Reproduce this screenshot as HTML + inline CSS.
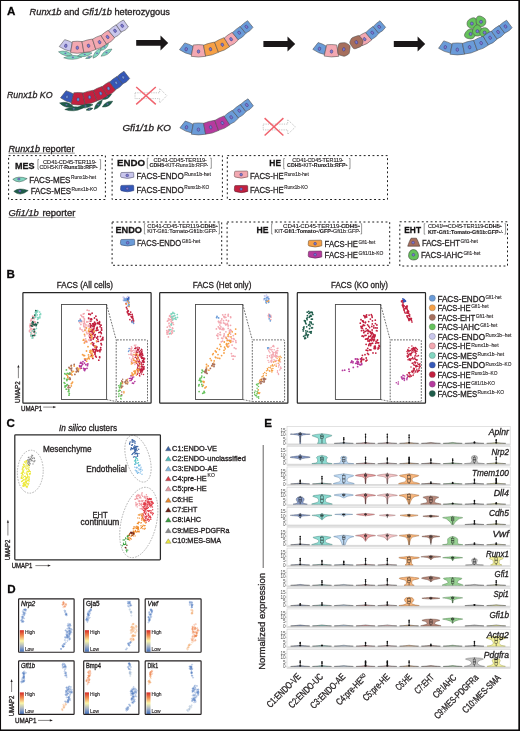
<!DOCTYPE html>
<html><head><meta charset="utf-8"><title>Figure</title>
<style>
html,body{margin:0;padding:0;background:#fff;}
body{width:520px;height:731px;overflow:hidden;}
svg{display:block;will-change:transform;font-family:"Liberation Sans", sans-serif;}
text{stroke:#231f20;stroke-width:0.3px;}
text.s{stroke-width:0.12px;}
text.t{stroke:none;}
</style></head><body>
<svg width="520" height="731" viewBox="0 0 520 731">
<rect x="0" y="0" width="520" height="731" fill="#fff"/>
<text x="7" y="15.1" font-size="11.6" font-weight="bold" fill="#000">A</text>
<text x="29.6" y="15" font-size="9.1" fill="#231f20" textLength="140.4" lengthAdjust="spacingAndGlyphs"><tspan font-style="italic">Runx1b</tspan> and <tspan font-style="italic">Gfi1/1b</tspan> heterozygous</text>
<path d="M58.5 51.8 Q64.49 57.41 72.3 54.9 Q66.31 49.29 58.5 51.8 Z" fill="#82d6c0" stroke="#3d5f57" stroke-width="0.45" stroke-linejoin="round"/><ellipse cx="65.4" cy="53.35" rx="1.1" ry="0.8" fill="#6a64b8" opacity="0.9"/>
<path d="M63.7 57.8 Q73.02 61.3 82 57 Q72.68 53.5 63.7 57.8 Z" fill="#82d6c0" stroke="#3d5f57" stroke-width="0.45" stroke-linejoin="round"/><ellipse cx="72.85" cy="57.4" rx="1.1" ry="0.8" fill="#6a64b8" opacity="0.9"/>
<path d="M77.5 56 Q85.54 58.32 92 53 Q83.96 50.68 77.5 56 Z" fill="#82d6c0" stroke="#3d5f57" stroke-width="0.45" stroke-linejoin="round"/><ellipse cx="84.75" cy="54.5" rx="1.1" ry="0.8" fill="#6a64b8" opacity="0.9"/>
<path d="M85.6 58.5 Q89.94 59.69 92.5 56 Q88.16 54.81 85.6 58.5 Z" fill="#82d6c0" stroke="#3d5f57" stroke-width="0.45" stroke-linejoin="round"/><ellipse cx="89.05" cy="57.25" rx="1.1" ry="0.8" fill="#6a64b8" opacity="0.9"/>
<path d="M93 58.2 Q100.24 55.86 101 48.3 Q93.76 50.64 93 58.2 Z" fill="#82d6c0" stroke="#3d5f57" stroke-width="0.45" stroke-linejoin="round"/><ellipse cx="97" cy="53.25" rx="1.1" ry="0.8" fill="#6a64b8" opacity="0.9"/>
<path d="M100.6 50.5 Q106.96 49.72 108.5 43.5 Q102.14 44.28 100.6 50.5 Z" fill="#82d6c0" stroke="#3d5f57" stroke-width="0.45" stroke-linejoin="round"/><ellipse cx="104.55" cy="47" rx="1.1" ry="0.8" fill="#6a64b8" opacity="0.9"/>
<path d="M101 56.2 Q108.64 55.86 112 49 Q104.36 49.34 101 56.2 Z" fill="#82d6c0" stroke="#3d5f57" stroke-width="0.45" stroke-linejoin="round"/><ellipse cx="106.5" cy="52.6" rx="1.1" ry="0.8" fill="#6a64b8" opacity="0.9"/>
<path d="M64.69 39.63 Q68.8 40.61 72.27 42.68 L70.76 51.35 Q64.68 50.32 59.28 46.57 Z" fill="#c9c6ec" stroke="#4a4a4a" stroke-width="0.55" stroke-linejoin="round"/>
<path d="M72.46 41.56 Q77.2 40.93 81.96 41.56 L83.93 52.59 Q77.22 53.99 70.54 52.59 Z" fill="#f3a8b1" stroke="#4a4a4a" stroke-width="0.55" stroke-linejoin="round"/>
<path d="M81.98 41.66 Q87.06 39.73 92.44 39.03 L95.83 49.49 Q90.23 52.34 83.92 52.49 Z" fill="#f3a8b1" stroke="#4a4a4a" stroke-width="0.55" stroke-linejoin="round"/>
<path d="M92.5 39.21 Q96.35 36.75 100.86 35.38 L106.63 44.27 Q101.66 48.1 95.77 49.29 Z" fill="#f3a8b1" stroke="#4a4a4a" stroke-width="0.55" stroke-linejoin="round"/>
<path d="M101.01 35.62 Q104.26 32.43 108.25 30.26 L114.67 37.92 Q111.41 42.08 106.46 44 Z" fill="#f3a8b1" stroke="#4a4a4a" stroke-width="0.55" stroke-linejoin="round"/>
<path d="M108.55 30.62 Q111.95 27.23 116.16 24.79 L121.3 32.18 Q118.61 36 114.33 37.52 Z" fill="#c9c6ec" stroke="#4a4a4a" stroke-width="0.55" stroke-linejoin="round"/>
<path d="M116.27 24.94 Q119.51 21.93 123.47 19.94 L128.38 27.01 Q125.57 30.66 121.18 32.01 Z" fill="#c9c6ec" stroke="#4a4a4a" stroke-width="0.55" stroke-linejoin="round"/>
<ellipse cx="65.8" cy="45.8" rx="1.3" ry="1.75" transform="rotate(9.87 65.8 45.8)" fill="#7d79d2" stroke="#35336e" stroke-width="0.45"/>
<ellipse cx="77.3" cy="47.8" rx="1.3" ry="1.75" transform="rotate(0 77.3 47.8)" fill="#7d79d2" stroke="#35336e" stroke-width="0.45"/>
<ellipse cx="88.5" cy="45.8" rx="1.3" ry="1.75" transform="rotate(-14.1 88.5 45.8)" fill="#7d79d2" stroke="#35336e" stroke-width="0.45"/>
<ellipse cx="99.6" cy="42.2" rx="1.3" ry="1.75" transform="rotate(-24.74 99.6 42.2)" fill="#7d79d2" stroke="#35336e" stroke-width="0.45"/>
<ellipse cx="107.6" cy="37" rx="1.3" ry="1.75" transform="rotate(-36.51 107.6 37)" fill="#7d79d2" stroke="#35336e" stroke-width="0.45"/>
<ellipse cx="115" cy="30.8" rx="1.3" ry="1.75" transform="rotate(-37.49 115 30.8)" fill="#7d79d2" stroke="#35336e" stroke-width="0.45"/>
<ellipse cx="122.2" cy="25.8" rx="1.3" ry="1.75" transform="rotate(-34.78 122.2 25.8)" fill="#7d79d2" stroke="#35336e" stroke-width="0.45"/>
<path d="M136.2 40 L160.5 40 L160.5 35.4 L168.2 42.9 L160.5 50.4 L160.5 45.8 L136.2 45.8 Z" fill="#1a1718"/>
<path d="M184.77 42.9 Q189.26 44.08 193.1 46.33 L191.52 54.79 Q185.18 53.6 179.48 49.68 Z" fill="#6a9bd8" stroke="#4a4a4a" stroke-width="0.55" stroke-linejoin="round"/>
<path d="M193.36 44.93 Q198.4 44.31 203.46 44.94 L205.65 56.33 Q198.42 57.73 191.23 56.34 Z" fill="#f3a8b1" stroke="#4a4a4a" stroke-width="0.55" stroke-linejoin="round"/>
<path d="M203.52 45.22 Q208.87 43.03 214.54 42.07 L218.46 52.35 Q212.43 55.52 205.59 56.02 Z" fill="#f6a046" stroke="#4a4a4a" stroke-width="0.55" stroke-linejoin="round"/>
<path d="M214.61 42.25 Q218.98 39.43 224.03 37.68 L229.65 46.67 Q224.5 50.72 218.38 52.15 Z" fill="#f6a046" stroke="#4a4a4a" stroke-width="0.55" stroke-linejoin="round"/>
<path d="M224.23 38 Q227.87 34.65 232.24 32.32 L238.37 39.96 Q234.71 44.28 229.43 46.31 Z" fill="#f3a8b1" stroke="#4a4a4a" stroke-width="0.55" stroke-linejoin="round"/>
<path d="M232.47 32.62 Q235.9 29.05 240.16 26.43 L245.82 33.42 Q242.78 37.67 238.11 39.64 Z" fill="#6a9bd8" stroke="#4a4a4a" stroke-width="0.55" stroke-linejoin="round"/>
<path d="M240.28 26.57 Q243.54 23.13 247.58 20.67 L252.99 27.36 Q250.22 31.4 245.69 33.26 Z" fill="#6a9bd8" stroke="#4a4a4a" stroke-width="0.55" stroke-linejoin="round"/>
<ellipse cx="186.2" cy="49.2" rx="1.3" ry="1.75" transform="rotate(10.59 186.2 49.2)" fill="#7d79d2" stroke="#35336e" stroke-width="0.45"/>
<ellipse cx="198.5" cy="51.5" rx="1.3" ry="1.75" transform="rotate(0 198.5 51.5)" fill="#7d79d2" stroke="#35336e" stroke-width="0.45"/>
<ellipse cx="210.5" cy="49.2" rx="1.3" ry="1.75" transform="rotate(-15.95 210.5 49.2)" fill="#7d79d2" stroke="#35336e" stroke-width="0.45"/>
<ellipse cx="222.3" cy="44.7" rx="1.3" ry="1.75" transform="rotate(-25.89 222.3 44.7)" fill="#7d79d2" stroke="#35336e" stroke-width="0.45"/>
<ellipse cx="231.1" cy="39.2" rx="1.3" ry="1.75" transform="rotate(-35.38 231.1 39.2)" fill="#7d79d2" stroke="#35336e" stroke-width="0.45"/>
<ellipse cx="239.2" cy="32.7" rx="1.3" ry="1.75" transform="rotate(-38.84 239.2 32.7)" fill="#7d79d2" stroke="#35336e" stroke-width="0.45"/>
<ellipse cx="246.5" cy="26.8" rx="1.3" ry="1.75" transform="rotate(-38.95 246.5 26.8)" fill="#7d79d2" stroke="#35336e" stroke-width="0.45"/>
<path d="M263.4 41.1 L287.5 41.1 L287.5 36.5 L295.2 44 L287.5 51.5 L287.5 46.9 L263.4 46.9 Z" fill="#1a1718"/>
<path d="M318.14 42.55 Q322.6 43.82 326.4 46.16 L324.51 54.55 Q318.32 53.3 312.84 49.33 Z" fill="#6a9bd8" stroke="#4a4a4a" stroke-width="0.55" stroke-linejoin="round"/>
<path d="M326.71 44.77 Q331.69 44.22 336.64 44.93 L338.77 56.34 Q331.46 57.61 324.16 56.09 Z" fill="#f3a8b1" stroke="#4a4a4a" stroke-width="0.55" stroke-linejoin="round"/>
<path d="M358.45 36.62 Q361.64 33.96 365.45 32.39 L371.77 39.88 Q367.65 43.99 362.03 45.74 Z" fill="#f3a8b1" stroke="#4a4a4a" stroke-width="0.55" stroke-linejoin="round"/>
<path d="M365.69 32.68 Q368.9 29.14 372.97 26.5 L378.82 33.34 Q376.01 37.56 371.5 39.56 Z" fill="#6a9bd8" stroke="#4a4a4a" stroke-width="0.55" stroke-linejoin="round"/>
<path d="M373.1 26.65 Q376.14 23.22 380 20.75 L385.58 27.28 Q383.04 31.3 378.68 33.18 Z" fill="#6a9bd8" stroke="#4a4a4a" stroke-width="0.55" stroke-linejoin="round"/>
<ellipse cx="319.5" cy="48.8" rx="1.3" ry="1.75" transform="rotate(12.68 319.5 48.8)" fill="#7d79d2" stroke="#35336e" stroke-width="0.45"/>
<ellipse cx="331.5" cy="51.5" rx="1.3" ry="1.75" transform="rotate(0.94 331.5 51.5)" fill="#7d79d2" stroke="#35336e" stroke-width="0.45"/>
<ellipse cx="364.6" cy="39.2" rx="1.3" ry="1.75" transform="rotate(-31.07 364.6 39.2)" fill="#7d79d2" stroke="#35336e" stroke-width="0.45"/>
<ellipse cx="372.3" cy="32.7" rx="1.3" ry="1.75" transform="rotate(-40.34 372.3 32.7)" fill="#7d79d2" stroke="#35336e" stroke-width="0.45"/>
<ellipse cx="379.2" cy="26.8" rx="1.3" ry="1.75" transform="rotate(-40.53 379.2 26.8)" fill="#7d79d2" stroke="#35336e" stroke-width="0.45"/>
<path d="M338.69 44.33 Q339.01 43.17 340.38 43.03 L343.88 42.68 Q345.26 42.54 346.36 43.2 L349.18 44.9 Q350.28 45.57 350.05 47.4 L349.45 52.06 Q349.21 53.9 348.13 54.46 L345.39 55.88 Q344.31 56.44 342.93 56.02 L339.4 54.96 Q338.01 54.55 337.91 53.2 L337.66 49.77 Q337.56 48.42 337.88 47.27Z" fill="#a66f5d" stroke="#4a4a4a" stroke-width="0.55" stroke-linejoin="round"/><ellipse cx="343.8" cy="49.3" rx="1.3" ry="1.75" transform="rotate(8 343.8 49.3)" fill="#7d79d2" stroke="#35336e" stroke-width="0.45"/>
<path d="M350.42 44.17 Q349.46 42.73 349.93 41.66 L351.12 38.95 Q351.59 37.88 353.25 37.28 L357.47 35.76 Q359.12 35.16 360.03 36.41 L362.34 39.58 Q363.25 40.83 362.88 42.04 L361.96 45.13 Q361.59 46.35 359.89 46.99 L355.53 48.63 Q353.82 49.27 352.86 47.83Z" fill="#a66f5d" stroke="#4a4a4a" stroke-width="0.55" stroke-linejoin="round"/><ellipse cx="356.4" cy="42.3" rx="1.3" ry="1.75" transform="rotate(-22 356.4 42.3)" fill="#7d79d2" stroke="#35336e" stroke-width="0.45"/>
<path d="M393.8 41.1 L417.6 41.1 L417.6 36.5 L425.2 44 L417.6 51.5 L417.6 46.9 L393.8 46.9 Z" fill="#1a1718"/>
<path d="M476.82 23.6 L476.63 24.87 L476.14 26.05 L475.36 27.06 L474.35 27.84 L473.17 28.33 L471.9 28.5 L470.63 28.33 L469.45 27.84 L468.44 27.06 L467.66 26.05 L467.17 24.87 L467 23.6 L467.17 22.33 L467.66 21.15 L468.43 20.13 L469.44 19.34 L470.58 18.69 L471.9 18.08 L473.48 17.71 L475.08 18.08 L476.21 19.29 L476.68 20.84 L476.81 22.28Z" fill="#66c25c" stroke="#4a4a4a" stroke-width="0.55" stroke-linejoin="round"/><ellipse cx="471.9" cy="23.6" rx="1.5" ry="1.6" fill="#7d79d2" stroke="#35336e" stroke-width="0.45"/>
<path d="M485.9 21.8 L485.73 23.07 L485.24 24.25 L484.46 25.26 L483.45 26.04 L482.27 26.53 L481 26.7 L479.73 26.53 L478.55 26.04 L477.54 25.26 L476.76 24.25 L476.27 23.07 L476.08 21.8 L476.09 20.48 L476.22 19.04 L476.69 17.49 L477.81 16.28 L479.42 15.91 L481 16.28 L482.32 16.89 L483.46 17.54 L484.47 18.33 L485.24 19.35 L485.73 20.53Z" fill="#66c25c" stroke="#4a4a4a" stroke-width="0.55" stroke-linejoin="round"/><ellipse cx="481" cy="21.8" rx="1.5" ry="1.6" fill="#7d79d2" stroke="#35336e" stroke-width="0.45"/>
<path d="M475.5 34 L475.33 35.27 L474.84 36.45 L474.06 37.46 L473.05 38.24 L471.87 38.73 L470.6 38.9 L469.32 38.78 L468 38.5 L466.56 38.04 L465.2 37.12 L464.48 35.64 L464.69 34 L465.44 32.62 L466.27 31.5 L467.13 30.53 L468.15 29.76 L469.33 29.27 L470.6 29.1 L471.87 29.27 L473.05 29.76 L474.06 30.54 L474.84 31.55 L475.33 32.73Z" fill="#66c25c" stroke="#4a4a4a" stroke-width="0.55" stroke-linejoin="round"/><ellipse cx="470.6" cy="34" rx="1.5" ry="1.6" fill="#7d79d2" stroke="#35336e" stroke-width="0.45"/>
<path d="M482.3 31.2 L482.13 32.47 L481.64 33.65 L480.86 34.66 L479.85 35.44 L478.67 35.93 L477.4 36.1 L476.13 35.93 L474.95 35.44 L473.94 34.66 L473.16 33.65 L472.67 32.47 L472.5 31.2 L472.67 29.93 L473.14 28.74 L473.81 27.61 L474.64 26.42 L475.82 25.31 L477.4 24.83 L478.98 25.31 L480.16 26.42 L480.99 27.61 L481.66 28.74 L482.13 29.93Z" fill="#66c25c" stroke="#4a4a4a" stroke-width="0.55" stroke-linejoin="round"/><ellipse cx="477.4" cy="31.2" rx="1.5" ry="1.6" fill="#7d79d2" stroke="#35336e" stroke-width="0.45"/>
<path d="M489.5 32.6 L489.34 33.87 L488.93 35.1 L488.38 36.38 L487.56 37.72 L486.24 38.72 L484.6 38.84 L483.12 38.12 L482 37.1 L481.1 36.1 L480.35 35.05 L479.87 33.87 L479.7 32.6 L479.87 31.33 L480.36 30.15 L481.14 29.14 L482.15 28.36 L483.33 27.87 L484.6 27.7 L485.87 27.87 L487.05 28.36 L488.06 29.14 L488.84 30.15 L489.33 31.33Z" fill="#66c25c" stroke="#4a4a4a" stroke-width="0.55" stroke-linejoin="round"/><ellipse cx="484.6" cy="32.6" rx="1.5" ry="1.6" fill="#7d79d2" stroke="#35336e" stroke-width="0.45"/>
<path d="M443.74 40.89 Q448.27 42.03 452.17 44.26 L450.34 53.08 Q444.12 52.03 438.57 48.26 Z" fill="#6a9bd8" stroke="#4a4a4a" stroke-width="0.55" stroke-linejoin="round"/>
<path d="M452.39 43.24 Q457.4 42.61 462.39 43.24 L464.62 54.21 Q457.38 55.61 450.1 54.21 Z" fill="#6a9bd8" stroke="#4a4a4a" stroke-width="0.55" stroke-linejoin="round"/>
<path d="M462.43 43.42 Q467.88 41.26 473.69 40.31 L477.29 50.5 Q471.29 53.6 464.58 54.01 Z" fill="#6a9bd8" stroke="#4a4a4a" stroke-width="0.55" stroke-linejoin="round"/>
<path d="M473.75 40.49 Q478.1 37.79 483.09 36.18 L488.48 45.07 Q483.33 49 477.22 50.3 Z" fill="#6a9bd8" stroke="#4a4a4a" stroke-width="0.55" stroke-linejoin="round"/>
<path d="M483.19 36.34 Q486.9 33.14 491.34 30.98 L497.15 39.13 Q493.5 43.2 488.37 44.89 Z" fill="#6a9bd8" stroke="#4a4a4a" stroke-width="0.55" stroke-linejoin="round"/>
<path d="M491.45 31.14 Q494.88 27.87 499.08 25.59 L504.81 33.3 Q501.7 37.28 497.02 38.95 Z" fill="#6a9bd8" stroke="#4a4a4a" stroke-width="0.55" stroke-linejoin="round"/>
<path d="M499.19 25.74 Q502.52 22.49 506.59 20.24 L512.08 27.63 Q509.22 31.5 504.68 33.13 Z" fill="#6a9bd8" stroke="#4a4a4a" stroke-width="0.55" stroke-linejoin="round"/>
<ellipse cx="445.3" cy="47.2" rx="1.3" ry="1.75" transform="rotate(11.77 445.3 47.2)" fill="#7d79d2" stroke="#35336e" stroke-width="0.45"/>
<ellipse cx="457.3" cy="49.7" rx="1.3" ry="1.75" transform="rotate(0 457.3 49.7)" fill="#7d79d2" stroke="#35336e" stroke-width="0.45"/>
<ellipse cx="469.6" cy="47.2" rx="1.3" ry="1.75" transform="rotate(-15.44 469.6 47.2)" fill="#7d79d2" stroke="#35336e" stroke-width="0.45"/>
<ellipse cx="481.2" cy="43.1" rx="1.3" ry="1.75" transform="rotate(-24.86 481.2 43.1)" fill="#7d79d2" stroke="#35336e" stroke-width="0.45"/>
<ellipse cx="490.1" cy="37.7" rx="1.3" ry="1.75" transform="rotate(-33.3 490.1 37.7)" fill="#7d79d2" stroke="#35336e" stroke-width="0.45"/>
<ellipse cx="498.1" cy="32" rx="1.3" ry="1.75" transform="rotate(-36.03 498.1 32)" fill="#7d79d2" stroke="#35336e" stroke-width="0.45"/>
<ellipse cx="505.5" cy="26.5" rx="1.3" ry="1.75" transform="rotate(-36.62 505.5 26.5)" fill="#7d79d2" stroke="#35336e" stroke-width="0.45"/>
<text x="7" y="98" font-size="9.3" font-style="italic" fill="#231f20" textLength="45.5" lengthAdjust="spacingAndGlyphs">Runx1b KO</text>
<path d="M59.6 103 Q65.44 109.08 73.5 106.6 Q67.66 100.52 59.6 103 Z" fill="#1f5d4b" stroke="#173f33" stroke-width="0.45" stroke-linejoin="round"/><ellipse cx="66.55" cy="104.8" rx="1.1" ry="0.8" fill="#6a64b8" opacity="0.9"/>
<path d="M64.8 109.5 Q74.03 112.74 82.7 108.2 Q73.47 104.96 64.8 109.5 Z" fill="#1f5d4b" stroke="#173f33" stroke-width="0.45" stroke-linejoin="round"/><ellipse cx="73.75" cy="108.85" rx="1.1" ry="0.8" fill="#6a64b8" opacity="0.9"/>
<path d="M78 107.2 Q86.14 109.8 93 104.7 Q84.86 102.1 78 107.2 Z" fill="#1f5d4b" stroke="#173f33" stroke-width="0.45" stroke-linejoin="round"/><ellipse cx="85.5" cy="105.95" rx="1.1" ry="0.8" fill="#6a64b8" opacity="0.9"/>
<path d="M86 110.1 Q90.18 111.66 93 108.2 Q88.82 106.64 86 110.1 Z" fill="#1f5d4b" stroke="#173f33" stroke-width="0.45" stroke-linejoin="round"/><ellipse cx="89.5" cy="109.15" rx="1.1" ry="0.8" fill="#6a64b8" opacity="0.9"/>
<path d="M94.2 109.5 Q101.22 107.28 102.3 100 Q95.28 102.22 94.2 109.5 Z" fill="#1f5d4b" stroke="#173f33" stroke-width="0.45" stroke-linejoin="round"/><ellipse cx="98.25" cy="104.75" rx="1.1" ry="0.8" fill="#6a64b8" opacity="0.9"/>
<path d="M102.3 99.5 Q108.77 99.87 111.5 94 Q105.03 93.63 102.3 99.5 Z" fill="#1f5d4b" stroke="#173f33" stroke-width="0.45" stroke-linejoin="round"/><ellipse cx="106.9" cy="96.75" rx="1.1" ry="0.8" fill="#6a64b8" opacity="0.9"/>
<path d="M102.3 107 Q109.4 107.51 112.7 101.2 Q105.6 100.69 102.3 107 Z" fill="#1f5d4b" stroke="#173f33" stroke-width="0.45" stroke-linejoin="round"/><ellipse cx="107.5" cy="104.1" rx="1.1" ry="0.8" fill="#6a64b8" opacity="0.9"/>
<path d="M66.04 90.72 Q70.11 91.84 73.52 94.04 L71.47 102.8 Q65.59 101.65 60.5 97.82 Z" fill="#3558b8" stroke="#4a4a4a" stroke-width="0.55" stroke-linejoin="round"/>
<path d="M73.83 92.74 Q78.31 92.17 82.75 92.85 L85.06 104.42 Q78.1 105.73 71.14 104.23 Z" fill="#c2203f" stroke="#4a4a4a" stroke-width="0.55" stroke-linejoin="round"/>
<path d="M82.79 93.04 Q87.93 91 93.4 90.18 L97.09 100.96 Q91.42 103.94 85.02 104.22 Z" fill="#c2203f" stroke="#4a4a4a" stroke-width="0.55" stroke-linejoin="round"/>
<path d="M93.46 90.36 Q97.31 87.91 101.82 86.53 L107.67 95.84 Q102.79 99.63 97.02 100.76 Z" fill="#c2203f" stroke="#4a4a4a" stroke-width="0.55" stroke-linejoin="round"/>
<path d="M101.97 86.77 Q105.35 83.7 109.41 81.68 L115.6 90.04 Q112.36 93.95 107.5 95.57 Z" fill="#c2203f" stroke="#4a4a4a" stroke-width="0.55" stroke-linejoin="round"/>
<path d="M109.64 81.98 Q112.88 78.75 116.91 76.49 L122.78 84.09 Q119.87 88.04 115.35 89.7 Z" fill="#3558b8" stroke="#4a4a4a" stroke-width="0.55" stroke-linejoin="round"/>
<path d="M117.03 76.64 Q120.15 73.44 124.03 71.24 L129.65 78.52 Q127.01 82.33 122.65 83.92 Z" fill="#3558b8" stroke="#4a4a4a" stroke-width="0.55" stroke-linejoin="round"/>
<ellipse cx="67" cy="96.9" rx="1.3" ry="1.75" transform="rotate(13.18 67 96.9)" fill="#6c95d8" stroke="#35336e" stroke-width="0.45"/>
<ellipse cx="78.1" cy="99.5" rx="1.3" ry="1.75" transform="rotate(0.76 78.1 99.5)" fill="#6c95d8" stroke="#35336e" stroke-width="0.45"/>
<ellipse cx="89.6" cy="97.2" rx="1.3" ry="1.75" transform="rotate(-15.1 89.6 97.2)" fill="#6c95d8" stroke="#35336e" stroke-width="0.45"/>
<ellipse cx="100.7" cy="93.4" rx="1.3" ry="1.75" transform="rotate(-24.72 100.7 93.4)" fill="#6c95d8" stroke="#35336e" stroke-width="0.45"/>
<ellipse cx="108.5" cy="88.5" rx="1.3" ry="1.75" transform="rotate(-34.37 108.5 88.5)" fill="#6c95d8" stroke="#35336e" stroke-width="0.45"/>
<ellipse cx="116.2" cy="82.8" rx="1.3" ry="1.75" transform="rotate(-37.06 116.2 82.8)" fill="#6c95d8" stroke="#35336e" stroke-width="0.45"/>
<ellipse cx="123.2" cy="77.4" rx="1.3" ry="1.75" transform="rotate(-37.65 123.2 77.4)" fill="#6c95d8" stroke="#35336e" stroke-width="0.45"/>
<path d="M135 92.8 L159.6 92.8 L159.6 88.4 L166.8 95.7 L159.6 103 L159.6 98.6 L135 98.6 Z" fill="none" stroke="#7a7a7a" stroke-width="0.45" stroke-dasharray="1.2 1.1"/>
<path d="M136.2 87 L155.8 104.4 M155.8 87 L136.2 104.4" stroke="#f0646e" stroke-width="1.5" stroke-linecap="butt"/>
<text x="122.4" y="130.8" font-size="9.3" font-style="italic" fill="#231f20" textLength="48.5" lengthAdjust="spacingAndGlyphs">Gfi1/1b KO</text>
<path d="M185.19 121.1 Q189.53 122.23 193.23 124.44 L191.59 132.88 Q185.41 131.74 179.9 127.87 Z" fill="#6a9bd8" stroke="#4a4a4a" stroke-width="0.55" stroke-linejoin="round"/>
<path d="M193.46 123.23 Q198.53 122.59 203.57 123.22 L205.63 134.23 Q198.51 135.63 191.33 134.22 Z" fill="#6a9bd8" stroke="#4a4a4a" stroke-width="0.55" stroke-linejoin="round"/>
<path d="M203.59 123.31 Q209 121.17 214.75 120.25 L218.54 130.57 Q212.45 133.7 205.61 134.13 Z" fill="#b53a9e" stroke="#4a4a4a" stroke-width="0.55" stroke-linejoin="round"/>
<path d="M214.81 120.42 Q219.11 117.64 224.06 115.92 L229.83 124.82 Q224.65 128.91 218.47 130.37 Z" fill="#b53a9e" stroke="#4a4a4a" stroke-width="0.55" stroke-linejoin="round"/>
<path d="M224.22 116.16 Q227.86 112.73 232.25 110.32 L238.57 118.07 Q234.93 122.45 229.65 124.56 Z" fill="#6a9bd8" stroke="#4a4a4a" stroke-width="0.55" stroke-linejoin="round"/>
<path d="M232.49 110.61 Q236.03 107.02 240.41 104.37 L245.97 111.7 Q242.94 115.86 238.3 117.74 Z" fill="#6a9bd8" stroke="#4a4a4a" stroke-width="0.55" stroke-linejoin="round"/>
<path d="M240.52 104.52 Q243.89 101.17 248.02 98.82 L253.35 105.83 Q250.44 109.79 245.85 111.53 Z" fill="#6a9bd8" stroke="#4a4a4a" stroke-width="0.55" stroke-linejoin="round"/>
<ellipse cx="186.5" cy="127.3" rx="1.3" ry="1.75" transform="rotate(10.94 186.5 127.3)" fill="#7d79d2" stroke="#35336e" stroke-width="0.45"/>
<ellipse cx="198.4" cy="129.6" rx="1.3" ry="1.75" transform="rotate(0 198.4 129.6)" fill="#7d79d2" stroke="#35336e" stroke-width="0.45"/>
<ellipse cx="210.7" cy="127.3" rx="1.3" ry="1.75" transform="rotate(-15.38 210.7 127.3)" fill="#7d79d2" stroke="#35336e" stroke-width="0.45"/>
<ellipse cx="222.4" cy="123" rx="1.3" ry="1.75" transform="rotate(-26 222.4 123)" fill="#7d79d2" stroke="#35336e" stroke-width="0.45"/>
<ellipse cx="231.2" cy="117.3" rx="1.3" ry="1.75" transform="rotate(-36.05 231.2 117.3)" fill="#7d79d2" stroke="#35336e" stroke-width="0.45"/>
<ellipse cx="239.3" cy="110.7" rx="1.3" ry="1.75" transform="rotate(-38.25 239.3 110.7)" fill="#7d79d2" stroke="#35336e" stroke-width="0.45"/>
<ellipse cx="246.8" cy="105" rx="1.3" ry="1.75" transform="rotate(-37.23 246.8 105)" fill="#7d79d2" stroke="#35336e" stroke-width="0.45"/>
<path d="M263.2 124.1 L287.7 124.1 L287.7 119.7 L295.4 127 L287.7 134.3 L287.7 129.9 L263.2 129.9 Z" fill="none" stroke="#7a7a7a" stroke-width="0.45" stroke-dasharray="1.2 1.1"/>
<path d="M264.6 118.1 L283.4 135.5 M283.4 118.1 L264.6 135.5" stroke="#f0646e" stroke-width="1.5" stroke-linecap="butt"/>
<text x="8.5" y="151.6" font-size="8.2" fill="#231f20" textLength="66" lengthAdjust="spacingAndGlyphs"><tspan font-style="italic">Runx1b</tspan> reporter</text>
<line x1="8.5" y1="153.2" x2="74.8" y2="153.2" stroke="#555" stroke-width="0.6"/>
<rect x="8.6" y="155.6" width="96.8" height="43.9" stroke="#1e1e1e" stroke-width="1.0" stroke-dasharray="1.9 2.5" fill="none"/>
<rect x="112.1" y="155.6" width="110.3" height="43.9" stroke="#1e1e1e" stroke-width="1.0" stroke-dasharray="1.9 2.5" fill="none"/>
<rect x="227.3" y="155.6" width="160.2" height="43.9" stroke="#1e1e1e" stroke-width="1.0" stroke-dasharray="1.9 2.5" fill="none"/>
<text x="15" y="168.7" font-size="9.3" font-weight="bold" fill="#111" textLength="19.5" lengthAdjust="spacingAndGlyphs">MES</text>
<path d="M39 159.6 L37.9 159.6 L37.9 169.2 L39 169.2" fill="none" stroke="#444" stroke-width="0.55"/>
<path d="M99.5 159.6 L100.6 159.6 L100.6 169.2 L99.5 169.2" fill="none" stroke="#444" stroke-width="0.55"/>
<text class="s" x="43" y="163.7" font-size="4.75" fill="#231f20" textLength="53.2" lengthAdjust="spacingAndGlyphs">CD41<tspan font-size="3.2" baseline-shift="1.5">-</tspan>CD45<tspan font-size="3.2" baseline-shift="1.5">-</tspan>TER119<tspan font-size="3.2" baseline-shift="1.5">-</tspan></text><text class="s" x="39.6" y="168.6" font-size="4.75" fill="#231f20" textLength="58.2" lengthAdjust="spacingAndGlyphs">CDH5<tspan font-size="3.2" baseline-shift="1.5">-</tspan>KIT<tspan font-size="3.2" baseline-shift="1.5">-</tspan><tspan font-weight="bold">Runx1b:RFP</tspan><tspan font-size="3.2" baseline-shift="1.5">+</tspan></text>
<path d="M12.8 179.35 Q17.84 175.35 27.2 178.6 Q23.6 181.35 19.28 181.85 Q15.68 181.85 12.8 179.35 Z" fill="#82d6c0" stroke="#2b4d43" stroke-width="0.5" stroke-linejoin="round"/><ellipse cx="18.85" cy="179.1" rx="1.3" ry="1.0" fill="#7d79d2" stroke="#35336e" stroke-width="0.35"/>
<path d="M13.8 191.37 Q18.84 187.05 28.2 190.56 Q24.6 193.53 20.28 194.07 Q16.68 194.07 13.8 191.37 Z" fill="#1f5d4b" stroke="#173f33" stroke-width="0.5" stroke-linejoin="round"/><ellipse cx="19.85" cy="191.1" rx="1.3" ry="1.0" fill="#7d79d2" stroke="#35336e" stroke-width="0.35"/>
<text x="29.2" y="182.5" font-size="9.3" fill="#231f20" textLength="41.3" lengthAdjust="spacingAndGlyphs">FACS-MES</text><text class="s" x="71.1" y="179.2" font-size="4.6" fill="#231f20" textLength="25" lengthAdjust="spacingAndGlyphs">Runx1b-het</text>
<text x="30.7" y="194" font-size="9.3" fill="#231f20" textLength="40.3" lengthAdjust="spacingAndGlyphs">FACS-MES</text><text class="s" x="71.6" y="190.7" font-size="4.6" fill="#231f20" textLength="25.4" lengthAdjust="spacingAndGlyphs">Runx1b-KO</text>
<text x="117" y="166.4" font-size="9.3" font-weight="bold" fill="#111" textLength="28.1" lengthAdjust="spacingAndGlyphs">ENDO</text>
<path d="M148.4 158.2 L147.3 158.2 L147.3 168.3 L148.4 168.3" fill="none" stroke="#444" stroke-width="0.55"/>
<path d="M210.2 158.2 L211.3 158.2 L211.3 168.3 L210.2 168.3" fill="none" stroke="#444" stroke-width="0.55"/>
<text class="s" x="153.5" y="161.6" font-size="4.75" fill="#231f20" textLength="53" lengthAdjust="spacingAndGlyphs">CD41<tspan font-size="3.2" baseline-shift="1.5">-</tspan>CD45<tspan font-size="3.2" baseline-shift="1.5">-</tspan>TER119<tspan font-size="3.2" baseline-shift="1.5">-</tspan></text><text class="s" x="149.6" y="167.3" font-size="4.75" fill="#231f20" textLength="58.4" lengthAdjust="spacingAndGlyphs"><tspan font-weight="bold">CDH5</tspan><tspan font-size="3.2" baseline-shift="1.5">+</tspan>KIT<tspan font-size="3.2" baseline-shift="1.5">-</tspan>Runx1b:RFP<tspan font-size="3.2" baseline-shift="1.5">-</tspan></text>
<path d="M121.8 172.5 L132.8 172.3 Q133.7 172.3 133.7 173.2 L133.8 177.2 Q127.25 179.6 121.1 177.3 L120.5 176.21 L120.8 173.2 Q120.8 172.5 121.8 172.5 Z" fill="#c9c6ec" stroke="#3b3b5a" stroke-width="0.5" stroke-linejoin="round"/><ellipse cx="127.25" cy="175.45" rx="1.35" ry="1.35" fill="#7d79d2" stroke="#35336e" stroke-width="0.45"/>
<path d="M121.8 185.4 L132.8 185.2 Q133.7 185.2 133.7 186.1 L133.8 190.6 Q127.25 193 121.1 190.7 L120.5 189.42 L120.8 186.1 Q120.8 185.4 121.8 185.4 Z" fill="#3558b8" stroke="#1f2f6a" stroke-width="0.5" stroke-linejoin="round"/><ellipse cx="127.25" cy="188.6" rx="1.35" ry="1.35" fill="#7d79d2" stroke="#35336e" stroke-width="0.45"/>
<text x="136.5" y="179.2" font-size="9.3" fill="#231f20" textLength="47.2" lengthAdjust="spacingAndGlyphs">FACS-ENDO</text><text class="s" x="184.3" y="175.9" font-size="4.6" fill="#231f20" textLength="26.6" lengthAdjust="spacingAndGlyphs">Runx1b-het</text>
<text x="136.5" y="192.6" font-size="9.3" fill="#231f20" textLength="47.2" lengthAdjust="spacingAndGlyphs">FACS-ENDO</text><text class="s" x="184.3" y="189.3" font-size="4.6" fill="#231f20" textLength="25" lengthAdjust="spacingAndGlyphs">Runx1b-KO</text>
<text x="269.3" y="166.2" font-size="9.3" font-weight="bold" fill="#111" textLength="11.7" lengthAdjust="spacingAndGlyphs">HE</text>
<path d="M284.8 158.5 L283.7 158.5 L283.7 168.8 L284.8 168.8" fill="none" stroke="#444" stroke-width="0.55"/>
<path d="M348.9 158.5 L350 158.5 L350 168.8 L348.9 168.8" fill="none" stroke="#444" stroke-width="0.55"/>
<text class="s" x="292.3" y="161.7" font-size="4.75" fill="#231f20" textLength="51" lengthAdjust="spacingAndGlyphs">CD41<tspan font-size="3.2" baseline-shift="1.5">-</tspan>CD45<tspan font-size="3.2" baseline-shift="1.5">-</tspan>TER119<tspan font-size="3.2" baseline-shift="1.5">-</tspan></text><text class="s" x="287.1" y="167.2" font-size="4.75" fill="#231f20" textLength="60.5" lengthAdjust="spacingAndGlyphs"><tspan font-weight="bold">CDH5</tspan><tspan font-size="3.2" baseline-shift="1.5">+</tspan>KIT<tspan font-size="3.2" baseline-shift="1.5">+</tspan><tspan font-weight="bold">Runx1b:RFP</tspan><tspan font-size="3.2" baseline-shift="1.5">+</tspan></text>
<path d="M235.6 171.2 L246.8 171 Q247.7 171 247.7 171.9 L247.8 176.9 Q241.15 179.3 234.9 177 L234.3 175.53 L234.6 171.9 Q234.6 171.2 235.6 171.2 Z" fill="#f3a8b1" stroke="#5a3a3a" stroke-width="0.5" stroke-linejoin="round"/><ellipse cx="241.15" cy="174.65" rx="1.35" ry="1.35" fill="#7d79d2" stroke="#35336e" stroke-width="0.45"/>
<path d="M235.6 185.6 L246.8 185.4 Q247.7 185.4 247.7 186.3 L247.8 191.4 Q241.15 193.8 234.9 191.5 L234.3 189.99 L234.6 186.3 Q234.6 185.6 235.6 185.6 Z" fill="#c2203f" stroke="#4a1020" stroke-width="0.5" stroke-linejoin="round"/><ellipse cx="241.15" cy="189.1" rx="1.35" ry="1.35" fill="#7d79d2" stroke="#35336e" stroke-width="0.45"/>
<text x="250" y="179.1" font-size="9.3" fill="#231f20" textLength="33.7" lengthAdjust="spacingAndGlyphs">FACS-HE</text><text class="s" x="284.3" y="175.8" font-size="4.6" fill="#231f20" textLength="24.5" lengthAdjust="spacingAndGlyphs">Runx1b-het</text>
<text x="250" y="192.6" font-size="9.3" fill="#231f20" textLength="33.7" lengthAdjust="spacingAndGlyphs">FACS-HE</text><text class="s" x="284.3" y="189.3" font-size="4.6" fill="#231f20" textLength="23.5" lengthAdjust="spacingAndGlyphs">Runx1b-KO</text>
<text x="8.5" y="215.8" font-size="8.2" fill="#231f20" textLength="66.8" lengthAdjust="spacingAndGlyphs"><tspan font-style="italic" stroke="#231f20" stroke-width="0.25">Gfi1/1b</tspan><tspan dx="3.2">reporter</tspan></text>
<line x1="8.5" y1="217.4" x2="75.4" y2="217.4" stroke="#555" stroke-width="0.6"/>
<rect x="112.1" y="222" width="109.6" height="43.3" stroke="#1e1e1e" stroke-width="1.0" stroke-dasharray="1.9 2.5" fill="none"/>
<rect x="227.1" y="222" width="162.6" height="43.3" stroke="#1e1e1e" stroke-width="1.0" stroke-dasharray="1.9 2.5" fill="none"/>
<rect x="399.8" y="221.8" width="107.7" height="44.2" stroke="#1e1e1e" stroke-width="1.0" stroke-dasharray="1.9 2.5" fill="none"/>
<text x="115.4" y="233.1" font-size="9.3" font-weight="bold" fill="#111" textLength="26.6" lengthAdjust="spacingAndGlyphs">ENDO</text>
<path d="M145.5 223.7 L144.4 223.7 L144.4 234 L145.5 234" fill="none" stroke="#444" stroke-width="0.55"/>
<path d="M218.3 223.7 L219.4 223.7 L219.4 234 L218.3 234" fill="none" stroke="#444" stroke-width="0.55"/>
<text class="s" x="147.3" y="227.9" font-size="4.75" fill="#231f20" textLength="70.7" lengthAdjust="spacingAndGlyphs">CD41<tspan font-size="3.2" baseline-shift="1.5">-</tspan>CD45<tspan font-size="3.2" baseline-shift="1.5">-</tspan>TER119<tspan font-size="3.2" baseline-shift="1.5">-</tspan><tspan font-weight="bold">CDH5</tspan><tspan font-size="3.2" baseline-shift="1.5">+</tspan></text><text class="s" x="147.3" y="233.2" font-size="4.75" fill="#231f20" textLength="69.8" lengthAdjust="spacingAndGlyphs">KIT<tspan font-size="3.2" baseline-shift="1.5">-</tspan>Gfi1:Tomato<tspan font-size="3.2" baseline-shift="1.5">-</tspan>Gfi1b:GFP<tspan font-size="3.2" baseline-shift="1.5">-</tspan></text>
<path d="M121.7 239.5 L133.7 239.3 Q134.6 239.3 134.6 240.2 L134.7 244.8 Q127.65 247.2 121 244.9 L120.4 243.58 L120.7 240.2 Q120.7 239.5 121.7 239.5 Z" fill="#6a9bd8" stroke="#2a3a5a" stroke-width="0.5" stroke-linejoin="round"/><ellipse cx="127.65" cy="242.75" rx="1.35" ry="1.35" fill="#7d79d2" stroke="#35336e" stroke-width="0.45"/>
<text x="136.9" y="246.3" font-size="9.3" fill="#231f20" textLength="44.3" lengthAdjust="spacingAndGlyphs">FACS-ENDO</text><text class="s" x="181.8" y="243" font-size="4.6" fill="#231f20" textLength="18.5" lengthAdjust="spacingAndGlyphs">Gfi1-het</text>
<text x="256.6" y="233.1" font-size="9.3" font-weight="bold" fill="#111" textLength="12" lengthAdjust="spacingAndGlyphs">HE</text>
<path d="M272.7 223.7 L271.6 223.7 L271.6 234 L272.7 234" fill="none" stroke="#444" stroke-width="0.55"/>
<path d="M360.5 223.7 L361.6 223.7 L361.6 234 L360.5 234" fill="none" stroke="#444" stroke-width="0.55"/>
<text class="s" x="283.1" y="227.9" font-size="4.75" fill="#231f20" textLength="77" lengthAdjust="spacingAndGlyphs">CD41<tspan font-size="3.2" baseline-shift="1.5">-</tspan>CD45<tspan font-size="3.2" baseline-shift="1.5">-</tspan>TER119<tspan font-size="3.2" baseline-shift="1.5">-</tspan><tspan font-weight="bold">CDH5</tspan><tspan font-size="3.2" baseline-shift="1.5">+</tspan></text><text class="s" x="274.6" y="233.2" font-size="4.75" fill="#231f20" textLength="85.5" lengthAdjust="spacingAndGlyphs">KIT<tspan font-size="3.2" baseline-shift="1.5">-</tspan><tspan font-weight="bold">Gfi1:Tomato</tspan><tspan font-size="3.2" baseline-shift="1.5">+</tspan>/<tspan font-weight="bold">GFP</tspan><tspan font-size="3.2" baseline-shift="1.5">+</tspan>Gfi1b:GFP<tspan font-size="3.2" baseline-shift="1.5">-</tspan></text>
<path d="M309.5 240.4 L320.8 240.2 Q321.7 240.2 321.7 241.1 L321.8 245.8 Q315.1 248.2 308.8 245.9 L308.2 244.54 L308.5 241.1 Q308.5 240.4 309.5 240.4 Z" fill="#f6a046" stroke="#5a3a1a" stroke-width="0.5" stroke-linejoin="round"/><ellipse cx="315.1" cy="243.7" rx="1.35" ry="1.35" fill="#7d79d2" stroke="#35336e" stroke-width="0.45"/>
<path d="M309.5 251.2 L320.8 251 Q321.7 251 321.7 251.9 L321.8 256.9 Q315.1 259.3 308.8 257 L308.2 255.53 L308.5 251.9 Q308.5 251.2 309.5 251.2 Z" fill="#b53a9e" stroke="#4a1a40" stroke-width="0.5" stroke-linejoin="round"/><ellipse cx="315.1" cy="254.65" rx="1.35" ry="1.35" fill="#7d79d2" stroke="#35336e" stroke-width="0.45"/>
<text x="324.6" y="247" font-size="9.3" fill="#231f20" textLength="33.4" lengthAdjust="spacingAndGlyphs">FACS-HE</text><text class="s" x="358.6" y="243.7" font-size="4.6" fill="#231f20" textLength="16.6" lengthAdjust="spacingAndGlyphs">Gfi1-het</text>
<text x="324.6" y="257.8" font-size="9.3" fill="#231f20" textLength="33.4" lengthAdjust="spacingAndGlyphs">FACS-HE</text><text class="s" x="358.6" y="254.5" font-size="4.6" fill="#231f20" textLength="24.7" lengthAdjust="spacingAndGlyphs">Gfi1/1b-KO</text>
<text x="404.3" y="233.1" font-size="9.3" font-weight="bold" fill="#111" textLength="16.7" lengthAdjust="spacingAndGlyphs">EHT</text>
<path d="M425.3 223.7 L424.2 223.7 L424.2 234.2 L425.3 234.2" fill="none" stroke="#444" stroke-width="0.55"/>
<path d="M504.5 223.7 L505.6 223.7 L505.6 234.2 L504.5 234.2" fill="none" stroke="#444" stroke-width="0.55"/>
<text class="s" x="428" y="228.2" font-size="4.75" fill="#231f20" textLength="74" lengthAdjust="spacingAndGlyphs">CD41<tspan font-size="3.2" baseline-shift="1.5">low</tspan>CD45<tspan font-size="3.2" baseline-shift="1.5">-</tspan>TER119<tspan font-size="3.2" baseline-shift="1.5">-</tspan><tspan font-weight="bold">CDH5</tspan><tspan font-size="3.2" baseline-shift="1.5">+</tspan></text><text class="s" x="428" y="233.7" font-size="4.75" fill="#231f20" textLength="75" lengthAdjust="spacingAndGlyphs"><tspan font-weight="bold">KIT</tspan><tspan font-size="3.2" baseline-shift="1.5">+</tspan><tspan font-weight="bold">Gfi1:Tomato</tspan><tspan font-size="3.2" baseline-shift="1.5">+</tspan><tspan font-weight="bold">Gfi1b:GFP</tspan><tspan font-size="3.2" baseline-shift="1.5">+/-</tspan></text>
<path d="M411.09 238.2 L416.41 238.2 Q417.99 240.6 419.8 246.2 L407.7 246.2 Q409.51 240.6 411.09 238.2 Z" fill="#a66f5d" stroke="#3a2a25" stroke-width="0.55" stroke-linejoin="round"/><ellipse cx="413.14" cy="242.6" rx="1.4" ry="1.4" fill="#7d79d2" stroke="#35336e" stroke-width="0.4"/>
<path d="M412.68 249.6 C418.29 249.08 419.31 255.84 417.78 258.44 C415.23 261.04 408.6 260.52 408.6 255.84 C408.6 252.2 410.13 250.12 412.68 249.6 Z" fill="#66c25c" stroke="#2a3a2a" stroke-width="0.55"/><ellipse cx="413.4" cy="254.8" rx="1.4" ry="1.4" fill="#7d79d2" stroke="#35336e" stroke-width="0.4"/>
<text x="421.9" y="246.3" font-size="9.3" fill="#231f20" textLength="38.1" lengthAdjust="spacingAndGlyphs">FACS-EHT</text><text class="s" x="460.6" y="243" font-size="4.6" fill="#231f20" textLength="17.2" lengthAdjust="spacingAndGlyphs">Gfi1-het</text>
<text x="421" y="258.3" font-size="9.3" fill="#231f20" textLength="41.8" lengthAdjust="spacingAndGlyphs">FACS-IAHC</text><text class="s" x="463.4" y="255" font-size="4.6" fill="#231f20" textLength="17" lengthAdjust="spacingAndGlyphs">Gfi1-het</text>
<text x="6.4" y="278" font-size="11.6" font-weight="bold" fill="#000">B</text>
<text x="56.8" y="287.8" font-size="8.6" fill="#231f20" textLength="56.2" lengthAdjust="spacingAndGlyphs">FACS (All cells)</text>
<path d="M32.3 318.6h0M34.6 316.9h0M33.2 323.8h0M29.9 326.9h0M29.9 325.2h0M31.5 334.8h0M30.9 320.2h0M32.6 337.8h0M33.4 324.6h0M35.4 322.2h0M30.8 334.5h0M30.5 328.8h0M33.9 324h0M33.9 316.6h0M34 325.4h0M31.3 328.9h0M32.8 322.2h0M34.2 331.9h0M30.9 328.6h0M32.1 336h0M34.6 322.1h0M31.6 333.1h0M30.5 326.5h0M29.4 330.8h0M34.2 328.9h0M35.5 322.8h0M33.7 329.4h0M33.3 326h0M32.2 330.9h0M29.5 331.6h0M35.2 322h0M31.6 331h0M29.7 325.8h0M30.9 320.8h0M31.2 335.8h0M30.1 325.6h0M32.2 336.2h0M34 335.9h0M31.5 324.9h0M31 336.1h0M31.2 320.4h0M31 326.5h0M33.8 321.4h0M31.7 328.5h0M35.2 331.8h0M32.6 329.8h0M34.8 316.4h0M34.7 333.9h0M34.5 334.3h0M32.2 324.5h0M29.9 330h0M31.5 318.8h0M32.6 316.2h0M30.4 323.5h0M34.2 318.7h0" stroke="#f3a8b1" stroke-width="1.7" stroke-linecap="round"/>
<path d="M35.7 313.6h0M36.4 311.6h0M37.2 314.9h0M36.3 312.9h0M39.7 312h0M37.6 311.8h0M37.7 310.7h0M37.6 319.3h0M39.9 316.8h0M35.7 313.8h0M35.1 317.4h0M37.6 317.5h0M36.2 312.5h0M39.9 317.8h0M39.6 317.2h0M35.5 315.2h0M36.4 310.8h0M35.7 316.7h0M40.6 314.5h0M40.6 313.8h0M35.4 312.5h0M35.3 312.3h0M38.3 318.6h0M39.8 314.8h0M38.5 317.7h0" stroke="#82d6c0" stroke-width="1.7" stroke-linecap="round"/>
<path d="M30.7 332.7h0M35.4 335.3h0M34.9 329.7h0M31 335h0M31.9 335.3h0M36.4 328.4h0M32.1 338h0M35.3 324.2h0M30.8 335.7h0M32.4 330.8h0M36 332.9h0M32.9 337.8h0M32.4 336.6h0M35.8 325h0" stroke="#82d6c0" stroke-width="1.7" stroke-linecap="round"/>
<path d="M32.9 318.1h0M32.1 326.2h0M32.7 321.6h0M33.3 322.7h0M34.1 335.3h0M32.7 335.6h0M34.3 324.9h0M35.8 310.6h0M34.7 315.1h0M31.9 323h0M36.1 325.7h0M33 324.4h0M34.1 332h0M31.1 325.4h0M32.9 317.6h0M36.6 324.4h0M34.3 331.3h0M37.8 322.7h0M35.3 324.2h0M34 329.4h0" stroke="#1f5d4b" stroke-width="1.7" stroke-linecap="round"/>
<path d="M126.1 299.2h0M126.2 302.1h0M127.8 301.6h0M126.8 302.1h0M128.8 296.5h0M123.7 298.6h0M123.3 297.2h0M123.3 300.2h0M128.4 301.8h0M123.9 300.5h0M127.6 296.5h0M125.7 298.9h0M124 298.5h0M126.5 297.9h0M124.2 297.7h0M126.8 298.6h0" stroke="#c9c6ec" stroke-width="1.7" stroke-linecap="round"/>
<path d="M128.2 301.9h0M124.2 300.4h0M124.9 298.8h0M128 306.1h0M128.9 299.1h0M128.4 303.8h0M128.4 300.9h0M129.1 304.7h0M126.7 300.5h0M128.9 306h0M124.9 298.8h0M126.9 299.4h0M125.7 300.4h0M128.6 299.5h0M126.6 298.9h0M129.1 302.1h0" stroke="#6a9bd8" stroke-width="1.7" stroke-linecap="round"/>
<path d="M128.4 313.9h0M130.7 312.1h0M132.4 320.9h0M129.5 314.3h0M131.7 321.1h0M131.8 316.5h0M128.4 311h0M129.9 319.6h0M126.4 307.4h0M132.7 317h0M127.1 309h0M128.7 313.5h0M128.1 313.4h0M132.2 314.3h0M128 311.3h0M129.8 314.1h0M128.7 314.5h0M127.4 312.5h0M127.1 308.8h0M130.5 314.5h0M132.1 316.9h0M133.6 321.5h0M128.1 310.6h0M131.9 316.6h0M132.5 316h0M133.2 320.1h0M128.6 315h0M132.4 320.9h0M133.6 320.3h0M133.2 322h0M132.1 317.7h0M127.3 311.7h0M131.1 316.6h0M131.8 317.5h0M126.1 303.7h0M133 318.7h0" stroke="#c2203f" stroke-width="1.7" stroke-linecap="round"/>
<path d="M129.1 306.4h0M127.7 300.9h0M128.8 302.9h0M126.3 303.9h0" stroke="#f6a046" stroke-width="1.7" stroke-linecap="round"/>
<path d="M128.8 297.8h0M127.9 298.5h0M127.8 299.7h0" stroke="#3558b8" stroke-width="1.7" stroke-linecap="round"/>
<path d="M133.6 323.3h0M132.6 321.3h0M131.9 322.3h0" stroke="#6a9bd8" stroke-width="1.7" stroke-linecap="round"/>
<path d="M87.7 321.9h0M84.1 313.6h0M79.6 322.3h0M88.9 333.7h0M86.8 321.7h0M85.9 327.2h0M83.5 316.9h0M88.9 318.5h0M80.1 328.1h0M84.1 321.5h0M83 331.3h0M81.9 329.8h0M89.7 327.9h0M91.5 333.6h0M84.9 340.8h0M83.2 314.1h0M80.1 329.1h0M84.3 322.5h0M80.9 324.4h0M85.6 338.9h0M92 333.8h0M89.5 321.2h0M83.8 325.4h0M83.9 326.4h0M85.7 341.8h0M81.8 321.8h0M84.4 319h0M86.8 342.2h0M92 336.9h0M89.6 340.4h0M91.3 328.9h0M88.3 326.4h0M89.6 332.1h0M81 315.2h0M84.8 323.7h0M84.8 335.9h0M86.7 322h0M86 325h0M80.2 318.9h0M84.4 319.9h0M83.4 317.6h0M81.9 316.4h0M81.6 321.6h0M88.8 339.8h0M88.3 325.2h0M85 329.2h0M83.6 323.7h0M79.6 322.5h0M86.6 332.2h0M88.6 319.1h0M81.9 321.2h0M84.4 326.9h0M90.4 326.7h0M86.9 341.3h0M91.6 338.3h0M87.1 333.7h0M92.2 334h0M89 335.9h0M85.7 329.9h0M85 341.4h0" stroke="#f3a8b1" stroke-width="1.8" stroke-linecap="round"/>
<path d="M89 310.6h0M87.2 310.2h0M89 313.6h0" stroke="#f3a8b1" stroke-width="1.8" stroke-linecap="round"/>
<path d="M96.8 338h0M93.8 324.6h0M95.9 316.2h0M93.4 333.6h0M102.9 339.8h0M101.3 333.5h0M91.8 325.6h0M96.8 341.5h0M94.3 325.8h0M99.9 350.8h0M93.7 332.1h0M97.7 323.3h0M101 343.6h0M95.3 323.7h0M99.6 324.3h0M93.3 345.1h0M94.9 352.3h0M95.1 323.1h0M92.2 332.1h0M99.9 351.7h0M91.1 331.3h0M89.9 331.4h0M101.5 327.9h0M98 330.1h0M93.9 328.7h0M92.7 329.5h0M95.3 347.2h0M100.3 332h0M90 334.4h0M95.9 350.9h0M91.6 330.1h0M96 346.8h0M101.1 325.2h0M100.9 349.7h0M93.3 326.5h0M102.8 338.8h0M93.7 343.4h0M93 326.6h0M102.3 339.5h0M92.5 334.3h0M93.8 325.6h0M95.2 334.7h0M101.1 343.6h0M101.5 344.8h0M97.1 328.3h0M93.3 329.9h0M92.9 344.8h0M90.1 337.4h0M91.6 319.4h0M90.7 335.3h0M98.9 332.6h0M92.3 332.1h0M98.4 341.3h0M100.7 347.7h0M97.2 320.4h0M100.1 326.7h0M96.7 330h0M98.4 323.2h0M91.9 325.6h0M96.7 328.2h0M95.4 324.7h0M100.9 340.3h0M96.9 347h0M90 323.6h0M102.9 337.5h0M101.6 329.6h0M101 332.5h0M93.9 345.7h0M97.9 339.3h0M91.9 330.3h0M90.4 324.1h0M93.2 339h0M97.3 323.5h0M97.6 322.8h0M92.7 323.9h0M100.4 336.4h0M94.9 336.9h0M96.7 319.3h0M92.3 342.7h0M94.3 326.8h0M95.1 352.3h0M93.9 337.6h0M94 331.9h0M93.4 323.6h0M98.3 323.4h0M96.2 347.1h0M96.2 349.5h0M94.6 322.2h0M89.8 337.4h0M99.5 350.2h0M91 340h0M94.5 335.2h0M90.7 327.1h0M97.9 351h0M90.9 335h0M90.9 321.1h0M94.5 318h0M101.6 330.2h0M102.1 339h0M99.5 321.7h0M99.2 324h0M96.1 348.1h0M99.6 322.5h0M92 331.4h0M96.1 330.5h0M90.3 325.8h0M100.6 349.7h0M90.2 337.8h0M97.7 336.7h0M97.3 327.4h0" stroke="#c2203f" stroke-width="1.8" stroke-linecap="round"/>
<path d="M95.7 356.2h0M96.3 357.1h0M95 354.4h0M92.9 358.4h0M93.9 351.9h0M99.7 357h0M93.3 351.4h0M93 350.5h0M92.4 355.8h0M92.2 356.1h0M92.8 349.5h0M94.1 349.4h0M99.5 357.1h0M92.9 349.7h0M95 353.5h0M99.7 357.5h0M98.8 360.2h0M91.4 355.1h0M95.5 349.8h0M97.4 350.5h0" stroke="#c2203f" stroke-width="1.8" stroke-linecap="round"/>
<path d="M92.1 313.2h0M90.4 319.1h0M88.8 314.1h0M90.4 314.5h0M91.4 318.9h0M88.6 318.1h0" stroke="#c2203f" stroke-width="1.8" stroke-linecap="round"/>
<path d="M78.9 320.9h0M80.4 319.9h0M81 321h0" stroke="#6a9bd8" stroke-width="1.8" stroke-linecap="round"/>
<path d="M91 350.3h0M91.7 335.5h0M93.9 331.5h0M96.6 341.1h0M88 346.7h0M89.1 328.9h0M94.2 331.2h0M91.1 343.7h0M91.5 336.6h0M90.1 350.7h0M84.9 330.4h0M84.5 334.4h0M86.1 341.2h0M91.1 329.7h0M91.6 337.9h0M86.4 328h0M84.4 342.9h0M94.9 347.3h0M88.6 331.5h0M90.7 334.2h0M91.9 337h0M95.8 345.8h0M86.5 351h0M83.7 339.7h0M88.6 330.7h0M83.3 340.2h0" stroke="#f6a046" stroke-width="1.8" stroke-linecap="round"/>
<path d="M84.6 359h0M88.9 356.9h0M90.7 350.7h0M84.6 355.6h0M92.9 355.4h0M91.2 353.6h0M91.1 353.5h0M82.6 354.7h0M87.1 359.1h0M92.3 357.1h0M89.8 352.2h0M88.5 354.9h0M92.1 353.8h0M85.6 358.8h0M83.7 355.5h0M90.6 352.5h0M92.4 351.5h0M86.6 361.2h0M90.8 356.4h0M89.3 358.8h0M92.4 357.2h0M88.3 358.1h0" stroke="#f6a046" stroke-width="1.8" stroke-linecap="round"/>
<path d="M74.2 366h0M73.5 371.3h0M71.1 366.1h0M77.6 368h0M78.4 368.9h0M72.1 372h0M76.2 371.9h0M69.6 368.4h0M80.2 368.5h0M78.5 370.1h0" stroke="#f6a046" stroke-width="1.8" stroke-linecap="round"/>
<path d="M72.3 382.7h0M72.6 382.1h0M71.4 383.7h0M71.3 385.9h0" stroke="#f6a046" stroke-width="1.8" stroke-linecap="round"/>
<path d="M82.1 363.5h0M87.9 363.9h0M87.5 365.7h0M79.6 365.7h0M84.7 368.9h0M83.6 368.3h0M83 361.6h0M85.2 360.2h0M79.8 366.7h0M85.3 369h0M81.3 366.2h0M84.2 369.9h0M80.9 362.4h0M85.7 364.7h0M81.3 368.2h0M87 368.3h0M84.4 363.1h0M82.7 364.3h0M80.4 363.2h0M87.4 364.1h0M84.7 370.5h0M81.6 365.6h0" stroke="#b53a9e" stroke-width="1.8" stroke-linecap="round"/>
<path d="M76.5 371.5h0M76.9 369.3h0M71.7 368.1h0M74.9 374.4h0M77.2 370.7h0M71.6 370.2h0M76.5 368.5h0M71.5 370.6h0M74.2 364.4h0M70.5 368.7h0M78.3 371.6h0M69 367.4h0M71.1 368.6h0M71.3 365.5h0" stroke="#a66f5d" stroke-width="1.8" stroke-linecap="round"/>
<path d="M68.7 385.7h0M68.1 387.2h0M69.9 387.6h0M68.3 389.1h0" stroke="#a66f5d" stroke-width="1.8" stroke-linecap="round"/>
<path d="M64.8 373.7h0M66.4 369.9h0M65 387.1h0M66.9 380.6h0M66.7 379.7h0M64.2 382.7h0M65.1 385.9h0M68 379.1h0M65.8 386.2h0M66.2 374.3h0M66.2 389.2h0M66.8 385.2h0M67.2 384.7h0M66.7 379.5h0M64.9 383.3h0M64.4 378.5h0" stroke="#66c25c" stroke-width="1.8" stroke-linecap="round"/>
<path d="M69.3 393.5h0M68.9 390h0M68.3 391.6h0M68.8 391.2h0M69 395.2h0" stroke="#66c25c" stroke-width="1.8" stroke-linecap="round"/>
<path d="M67.9 376.3h0M71.1 373.7h0M69.5 379.3h0M67.1 375.2h0M67.8 377.5h0M72 375h0" stroke="#f6a046" stroke-width="1.8" stroke-linecap="round"/>
<path d="M67.3 373.3h0M68.8 374.1h0M68.7 373.7h0M69.9 373h0" stroke="#66c25c" stroke-width="1.8" stroke-linecap="round"/>
<path d="M70.2 379.3h0M69.5 377.8h0M70.1 378.2h0M70 374.2h0" stroke="#a66f5d" stroke-width="1.8" stroke-linecap="round"/>
<path d="M130.9 353.7h0M128.9 354.4h0M133.2 359.3h0M131 351h0M131.8 360.4h0M136.7 355.3h0M131.9 361.6h0M131.2 349.9h0M131.1 361.2h0M136.1 357.6h0M133.1 356.6h0M132.4 358.3h0M136.8 361.1h0M132.1 351.4h0M132.1 348h0M135.3 352.1h0M135.1 350.4h0M131.2 350.7h0M131.4 349.3h0M130.4 350.7h0M131.4 355.2h0M133 358.1h0M133.9 352.5h0M137.4 360.3h0M131.4 362.3h0M133.4 350.3h0M132 361.1h0M130.6 348.8h0M137.4 360.5h0M135 360.7h0M135.9 362.8h0M136.7 361.6h0M131.4 359.5h0M134.2 360h0M134 362.9h0M132.7 350.7h0M129.6 348.7h0M131.4 346.8h0M131.5 348.5h0M133 355.3h0M134.7 362.4h0M133.1 356.6h0M135.7 361.8h0M131.8 353.9h0M134.7 357.8h0M129.7 358.1h0M136.1 363.5h0M133.1 355h0M135.3 357.5h0M133.1 362.6h0M131.9 355h0M134.3 360.6h0M130.5 354.5h0M132.7 356.5h0M135 350.9h0M135.4 353h0M132.3 350.9h0M134.9 364.6h0M135.4 360.8h0M131.1 352h0" stroke="#f3a8b1" stroke-width="1.5" stroke-linecap="round"/>
<path d="M134.4 345.3h0M135.2 346.2h0M135.9 345.1h0" stroke="#f3a8b1" stroke-width="1.5" stroke-linecap="round"/>
<path d="M135.5 355.1h0M144.4 362h0M142.4 366.6h0M144.3 362.1h0M141.6 362.7h0M142.3 361.9h0M141.3 352.4h0M141.7 358.5h0M141.8 349.6h0M143.8 369.6h0M141.4 356.3h0M143.9 366.4h0M140.3 353.6h0M138.2 357.9h0M138.4 358.1h0M142.6 370.2h0M136.2 361.6h0M143.3 361.3h0M144 358h0M135.4 357.2h0M142.1 370.3h0M144.7 358.7h0M138.5 349.9h0M140.9 352.5h0M141.7 353.1h0M141.7 351.8h0M143 368.2h0M141.4 349.2h0M141.9 364.7h0M140.9 370.3h0M139 365.4h0M137.9 368.8h0M139.1 348.8h0M139.2 361.6h0M140.1 364h0M137.6 367.2h0M139.3 363.3h0M141.3 357.5h0M139.8 366.8h0M140.4 354.5h0M142.9 367.5h0M138.9 362.4h0M140.7 354.9h0M140.4 369.2h0M139.5 364.3h0M142.1 369.3h0M142.6 354.1h0M139.7 361.8h0M144.1 368.9h0M144 368.4h0M140.4 354h0M144.2 366.9h0M142.9 369.7h0M137.8 349.6h0M141.4 366.9h0M138 366h0M141.6 363.9h0M139.2 352.5h0M138.5 366h0M142.9 358.4h0M142.2 352.9h0M141.9 369.3h0M143.9 359.9h0M140.2 361.9h0M136.6 352.3h0M137.7 364.8h0M139.1 361.3h0M139.4 360.1h0M136.8 363.2h0M142.1 351h0M140.8 355.8h0M139.3 347.8h0M143.6 359h0M140.3 353.7h0M142.7 357.6h0M136.7 352h0M141.6 368.7h0M140.9 370.7h0M140.9 357h0M138.1 361.4h0M142.6 370.8h0M141.6 356.9h0M139 351.3h0M137.6 356.2h0M143.4 364.6h0M141.4 354.6h0M141.7 365.9h0M136.1 355.6h0M137.1 350.6h0M139.3 351.5h0M137 351.1h0M141.6 352h0M136.7 358.6h0M143.7 362.5h0M139.4 355.7h0M143.2 358.8h0M140.6 350.8h0M142.4 360.8h0M137.8 357.7h0M136.5 354.3h0M143 355.3h0M137.1 359.7h0M139.4 369.7h0M141.1 352.4h0M139.5 354.4h0M137.3 352.5h0M136 354.8h0M141.9 354.4h0M142.7 355.5h0M143.4 360h0" stroke="#c2203f" stroke-width="1.5" stroke-linecap="round"/>
<path d="M138 373.1h0M140.9 369.3h0M138.7 369.7h0M139.5 375.6h0M139.7 369.7h0M140.5 372.3h0M137.4 371.1h0M141.5 373.9h0M142 372.3h0M140.8 371.3h0M139.1 368.6h0M140.9 370.5h0M143.5 374.4h0M137.7 369h0M142.1 371.3h0M140.9 369.8h0M139.8 376.1h0M137.7 370.5h0M139.7 373.7h0M137.4 374.2h0" stroke="#c2203f" stroke-width="1.5" stroke-linecap="round"/>
<path d="M136 347.4h0M134.8 348.4h0M137.4 349.1h0M135.5 348.3h0M135.8 348.5h0M137.9 347.3h0" stroke="#c2203f" stroke-width="1.5" stroke-linecap="round"/>
<path d="M129 350.5h0M129.1 348.6h0M128.5 351.6h0" stroke="#6a9bd8" stroke-width="1.5" stroke-linecap="round"/>
<path d="M137.7 356.1h0M131.3 364.1h0M136.6 362.6h0M137.8 354.3h0M139.3 366.4h0M135.8 362.1h0M133.8 354.6h0M135 354.9h0M136.7 369.2h0M132.5 363.6h0M138.2 355.5h0M134.8 360.5h0M139.1 362.6h0M134.9 370.8h0M138.5 358.9h0M133.4 358.9h0M135.3 371.6h0M138.8 369h0M131.7 362.5h0M133.5 360.6h0M137.1 359.4h0M136.2 353.6h0M135.2 362.2h0M140 364.7h0M138.8 369.7h0M137.2 357.5h0" stroke="#f6a046" stroke-width="1.5" stroke-linecap="round"/>
<path d="M135.5 371.1h0M136.4 375.3h0M134.9 371.3h0M134.6 372.8h0M138.1 369.8h0M133.3 375h0M131.4 375.6h0M138.9 371h0M132.4 374.2h0M133.8 371.2h0M132.4 373.8h0M131.8 372.9h0M131 375.5h0M138.1 372.1h0M135.8 373.7h0M132.6 375.8h0M134.4 373.7h0M135.6 372.5h0M132 372.8h0M132.1 374.7h0M133.8 374.3h0M137.1 370h0" stroke="#f6a046" stroke-width="1.5" stroke-linecap="round"/>
<path d="M125.8 381h0M125.8 383.7h0M127.4 379.3h0M122.5 382.6h0M126.4 382.9h0M121.9 381.5h0M122.7 381.9h0M125.6 382.9h0M128 382.7h0M127.5 379.9h0" stroke="#f6a046" stroke-width="1.5" stroke-linecap="round"/>
<path d="M123.9 392.9h0M123.9 391.6h0M124 392.8h0M123.9 392.2h0" stroke="#f6a046" stroke-width="1.5" stroke-linecap="round"/>
<path d="M133.2 383.1h0M131.9 378.6h0M134.6 381.8h0M132 378.2h0M131.4 379.1h0M132.4 377.3h0M131.3 380.1h0M130.5 378.2h0M134.6 381.7h0M131.6 378.9h0M129.3 378.4h0M129.9 380.7h0M131 375.9h0M133.7 377.1h0M134.9 381.4h0M132.6 382.9h0M132.2 379.2h0M133.6 383.4h0M131.9 379.5h0M132.5 378.1h0M131.2 380.4h0M132.3 383.3h0" stroke="#b53a9e" stroke-width="1.5" stroke-linecap="round"/>
<path d="M125.8 381.4h0M122.5 382.4h0M124.9 382.6h0M127.5 384.1h0M126.8 380.2h0M125.4 382.9h0M126.9 383.8h0M122.5 381.8h0M122.7 379.2h0M127.7 381.8h0M126.1 380h0M122.2 381.6h0M125 381.8h0M121.7 380.8h0" stroke="#a66f5d" stroke-width="1.5" stroke-linecap="round"/>
<path d="M121.8 394.7h0M121.8 391.9h0M121.4 395.6h0M121.2 395.1h0" stroke="#a66f5d" stroke-width="1.5" stroke-linecap="round"/>
<path d="M120.3 390.6h0M120.3 384.8h0M119.2 390h0M118.4 391.4h0M118.7 396.6h0M119.7 388h0M120.7 383.5h0M118.9 394h0M119.2 393.8h0M120.4 386.7h0M120.2 387.2h0M118.6 385.7h0M119.8 387.1h0M119.3 387.6h0M118.9 396.1h0M119 391h0" stroke="#66c25c" stroke-width="1.5" stroke-linecap="round"/>
<path d="M120.7 398.6h0M121.7 395.7h0M121.2 398.9h0M121 398.9h0M120.5 396.1h0" stroke="#66c25c" stroke-width="1.5" stroke-linecap="round"/>
<path d="M122.6 383.8h0M121.1 387.9h0M121.8 387.4h0M120.8 383.5h0M121.3 383.6h0M122 383.2h0" stroke="#f6a046" stroke-width="1.5" stroke-linecap="round"/>
<path d="M121.3 383.9h0M120.9 382.7h0M120.2 385.5h0M120.8 383.4h0" stroke="#66c25c" stroke-width="1.5" stroke-linecap="round"/>
<path d="M121.7 386h0M122.8 386.2h0M121.6 387.6h0M121.4 385.9h0" stroke="#a66f5d" stroke-width="1.5" stroke-linecap="round"/>
<rect x="61.5" y="304.5" width="45.1" height="95" fill="none" stroke="#4a4a4a" stroke-width="0.9"/>
<rect x="116.2" y="339.9" width="31.3" height="61.7" rx="0.8" fill="none" stroke="#3a3a3a" stroke-width="0.75" stroke-dasharray="1.8 1.2"/>
<path d="M106.6 304.5 L116.2 339.9 M106.6 399.5 L116.2 401.6" stroke="#3a3a3a" stroke-width="0.7" stroke-dasharray="1.8 1.2"/>
<rect x="22.9" y="292.7" width="128.2" height="110.4" rx="0.6" fill="none" stroke="#262626" stroke-width="1.2"/>
<text x="192.7" y="287.8" font-size="8.6" fill="#231f20" textLength="58.7" lengthAdjust="spacingAndGlyphs">FACS (Het only)</text>
<path d="M169.1 334h0M173 318h0M168.7 331.2h0M168.4 336.9h0M170.8 319.5h0M170.6 317.1h0M172.1 320.4h0M172.8 328.3h0M169.8 319.9h0M171.6 319.2h0M170.2 327h0M168 332.4h0M169.1 329.7h0M171.1 321.5h0M170.3 316h0M167.2 334.2h0M168.6 329.8h0M167.3 327.2h0M169.2 325.9h0M169.7 315.5h0M169.5 319.3h0M167.1 331h0M168.9 323.6h0M172.5 332.8h0M168.1 320.4h0M171.7 322.5h0M169.3 329.7h0M172.1 320.1h0M172.9 322.7h0M171.8 318.5h0M171.4 331.2h0M168.5 318.6h0M169.1 323h0M167.4 321.2h0M171.8 318.4h0M172.4 327.9h0M172.2 320.3h0M169.4 330.4h0M172 332.8h0M172.4 328.8h0M166.9 332.7h0M172.8 316.3h0M171.8 323.6h0M171.2 334h0M169.5 316.1h0M173.5 324.5h0M172.8 330.8h0M171.2 334h0M171.2 324.9h0M166.7 330.5h0" stroke="#f3a8b1" stroke-width="1.7" stroke-linecap="round"/>
<path d="M173.7 316.1h0M175.6 319.1h0M172.5 316.5h0M177.5 317.4h0M174.5 313.5h0M171.1 314.6h0M173.6 313h0M172.9 312.4h0M175.6 317.7h0M172.4 313.4h0M174.3 315.5h0M177.3 314.5h0M172.8 319.8h0M171.7 316.6h0M173 319.2h0M174.5 318.6h0M171.9 317.7h0M174.9 315.6h0M176.1 319.3h0M171.5 313.9h0M173.2 313.1h0M171.1 313.8h0" stroke="#82d6c0" stroke-width="1.7" stroke-linecap="round"/>
<path d="M170.2 333.2h0M171.4 323.8h0M170.8 329.5h0M171 324.7h0M169.6 333.5h0M174.1 331h0M169.7 329.8h0M171.4 325h0" stroke="#82d6c0" stroke-width="1.7" stroke-linecap="round"/>
<path d="M266.5 295h0M269.1 298.9h0M267.1 300.6h0M267.2 296.5h0M264.5 295.8h0M268.5 296.8h0M264.1 298.8h0M263.9 299.7h0M268.4 299.5h0M265 296.1h0" stroke="#c9c6ec" stroke-width="1.7" stroke-linecap="round"/>
<path d="M268.7 298.8h0M265.9 300.3h0M265.9 302.1h0M267.1 300.8h0M268.6 301.3h0M266.7 300h0M264.6 298.7h0M267.2 297.3h0M267.8 297.8h0M266.4 303h0M266.3 298h0M268.7 302.3h0" stroke="#6a9bd8" stroke-width="1.7" stroke-linecap="round"/>
<path d="M268.6 300.8h0M267 301.5h0" stroke="#f6a046" stroke-width="1.7" stroke-linecap="round"/>
<path d="M269 315.1h0M268.4 315.4h0M270.8 319.6h0M268.3 315.5h0M268.9 314.2h0M268.5 315.7h0M271.2 317h0M270.2 317.1h0M268.7 317h0M270.7 315.4h0" stroke="#f3a8b1" stroke-width="1.7" stroke-linecap="round"/>
<path d="M269.5 315h0M270.3 320.8h0M270 316.4h0M269.2 318.8h0" stroke="#6a9bd8" stroke-width="1.7" stroke-linecap="round"/>
<path d="M222.1 329.5h0M223 328.2h0M226.1 324.6h0M230.4 330h0M222.7 314.8h0M226.3 320.2h0M224 329.1h0M219.8 328.9h0M218.3 326.8h0M228.1 315.3h0M225.3 314.6h0M221.7 338.1h0M224.2 334h0M230.6 316.8h0M224.5 317.5h0M231.4 330.6h0M230.7 317.5h0M221 323h0M216.4 328.9h0M221 320.8h0M228.2 325.9h0M230 332.2h0M230 330.4h0M218 333.8h0M220.6 334.8h0M225.6 337.6h0M219.2 322.7h0M228.2 316h0M223.7 336.6h0M228.5 320.7h0M219.9 325.1h0M229.4 330.8h0M216.8 335.3h0M219.3 328.2h0M220.2 332.4h0M224.5 316.7h0M230.2 329.7h0M225.9 337.1h0M223.8 316.7h0M222.6 338.5h0M217.8 336h0M227.9 324.8h0M225.9 317.3h0M230.5 325.3h0M229.8 331.8h0M218.7 321.3h0M218 338.4h0M228.3 314.3h0M220 322.5h0M223.6 329.7h0M223.5 322.9h0M221.3 341.8h0M228.4 321.3h0M220.9 326.9h0M220.4 328.9h0M222.6 341.1h0M224 335.7h0M228.9 336.6h0M225.9 331.8h0M223.5 320.7h0M227.2 339.3h0M230.5 334.1h0M220 334.7h0M228.2 328.4h0M227.4 323.5h0M225.8 324.9h0M218.4 321.5h0M224.9 323.5h0M221.8 319h0M224 316.3h0" stroke="#f3a8b1" stroke-width="1.8" stroke-linecap="round"/>
<path d="M232.1 345.1h0M233 341.4h0M230.9 341.5h0M234.3 347.8h0M236 342.4h0M235.9 348.7h0M233.1 359.2h0M231.4 353.6h0M231.9 356.1h0M229 346.1h0M235.7 340.7h0M229.8 340.5h0M234.1 339.2h0M231.7 338.7h0M233.3 356h0M233.7 338.6h0M233.3 335.6h0M235 356.3h0" stroke="#f3a8b1" stroke-width="1.8" stroke-linecap="round"/>
<path d="M217 316.4h0M216.6 317.6h0M218.6 317.9h0" stroke="#6a9bd8" stroke-width="1.8" stroke-linecap="round"/>
<path d="M211.3 360.5h0M224.6 347.2h0M227 344.4h0M220 344.4h0M213.2 353.6h0M219.5 349.4h0M228.9 340.4h0M235.7 329.1h0M221.6 355.6h0M214.2 360.9h0M232.2 331.8h0M229.3 333.1h0M235.5 334h0M225.2 348.8h0M218 354.6h0M215.9 357.7h0M226.6 343.6h0M229.9 341.2h0M213.7 363.1h0M228.6 343.6h0M227.2 340.6h0M206.7 369.9h0M215.4 357.2h0M226.9 345.9h0M235.4 333.9h0M217.2 348.3h0M231 336.9h0M228 347h0M228.2 334.6h0M208.9 370.2h0M230.7 340.7h0M224 353h0M226.4 344.4h0M224 350.3h0M206.4 367.2h0M210.2 358.6h0M212.7 354.6h0M208.2 365.9h0M215.3 351h0M206.5 368.3h0M219.7 358.4h0M226.4 338.2h0M220.9 346.4h0M228 336.1h0M217.9 358.1h0M216.2 352h0M206.5 364.5h0M230.6 342.3h0M212.1 365.9h0M224.3 342h0" stroke="#f6a046" stroke-width="1.8" stroke-linecap="round"/>
<path d="M205.9 372.6h0M206.3 369.2h0M210.4 368.4h0M206.4 372.9h0M204.7 371.5h0M206.3 371h0M214 366.5h0M205.8 369.7h0M214 364.8h0M205 372.4h0M207.1 373.4h0M205.7 370.6h0M214.5 364.3h0M211.9 365.6h0M212.7 364h0M205.2 371.9h0" stroke="#a66f5d" stroke-width="1.8" stroke-linecap="round"/>
<path d="M199.7 379.9h0M200 378.5h0M199.1 384.6h0M198.8 385.8h0M203.1 371.3h0M200.8 380.3h0M204.2 377.3h0M202.4 386.3h0M201.7 372.7h0M202.1 370.1h0M199.2 380.3h0M200.8 381.8h0M201.8 384.3h0M201.5 381.7h0M202.4 386h0M201.8 376.1h0M199.1 391.6h0M201.4 377.7h0" stroke="#66c25c" stroke-width="1.8" stroke-linecap="round"/>
<path d="M204 381.6h0M205 387.9h0M203.3 385.4h0M203.9 382.4h0M203 381.4h0M206.2 386.8h0" stroke="#f6a046" stroke-width="1.8" stroke-linecap="round"/>
<path d="M204.1 391.4h0M203.9 392.8h0M204.6 392.6h0M202.7 393.3h0" stroke="#66c25c" stroke-width="1.8" stroke-linecap="round"/>
<path d="M276.2 353h0M275.8 353.2h0M272.9 357h0M275.7 351.7h0M274.3 355.9h0M269.5 356.5h0M268.9 362.3h0M271.9 359h0M273.4 354.4h0M271.2 347.5h0M277.7 356.2h0M273.2 355.4h0M277.5 350.4h0M268.1 360.4h0M272.1 357.5h0M270.5 361h0M278 348.2h0M270.1 349.4h0M269.1 351.4h0M276.4 355.8h0M274 346.8h0M275.4 354.2h0M271.7 360.5h0M277.2 348.6h0M275.5 352.6h0M274.2 349.8h0M272.2 351.5h0M273.5 345.4h0M269.4 355.7h0M276.3 350.9h0M272 349.6h0M273.2 362h0M270 352.8h0M275.9 357.6h0M273.3 345.9h0M272.9 352.2h0M276.2 351.3h0M271.4 357.5h0M277.1 352.6h0M271.4 356.1h0M271 357.8h0M272.7 346.3h0M276.4 353h0M273.3 354.8h0M276.6 360.5h0M267.3 355.8h0M272.7 354h0M277.2 353.8h0M271.3 362.3h0M272.4 354.6h0M271.9 361.1h0M274 359.8h0M273.6 345.8h0M274.8 356.2h0M275.1 360.5h0M269.8 348.8h0M275.6 356.5h0M267.3 357.5h0M275.5 354.9h0M267.3 357.7h0M271.8 356.3h0M271.1 354.9h0M271.4 349.9h0M271.8 349.8h0M276.9 356.6h0M273.4 353.3h0M268.7 350.3h0M276 361.3h0M277.9 350.8h0M273.9 352.5h0" stroke="#f3a8b1" stroke-width="1.5" stroke-linecap="round"/>
<path d="M278.5 367h0M279.2 364.9h0M280.5 362.1h0M281.1 368.1h0M276.2 364h0M278.9 365.6h0M279.1 364.2h0M277.4 372.2h0M277.5 370.7h0M280.5 368.7h0M278.5 374.5h0M278.4 373.6h0M276.2 366.1h0M279.5 359.6h0M279.3 361.8h0M281.2 368.2h0M280.5 367.1h0M279.7 370.1h0" stroke="#f3a8b1" stroke-width="1.5" stroke-linecap="round"/>
<path d="M267.6 347.8h0M268.7 347.7h0M267.8 348.7h0" stroke="#6a9bd8" stroke-width="1.5" stroke-linecap="round"/>
<path d="M259.7 380.5h0M279 360.6h0M263.4 373.8h0M275.2 361.5h0M274.7 364.9h0M278.3 360.2h0M276.3 366.2h0M279.8 361.1h0M280.2 356.2h0M266.3 373.4h0M267.7 370.1h0M268.9 367.4h0M272.9 368.6h0M279.8 359.4h0M271.9 372h0M272.5 364.7h0M271.5 370.5h0M261.8 380.1h0M269.8 371.3h0M260.1 380.1h0M278.2 363.2h0M260.1 383.4h0M259.3 381.9h0M281.2 357.5h0M270.4 367.8h0M263.4 375.8h0M262 376.8h0M278.9 356.9h0M279.6 358.5h0M263.9 378.1h0M271.5 369h0M267.4 368.6h0M264.7 372.6h0M266.5 370.7h0M272.2 365.7h0M278.6 360.8h0M261.5 378.9h0M272.6 370.5h0M269.3 370.8h0M268.9 367.5h0M267.6 369.6h0M273.2 366h0M270.8 366h0M277.1 358.2h0M260.4 379.4h0M261.3 380.9h0M263.5 378h0M266.2 375.4h0M263.1 375.9h0M273.7 361.9h0" stroke="#f6a046" stroke-width="1.5" stroke-linecap="round"/>
<path d="M261.5 379.5h0M263.7 380.1h0M264.3 379.8h0M260.8 383.7h0M265.8 378.9h0M260.8 381.5h0M261.5 383.1h0M264.4 381.2h0M263.6 382h0M264.3 382h0M264.6 378.4h0M260 382.5h0M265.1 379.5h0M264.1 378.6h0M263.1 378.8h0M262.3 381.4h0" stroke="#a66f5d" stroke-width="1.5" stroke-linecap="round"/>
<path d="M256.4 395.7h0M257.1 391.5h0M255.2 391h0M257 393.9h0M254.5 392.4h0M257.1 384h0M257.7 392.2h0M258.5 383.8h0M257.3 393.2h0M256.9 394.1h0M257.1 388.3h0M256.9 393.8h0M258.5 386.4h0M258.1 390h0M254.7 394.3h0M256.5 384.5h0M257.2 385.2h0M255.3 395.5h0" stroke="#66c25c" stroke-width="1.5" stroke-linecap="round"/>
<path d="M259.4 393h0M258.3 393.3h0M259.8 392.8h0M258.4 389.7h0M259.3 393.6h0M258.2 392.4h0" stroke="#f6a046" stroke-width="1.5" stroke-linecap="round"/>
<path d="M258.7 398.2h0M257 397h0M258.7 396.7h0M258.2 396.9h0" stroke="#66c25c" stroke-width="1.5" stroke-linecap="round"/>
<rect x="195.5" y="304.5" width="47.3" height="95" fill="none" stroke="#4a4a4a" stroke-width="0.9"/>
<rect x="252.3" y="339.9" width="32.3" height="61.7" rx="0.8" fill="none" stroke="#3a3a3a" stroke-width="0.75" stroke-dasharray="1.8 1.2"/>
<path d="M242.8 304.5 L252.3 339.9 M242.8 399.5 L252.3 401.6" stroke="#3a3a3a" stroke-width="0.7" stroke-dasharray="1.8 1.2"/>
<rect x="159.7" y="292.7" width="128.2" height="110.4" rx="0.6" fill="none" stroke="#262626" stroke-width="1.2"/>
<text x="331.1" y="287.8" font-size="8.6" fill="#231f20" textLength="56.8" lengthAdjust="spacingAndGlyphs">FACS (KO only)</text>
<path d="M307.1 319.7h0M305.1 335.3h0M309.8 322h0M304.4 320.7h0M310.1 325.9h0M308.4 334.8h0M303.3 331h0M305.3 320.9h0M313 324.3h0M303.6 336.3h0M307.6 336.9h0M306.7 326.8h0M312.5 327.8h0M312.4 319.1h0M306.3 334.6h0M305.7 323h0M303.5 327.7h0M311.5 327.9h0M305 337.4h0M311.3 331.7h0M303 329.5h0M305.6 338.3h0M305.8 330.8h0M309.6 324.1h0M307.4 331.4h0M312 327.5h0M304.7 338.6h0M309.5 328.7h0M306.4 333.1h0M311 333.2h0M307.3 317.8h0M303.8 328.7h0M310.2 315.9h0M305.8 333h0M310 321.8h0M311.2 322.2h0M308.5 325.1h0M310.3 331.8h0M305 338.3h0M309.3 332h0M306.7 318.3h0M307.4 335.2h0M311.4 323.6h0M304 326.9h0M311.4 319.2h0M307.4 315.7h0M306.1 323.8h0M305.2 321.8h0" stroke="#1f5d4b" stroke-width="1.7" stroke-linecap="round"/>
<path d="M308.9 313.5h0M307.2 312.2h0M309.5 313.1h0M309.9 316.6h0M311.4 316.1h0M308.8 311.4h0M312.4 313.8h0M310.8 315.3h0M312.3 312.3h0M309.2 317.2h0M310.5 312.4h0M311.3 312.2h0M312.9 314.5h0M309.1 317.3h0" stroke="#1f5d4b" stroke-width="1.7" stroke-linecap="round"/>
<path d="M403.2 305.3h0M405.3 313h0M409.7 314.8h0M409.4 318.6h0M403.1 307.1h0M412 322h0M409.3 315.4h0M407 307.9h0M405 308.7h0M406.8 306.8h0M409 320.5h0M407.2 311.5h0M411.5 320.4h0M403.5 307.8h0M403.9 309.7h0M410.2 319.5h0M408.3 312.6h0M407.1 313h0M409.1 319.7h0M411.4 318.6h0M406.9 315.8h0M408 310.5h0M411.1 318.3h0M411.2 319.8h0M407.1 316.6h0M408.8 313.3h0M401.5 301h0M410.4 318.6h0M403 304.5h0M401.6 301.7h0M406.8 307.1h0M403.6 300.3h0M406.7 306.2h0M402.9 306.3h0M404.2 310.5h0M410 318.3h0M402.3 305.1h0M405.8 306.9h0M406.7 313h0M408.4 318.6h0M408.8 319.7h0M408.6 311.3h0M404.7 312h0M402.2 300.6h0M409.6 316.2h0M406.2 308.4h0M407.7 313.1h0M409.1 320.4h0M407.3 306h0M403.1 302.2h0M408.4 315.5h0M407.3 309.5h0M403 303.8h0M404.2 305.9h0M407.7 317.3h0" stroke="#c2203f" stroke-width="1.7" stroke-linecap="round"/>
<path d="M404.2 299.6h0M403.9 301.7h0M402.9 298.8h0M405 301.3h0M405.5 301.2h0M405.2 300.6h0M403.3 299.3h0M403.7 301.2h0" stroke="#3558b8" stroke-width="1.7" stroke-linecap="round"/>
<path d="M366.8 338.9h0M373.8 325.8h0M362.9 335.8h0M369.1 341.2h0M368.8 336.5h0M369.6 327.6h0M362.6 321h0M373.3 339.6h0M376.9 325h0M372.3 323.9h0M374.8 336.5h0M363.5 330.3h0M375 335h0M366.6 314.8h0M375.5 327.8h0M360.3 323.2h0M371.6 338.1h0M368.5 331.4h0M362.5 320.8h0M375.4 323.6h0M361.5 330.7h0M361 319.7h0M367.8 330h0M371.4 333.1h0M366.3 315.5h0M371.3 314.7h0M367.6 324.8h0M372 333.2h0M364.1 332.1h0M371.8 326.4h0M369.1 315.1h0M363.3 324.9h0M374.4 336.1h0M371.4 334h0M363.8 332.7h0M376.5 330.7h0M375.3 320.2h0M372 316h0M363.5 336.6h0M362.4 328.4h0M362 336.1h0M370.2 336.4h0M368.7 330.8h0M370.8 335.7h0M368.7 321.6h0M375.1 335.7h0M366.7 317h0M370.4 319.1h0M366.2 316.7h0M377.1 328h0M364.8 316.4h0M373.4 336.9h0M365.5 322.2h0M372.2 317.3h0M371.5 340.7h0M372.1 330h0M368.7 326.2h0M367 330.7h0M372.1 338.9h0M373.3 335.4h0M372.5 337h0M368.1 338.2h0M367.9 333.4h0M363.5 322.3h0M365.3 322.8h0M361 326.5h0M372.4 320.8h0M363.7 325.4h0M366 335.3h0M374.3 337.9h0M373.8 327.9h0M365.4 331.3h0M366.1 328.7h0M369.3 331.6h0M370.2 339.7h0M367.8 339.2h0M365.6 339.2h0M362.4 326.3h0M372.2 332.5h0M373.4 334.2h0M363.3 321.1h0M362.6 321.2h0M377.1 330.8h0M370.4 331.7h0M370.6 332.8h0M363.8 315.6h0M365 317.7h0M361.4 327.9h0M365 335.4h0M364.6 325.3h0" stroke="#c2203f" stroke-width="1.8" stroke-linecap="round"/>
<path d="M375.2 346.2h0M377.4 340.3h0M379 345.3h0M378.1 342.9h0M375.8 353.1h0M375.7 343.3h0M374.1 348.6h0M376.1 341.5h0M379.5 346.2h0M374.1 348.3h0M369.5 349.9h0M366.2 350.2h0M369.7 343.3h0M374.5 339.8h0M367.6 350.7h0M370.1 343.6h0M377.3 342.7h0M369.6 340.5h0M371.5 343.7h0M374.4 346.5h0M373 352.9h0M373.4 339.6h0M370.9 350h0M373.6 340.8h0M369 344.5h0M370.7 345.5h0M378 349h0M375.4 348.5h0M378.3 348.5h0M370.4 339.8h0M378.7 342.8h0M367.9 340.9h0M378.3 347.4h0M377.5 339.9h0M372.6 343.2h0M367.7 348.3h0M372.3 339.4h0M379 347.9h0M374.4 347.3h0M366.1 344.3h0M375.5 348h0M368.8 345.5h0" stroke="#c2203f" stroke-width="1.8" stroke-linecap="round"/>
<path d="M366.2 358h0M360.9 361.8h0M368.5 354.4h0M361.3 359.8h0M362.4 355.3h0M361.3 361.1h0M366.9 360.2h0M363.8 359.4h0M360.9 358.9h0M366.1 360.7h0M366 361.1h0M365 354.7h0M367.6 353.4h0M361.8 357.9h0M363 359.7h0M357.9 359.4h0M361.2 361.9h0M361.2 358.6h0" stroke="#c2203f" stroke-width="1.8" stroke-linecap="round"/>
<path d="M358.2 364.1h0M351.2 362.2h0M357.1 363.1h0M351.8 360.9h0M357 361.5h0M357.6 366.7h0M360.1 365h0M360.5 359h0M353.1 361.8h0M355.7 363.3h0M361.7 363.3h0M358.1 361.7h0M351 362.4h0M358.5 362.4h0M361.7 364.5h0M355.4 359h0M357.1 359h0M352.9 362.8h0M357.6 364h0M353.3 367.4h0M357.5 361.5h0M359.8 364.3h0" stroke="#b53a9e" stroke-width="1.8" stroke-linecap="round"/>
<path d="M342.5 370.4h0M349.2 371.3h0M348.9 369.2h0M344.7 370.2h0" stroke="#b53a9e" stroke-width="1.8" stroke-linecap="round"/>
<path d="M412.6 363.3h0M417.4 349.6h0M415.6 352.1h0M415.4 359.5h0M407.8 350.2h0M409 350.9h0M411.6 353.5h0M407.8 356.8h0M418.5 355.8h0M411.5 358.7h0M411.6 349h0M411.9 346.1h0M414.5 348.5h0M412.1 363.3h0M416.8 360.6h0M414.9 357.1h0M409.6 360h0M410 350.6h0M417 356.3h0M413.5 349.3h0M407 356h0M415.3 350.5h0M409.2 358.7h0M410.4 358.9h0M410.9 355.4h0M410.5 353.5h0M412.2 350.5h0M414.8 358.3h0M410.5 360.4h0M415.5 351.7h0M412.3 349.2h0M418.3 355.5h0M415.1 352.6h0M415.1 349.7h0M417.1 360h0M408 356.8h0M409.4 358.9h0M417.1 359.8h0M408.9 347.7h0M415 355.8h0M407.9 349.6h0M413.3 347.7h0M414.1 350h0M409.8 353.7h0M413.7 358.9h0M409.1 351.3h0M415 358.2h0M415 362h0M408.9 351.7h0M414.5 350.3h0M408.2 350.2h0M416.8 360.5h0M416.2 351.1h0M411 359h0M407.6 357.3h0M412.5 348.5h0M411.9 349.4h0M408.2 355.3h0M412.9 352.3h0M415.6 355.1h0M415.6 347.4h0M407.4 353.2h0M412.3 350.4h0M414.5 349.6h0M410.6 354.6h0M416 359.5h0M411.2 354h0M413.7 347.6h0M412.6 357.4h0M408.3 354.6h0M414 351.1h0M408 359.8h0M416.1 353.4h0M407.6 353.3h0M407 351.5h0M415.6 348h0M408.8 355.8h0M416.5 348.5h0M409.3 360h0M411.7 352h0M407.8 350.6h0M410.3 359.4h0M413.3 363.1h0M413.8 350.9h0M412.8 358.8h0M415.2 347.9h0M410.5 350.4h0M409.8 354.5h0M417 351.2h0M409.3 359.6h0" stroke="#c2203f" stroke-width="1.5" stroke-linecap="round"/>
<path d="M415.2 363.3h0M413.9 370.6h0M418.8 368.9h0M415.4 371.9h0M420.4 366.3h0M417.9 371.6h0M413.9 365.1h0M415 365.2h0M415.8 362.5h0M411.8 371.2h0M414.4 368.5h0M418.4 371h0M411.9 371.3h0M417 370.6h0M419.4 365.1h0M417.5 366.2h0M420 363.8h0M416.5 365.4h0M419.1 366.2h0M417.7 371.9h0M416.8 369.3h0M416.2 366.8h0M413.3 370h0M417.1 372h0M413.5 364.7h0M414.6 362.1h0M419.3 364.8h0M418.9 364.3h0M415.6 366h0M413.5 368.2h0M419.4 367.8h0M418.6 370.8h0M412.7 371h0M417.6 362.9h0M415.4 371.1h0M415.9 367h0M413.7 371.3h0M418.1 364.3h0M414.8 365.3h0M419.3 370.5h0M411 367.1h0M414.3 369.5h0" stroke="#c2203f" stroke-width="1.5" stroke-linecap="round"/>
<path d="M408.6 372.7h0M411.1 375.7h0M412.3 372.5h0M408.3 376.5h0M412.1 371.8h0M409.3 374h0M413 375.5h0M407.1 374.5h0M409.2 376.1h0M407.5 375.7h0M410.5 375.1h0M412 371.7h0M413.9 373h0M413.3 375.1h0M409.9 376.9h0M411.1 376.2h0M411.3 376.3h0M409.8 372.4h0" stroke="#c2203f" stroke-width="1.5" stroke-linecap="round"/>
<path d="M406.7 378.9h0M404.5 378.5h0M402.1 377.1h0M404.1 378h0M402.9 375.2h0M407.1 378.3h0M401.8 377.1h0M403.5 375.5h0M406.9 379.7h0M402.8 379.3h0M407.2 378.3h0M407 378h0M404.3 380.5h0M407.6 375.5h0M407.4 377.5h0M401.9 378.7h0M404.5 379.9h0M401.7 376.7h0M401.9 378.3h0M404.7 375.9h0M401.2 377.1h0M403.3 378.3h0" stroke="#b53a9e" stroke-width="1.5" stroke-linecap="round"/>
<path d="M396.3 382.7h0M398 384h0M398.4 383.9h0M398.3 382h0" stroke="#b53a9e" stroke-width="1.5" stroke-linecap="round"/>
<rect x="335.4" y="304.5" width="45.3" height="95" fill="none" stroke="#4a4a4a" stroke-width="0.9"/>
<rect x="390.2" y="339.9" width="31.1" height="61.7" rx="0.8" fill="none" stroke="#3a3a3a" stroke-width="0.75" stroke-dasharray="1.8 1.2"/>
<path d="M380.7 304.5 L390.2 339.9 M380.7 399.5 L390.2 401.6" stroke="#3a3a3a" stroke-width="0.7" stroke-dasharray="1.8 1.2"/>
<rect x="297.3" y="292.7" width="128.2" height="110.4" rx="0.6" fill="none" stroke="#262626" stroke-width="1.2"/>
<text transform="translate(20.1 402.9) rotate(-90)" font-size="6.6" fill="#231f20" textLength="21.6" lengthAdjust="spacingAndGlyphs">UMAP2</text>
<path d="M18.4 378.2 V367.2" stroke="#231f20" stroke-width="0.55"/><path d="M17.3 367.6 L18.4 364.8 L19.5 367.6 Z" fill="#231f20"/>
<text x="21" y="410.6" font-size="6.3" fill="#231f20" textLength="21.2" lengthAdjust="spacingAndGlyphs">UMAP1</text>
<path d="M43.2 407.1 H53.6" stroke="#231f20" stroke-width="0.55"/><path d="M53.2 406 L56.2 407.1 L53.2 408.2 Z" fill="#231f20"/>
<circle cx="432.3" cy="298.2" r="3.1" fill="#6a9bd8" stroke="#555" stroke-width="0.3"/>
<text x="437.4" y="301.7" font-size="8.4" fill="#231f20" textLength="47.6" lengthAdjust="spacingAndGlyphs">FACS-ENDO</text>
<text class="s" x="485.5" y="298.8" font-size="4.9" fill="#231f20" textLength="16.1" lengthAdjust="spacingAndGlyphs">Gfi1-het</text>
<circle cx="432.3" cy="307.74" r="3.1" fill="#f6a046" stroke="#555" stroke-width="0.3"/>
<text x="437.4" y="311.24" font-size="8.4" fill="#231f20" textLength="33.3" lengthAdjust="spacingAndGlyphs">FACS-HE</text>
<text class="s" x="471.2" y="308.34" font-size="4.9" fill="#231f20" textLength="17.4" lengthAdjust="spacingAndGlyphs">Gfi1-het</text>
<circle cx="432.3" cy="317.28" r="3.1" fill="#a66f5d" stroke="#555" stroke-width="0.3"/>
<text x="437.4" y="320.78" font-size="8.4" fill="#231f20" textLength="37.9" lengthAdjust="spacingAndGlyphs">FACS-EHT</text>
<text class="s" x="475.8" y="317.88" font-size="4.9" fill="#231f20" textLength="17.4" lengthAdjust="spacingAndGlyphs">Gfi1-het</text>
<circle cx="432.3" cy="326.82" r="3.1" fill="#66c25c" stroke="#555" stroke-width="0.3"/>
<text x="437.4" y="330.32" font-size="8.4" fill="#231f20" textLength="42.4" lengthAdjust="spacingAndGlyphs">FACS-IAHC</text>
<text class="s" x="480.3" y="327.42" font-size="4.9" fill="#231f20" textLength="17" lengthAdjust="spacingAndGlyphs">Gfi1-het</text>
<circle cx="432.3" cy="336.36" r="3.1" fill="#c9c6ec" stroke="#555" stroke-width="0.3"/>
<text x="437.4" y="339.86" font-size="8.4" fill="#231f20" textLength="47.6" lengthAdjust="spacingAndGlyphs">FACS-ENDO</text>
<text class="s" x="485.5" y="336.96" font-size="4.9" fill="#231f20" textLength="25.9" lengthAdjust="spacingAndGlyphs">Runx1b–het</text>
<circle cx="432.3" cy="345.9" r="3.1" fill="#f3a8b1" stroke="#555" stroke-width="0.3"/>
<text x="437.4" y="349.4" font-size="8.4" fill="#231f20" textLength="33.3" lengthAdjust="spacingAndGlyphs">FACS-HE</text>
<text class="s" x="471.2" y="346.5" font-size="4.9" fill="#231f20" textLength="27.4" lengthAdjust="spacingAndGlyphs">Runx1b–het</text>
<circle cx="432.3" cy="355.44" r="3.1" fill="#82d6c0" stroke="#555" stroke-width="0.3"/>
<text x="437.4" y="358.94" font-size="8.4" fill="#231f20" textLength="39.7" lengthAdjust="spacingAndGlyphs">FACS-MES</text>
<text class="s" x="477.6" y="356.04" font-size="4.9" fill="#231f20" textLength="26.5" lengthAdjust="spacingAndGlyphs">Runx1b–het</text>
<circle cx="432.3" cy="364.98" r="3.1" fill="#3558b8" stroke="#555" stroke-width="0.3"/>
<text x="437.4" y="368.48" font-size="8.4" fill="#231f20" textLength="47.6" lengthAdjust="spacingAndGlyphs">FACS-ENDO</text>
<text class="s" x="485.5" y="365.58" font-size="4.9" fill="#231f20" textLength="25.9" lengthAdjust="spacingAndGlyphs">Runx1b–KO</text>
<circle cx="432.3" cy="374.52" r="3.1" fill="#c2203f" stroke="#555" stroke-width="0.3"/>
<text x="437.4" y="378.02" font-size="8.4" fill="#231f20" textLength="33.3" lengthAdjust="spacingAndGlyphs">FACS-HE</text>
<text class="s" x="471.2" y="375.12" font-size="4.9" fill="#231f20" textLength="26.4" lengthAdjust="spacingAndGlyphs">Runx1b–KO</text>
<circle cx="432.3" cy="384.06" r="3.1" fill="#b53a9e" stroke="#555" stroke-width="0.3"/>
<text x="437.4" y="387.56" font-size="8.4" fill="#231f20" textLength="33.3" lengthAdjust="spacingAndGlyphs">FACS-HE</text>
<text class="s" x="471.2" y="384.66" font-size="4.9" fill="#231f20" textLength="23.8" lengthAdjust="spacingAndGlyphs">Gfi1/1b-KO</text>
<circle cx="432.3" cy="393.6" r="3.1" fill="#1f5d4b" stroke="#555" stroke-width="0.3"/>
<text x="437.4" y="397.1" font-size="8.4" fill="#231f20" textLength="39.7" lengthAdjust="spacingAndGlyphs">FACS-MES</text>
<text class="s" x="477.6" y="394.2" font-size="4.9" fill="#231f20" textLength="26.5" lengthAdjust="spacingAndGlyphs">Runx1b–KO</text>
<text x="6.6" y="426.6" font-size="11.6" font-weight="bold" fill="#000">C</text>
<text x="59" y="430.9" font-size="8.3" fill="#231f20" textLength="58" lengthAdjust="spacingAndGlyphs"><tspan font-style="italic">In silico</tspan> clusters</text>
<path d="M25.3 476.2h0M29.7 473.7h0M25.7 477h0M22.9 474.7h0M26.5 483h0M22.4 468.6h0M28.3 461.3h0M27 477.9h0M26.7 461.8h0M23.3 466.9h0M21.5 473.2h0M24.7 484.4h0M25.8 478.6h0M25.6 479.2h0M25.7 468.1h0M28.6 480.7h0M24.5 466.6h0M24.5 462h0M28.4 471.7h0M29.2 471.4h0M29.6 473.8h0M30.4 471.8h0M21.7 478h0M28.7 468h0M22.3 469.5h0M22.7 467h0M29 465.3h0M26.4 473h0M22.6 481.1h0M22.2 478.5h0M22.4 472h0M23.5 467.7h0M23.4 485.6h0M23.3 471.3h0M28.8 478.8h0M23.5 467.4h0M28.6 469.7h0M24.6 462h0M21.9 476.7h0M23.3 477.3h0M24.7 473.1h0M30 474.2h0M25.9 485.2h0M23.4 464.3h0M24 465.4h0M29.2 477.7h0M25.7 463h0M23.1 480.3h0M23.1 483.8h0M27 468.6h0M22.5 480.7h0M25.8 484.7h0M27.2 468.2h0M26 461.7h0M23 470.5h0M27 463.9h0M23.9 485.8h0M27.4 477h0M21.2 478.2h0M25.3 481.2h0M21.8 475.6h0M27.4 486.2h0M27.7 480.5h0M24.2 479.8h0M24.6 482.9h0M29 476.8h0M27.1 471.2h0M26.4 477.7h0M21.7 478.3h0M28.1 471.4h0M27.8 477h0M24.7 484.3h0M21.6 481.5h0M21.3 477.2h0M26 466.7h0M27.6 474.5h0M26.2 486.7h0M23.7 479.6h0M23.6 464.8h0M29.3 479.3h0M24.7 485.8h0M24 479.2h0M23.1 472.4h0M29.5 471.3h0M26.8 469.2h0M22.5 474.2h0M28.4 484.8h0M27.1 487.6h0M24.3 464.8h0M25.7 468h0M23.3 471.9h0M27 474.4h0M23.6 484.2h0M30.3 473.4h0M27.6 476.6h0M23.6 482.9h0M26.1 460.7h0M29.2 467.1h0M27.1 473h0M26.8 479.1h0M28 465.9h0M26.1 465.2h0M21.3 473.5h0M28.3 465.3h0M23.9 469.9h0M27.6 475.2h0M26.5 482h0M24.4 482.9h0M29.4 481.1h0M22.5 473h0M26.3 486.4h0M24.6 476.4h0M28.8 483.3h0M29.9 473.7h0M27.6 466h0M27.4 483.8h0M26.8 480.9h0M22.6 485.9h0M25.7 482.9h0M23.5 486.3h0M29.3 470.3h0M22.1 472.6h0M25.9 482.3h0M26.4 460.8h0M29.1 465.2h0M23.8 482.8h0M25.6 481h0M28.6 480.1h0M29.9 474.5h0M23.2 475.1h0" stroke="#ece83a" stroke-width="1.36" stroke-linecap="round"/>
<path d="M29.2 463h0M32.2 460.8h0M33.9 461.2h0M29.4 459.2h0M28.5 464.4h0M34.9 460.8h0M31.6 457.2h0M31.3 460.5h0M31.9 455.3h0M34.9 460.7h0M30.2 463.8h0M31.5 460.4h0M32.6 455.7h0M31.3 459.6h0M29.1 460.2h0M27.9 459.8h0M30.8 458.5h0M28.4 461.8h0M28.4 457.5h0M32.6 458.5h0M29.8 461.8h0M27.7 463h0M27.8 460.6h0M28.9 457.2h0M31.3 459.8h0M30 459.5h0M31.2 456.8h0M28.5 461.9h0M32.2 460.8h0M34 461.7h0M34 457.6h0M33 463.9h0M34.4 458.5h0M29.4 465.2h0" stroke="#8c8c8c" stroke-width="1.36" stroke-linecap="round"/>
<path d="M132.6 453.8h0M129.9 442.1h0M136.7 446.8h0M135 441.4h0M133.9 452.6h0M137.6 456.2h0M135.2 453.7h0M134.9 452.4h0M134.5 449.2h0M133 442.3h0M129.7 444.3h0M134.9 454h0M132.2 448.8h0M133.8 447.7h0M132.7 439.8h0M137.5 454.9h0M130.8 448.9h0M135.8 446.7h0M129.6 443.5h0M131.9 440h0M139 453.6h0M137.6 455.2h0M134.8 446.9h0M134.9 448.8h0M133.6 457.1h0M137.6 453.6h0M136.5 446.5h0M137 453.5h0M136 446.6h0M134.1 440.6h0M132.4 448.8h0M135.9 451h0M134.8 445.6h0M135.8 449.9h0M133.8 446.9h0M137.1 453.4h0M136.2 453.1h0M131.3 447.8h0M131 441.9h0M133.5 457.1h0M134.5 449h0M138.7 449.2h0M136.1 453.6h0M130.7 449.3h0M130.9 449.7h0M133 440.6h0M137.8 446.5h0M134.7 450.7h0M131.8 445.4h0M135.7 449.8h0M133 453.5h0M132 454.5h0M134.8 456.6h0M133.2 448.8h0M136.2 457h0M135.9 447.9h0M133.2 441.7h0M135 447.9h0M132.5 442h0M134.2 452.2h0M132.5 444.7h0M134.4 447.3h0M136.7 448.9h0M135 443.6h0M137.2 450.6h0M131.6 445.1h0M136 449.8h0M135.5 451.2h0M134.9 442.7h0M131.5 448.2h0" stroke="#3a64a4" stroke-width="1.36" stroke-linecap="round"/>
<path d="M136.1 458h0M135.6 457.8h0M134.7 464.3h0M137.1 463.2h0M135.8 462h0M134.5 460.9h0M138.7 464.9h0M138.5 462.7h0M137.2 458.8h0M135.5 459.8h0M137.8 460.3h0M135.7 462.7h0M138.9 465.7h0M135.8 460.8h0" stroke="#48c0c0" stroke-width="1.36" stroke-linecap="round"/>
<path d="M138.9 468.6h0M138.8 465.7h0M137.3 472h0M134.7 467.1h0M140.9 471.3h0M135.4 464.4h0M138.6 472.5h0M135.8 463.8h0M140.3 469.5h0M141 467.2h0M139.7 465.5h0M136.8 468h0M136.1 467.6h0M136.9 467.3h0M137.3 467.6h0M136.7 470.6h0M140.7 468.9h0M141.1 469.1h0M137.5 473.4h0M140.1 465h0M135.3 470.3h0M139.1 469.9h0M142.4 470.1h0M140.2 473h0M142 474.2h0M136.3 471.8h0" stroke="#80bce8" stroke-width="1.36" stroke-linecap="round"/>
<path d="M136 504.2h0M145 497.1h0M137.1 504.7h0M141.5 505.5h0M140.9 498h0M148.4 505.1h0M141.8 501.6h0M144.6 505.1h0M148.4 500.6h0M146.3 504.6h0M146.3 507h0M148.3 504.5h0M141.7 504.6h0M146.7 500.5h0M141.9 494.9h0M141.1 495.1h0M137.9 499h0M136.1 496.6h0M135.9 502.5h0M147 496.4h0M135.7 499.2h0M142 508.1h0M138.2 495.4h0M137.5 503.9h0M144.2 496.6h0M138 496.5h0M136.4 504.5h0M139.1 501.3h0M146.7 501.5h0M137.3 506.9h0M148.6 499.4h0M141.4 508.8h0M142.6 496.3h0M146.8 499.9h0M142.4 501.3h0M145.1 497h0M134.9 499.3h0M139.2 505.6h0M144.8 503.3h0M138 494.4h0M140.1 496.5h0M147.4 502.2h0M138.4 501h0M136 504.6h0M146.2 507.3h0M136.5 496.1h0M146.4 494.8h0M141.8 500.4h0M148.5 503.6h0M147.9 498.6h0M146.5 500.4h0M147.7 497h0M142.6 501.5h0M136 505.7h0M139.8 497.3h0M136.3 496.6h0M140.9 504.5h0M139.4 503.8h0M136.5 498.2h0M140.1 508.7h0M146.4 504.4h0M145.9 497.2h0M143.1 500.5h0M147.3 496.9h0M144.3 497.8h0M140.1 501.3h0M139.5 497.8h0M139.9 503.5h0M139.3 495.3h0M145.9 498.7h0M148.4 503.2h0M145.8 498.8h0M144 504.9h0M137.6 498.5h0M146.7 503.4h0M136.8 495.4h0M141.9 493.6h0M148.4 500.9h0M141.7 503.5h0M145 507.1h0M140.8 497.9h0M142.1 492.7h0M139.9 504.1h0M144 503.2h0M139.2 503.1h0M136.5 497.9h0M141.3 505.9h0M146.5 503.7h0M136.2 504.6h0M147.8 502.9h0M139.8 500.6h0M136.1 503.6h0M149.1 502.5h0M144.2 507.2h0M144.8 496.3h0" stroke="#f09aa2" stroke-width="1.36" stroke-linecap="round"/>
<path d="M143.9 503h0M148.2 515h0M144.5 520.3h0M146.5 508.9h0M148.3 511.6h0M149.5 504.3h0M151.4 513h0M142.4 517.4h0M144.1 519.5h0M144.7 511.4h0M153 502.8h0M150 499.6h0M150.6 505.5h0M149.2 516.2h0M146.3 512.1h0M144.5 508.7h0M144.2 506.6h0M150 502h0M149.1 504.2h0M149.4 506h0M151.3 498.8h0M151.3 501.5h0M153.1 513.2h0M148 507.8h0M148.8 514.9h0M150.2 516.7h0M146.1 522.2h0M150.8 519.4h0M147.1 508.2h0M147.4 520.1h0M148.2 510.7h0M145.8 519.9h0M147.4 498.7h0M149.3 520.3h0M150.4 512.8h0M151.7 505.6h0M150.6 499.5h0M143.7 508.1h0M148.4 507.4h0M142 514.1h0M149.2 503.6h0M146.1 507.1h0M148.7 519.3h0M146 517.4h0M143.8 515.6h0M147.4 520.1h0M142.2 516.6h0M143.4 510.3h0M145.7 504.6h0M147.4 498.9h0M147.3 506.3h0M150.6 498.9h0M145.7 509.6h0M148.7 502.7h0M144.1 520.1h0M152.5 507h0M148.8 501.8h0M144 512.8h0M143 518.9h0M151.3 505.7h0M151.8 501.3h0M148.8 521.2h0M148.8 499.5h0M145.4 504.8h0M151.6 502.8h0M145.1 502.9h0M148.9 517.5h0M145.9 513.8h0M152.3 512.9h0M145.5 504.6h0M152.5 514.8h0M144.9 513.1h0M147.2 510.6h0M149.9 498.8h0M149.9 504.8h0M144 517.1h0M143.8 504h0M151.9 504.1h0M145.2 510.8h0M146.7 516.1h0M145.1 520.4h0M149.1 502.1h0M148.2 513.7h0M145.8 513.7h0M151.3 510.9h0M146.9 518.6h0M150.1 510.8h0M152.5 502.2h0M150.2 503.6h0M146.3 516.7h0M150.4 517.7h0M144.9 509.3h0M144.4 511.5h0M149.6 498.5h0M148.4 515.5h0M147.6 519.4h0M145.4 500.8h0M142.3 509.1h0M147.4 508.4h0M144.1 517h0M148.7 511.2h0M152.4 504h0M144.5 504.7h0M143.2 504.6h0M149.4 510.8h0M144.9 511.8h0M145 503.4h0M143.3 514.2h0M150.9 517.7h0M143.1 507.1h0M147.4 502.8h0M147 516.5h0M146.6 516h0M147.4 504.8h0M148.6 499.4h0M150.3 516.2h0M145.6 503.4h0M149.5 503.7h0M146 520.6h0M147 505.7h0M153.3 513.5h0M142.9 506.8h0M151.3 499.3h0M145.5 514.6h0M152 512.9h0M152.7 509.7h0M145.5 518.3h0M145.6 516.8h0M145.1 505.7h0M144.1 510.7h0M145 502.1h0M144.7 508.7h0M145.9 508.4h0M153.3 503.3h0M148.1 499.2h0M150.8 506.9h0M145 503.6h0M145.3 520.3h0M151.4 504.6h0M147.6 501.2h0" stroke="#e23c48" stroke-width="1.36" stroke-linecap="round"/>
<path d="M145.1 520.9h0M145.1 525.6h0M136.8 528.2h0M139.3 531.1h0M137.4 523.4h0M136.9 526.2h0M138.3 522.3h0M136.9 528.6h0M138.3 523.7h0M141.3 522.8h0M144.2 525.7h0M133.2 528.8h0M138.3 531.2h0M138 527.2h0M143.3 520.7h0M136.1 528.2h0M134.3 533.5h0M142.9 528.6h0M145 528.2h0M137.3 531.7h0M145.2 528.6h0M143.4 520.7h0M139.2 522.3h0M138.3 527h0M133.2 531.2h0M137.6 529h0M134.8 526.9h0M138.5 527.9h0M136.5 532.1h0M133.8 526.9h0M137.3 528.2h0M135.7 531.7h0M143.1 525.1h0M137.6 527.2h0M133.4 531.3h0M133.8 532.1h0M141 525.8h0M136 527.1h0M145.8 523h0M137.8 531h0M135.5 530.4h0M144.5 529.1h0M138.6 529.2h0M142.5 526.5h0M138.2 527.4h0M139 532.1h0M144.5 521.7h0M135 531.3h0M136.5 528.1h0M134 528.5h0M140.8 522.9h0M136.9 526.2h0M140.9 528.2h0M141.5 527.4h0M143 528.8h0" stroke="#f08a28" stroke-width="1.36" stroke-linecap="round"/>
<path d="M134.2 532.4h0M131.3 539.1h0M130.3 538.3h0M133.3 535.9h0M128.7 538.7h0M131.2 536.4h0M129.1 535.5h0M133.2 534.8h0M127.8 536.1h0M128.3 535.2h0M129.6 533.8h0M128.6 539.5h0M127.6 537.9h0M133.2 534.3h0M129.7 540h0M129 537.5h0M133 533.7h0M131.8 533.3h0M132.1 533.8h0M130.7 538.4h0M135.1 535.9h0M131.2 535.2h0" stroke="#f08a28" stroke-width="1.36" stroke-linecap="round"/>
<path d="M142.4 517.1h0M143.3 518.7h0M138.4 514.9h0M142.2 513.6h0M141.6 520h0M142.3 515.3h0M141.9 515.1h0M137.8 517.9h0M139.5 518.1h0M141.3 515.8h0M140.1 514.3h0M143.1 519h0M139.5 515h0M141.8 518.4h0" stroke="#f08a28" stroke-width="1.36" stroke-linecap="round"/>
<path d="M133.9 534.2h0M132.2 535.3h0M132.8 532.5h0M133.6 533.3h0M130.9 532.3h0M131.4 532.5h0M131.8 533.4h0M129.4 534.9h0M130.2 533.3h0" stroke="#6e2016" stroke-width="1.36" stroke-linecap="round"/>
<path d="M126.9 545.2h0M126 548h0M125.3 547.5h0" stroke="#6e2016" stroke-width="1.36" stroke-linecap="round"/>
<path d="M125.9 538.8h0M127.5 539.1h0M123.2 540h0M125.6 542h0M122.2 545.8h0M123.5 544.6h0M128.2 535.8h0M123.5 543.3h0M124.5 539.9h0M124 544.4h0M125.7 543.8h0M123.5 544.1h0M125.7 544.3h0M128.1 539.4h0M127.7 536.8h0M127.3 536.3h0M125.6 538h0M124.6 544.6h0" stroke="#3aa040" stroke-width="1.36" stroke-linecap="round"/>
<path d="M126.7 551.7h0M126.7 549.9h0M127.8 550.1h0M126.2 550.2h0" stroke="#3aa040" stroke-width="1.36" stroke-linecap="round"/>
<ellipse cx="30.3" cy="471.7" rx="12.9" ry="21.5" transform="rotate(3 30.3 471.7)" fill="none" stroke="#8a8a8a" stroke-width="0.6" stroke-dasharray="1.6 1.2"/>
<ellipse cx="138" cy="458.7" rx="11.6" ry="24.2" transform="rotate(-17 138 458.7)" fill="none" stroke="#8a8a8a" stroke-width="0.6" stroke-dasharray="1.6 1.2"/>
<ellipse cx="138.8" cy="522.5" rx="17.5" ry="36" transform="rotate(14 138.8 522.5)" fill="none" stroke="#8a8a8a" stroke-width="0.6" stroke-dasharray="1.6 1.2"/>
<text x="42.9" y="451.8" font-size="8.2" fill="#231f20" textLength="48.8" lengthAdjust="spacingAndGlyphs">Mesenchyme</text>
<text x="86.2" y="472.4" font-size="8.2" fill="#231f20" textLength="40.7" lengthAdjust="spacingAndGlyphs">Endothelial</text>
<text x="92.5" y="517.9" font-size="8.2" fill="#231f20" textLength="15.2" lengthAdjust="spacingAndGlyphs">EHT</text>
<text x="80.6" y="525.3" font-size="8.2" fill="#231f20" textLength="38.7" lengthAdjust="spacingAndGlyphs">continuum</text>
<rect x="14.8" y="434.8" width="145.6" height="125.1" rx="0.8" fill="none" stroke="#2a2a2a" stroke-width="1.25"/>
<text transform="translate(9.9 560.2) rotate(-90)" font-size="6.4" fill="#231f20" textLength="20.6" lengthAdjust="spacingAndGlyphs">UMAP2</text>
<path d="M7.9 535.5 V522.3" stroke="#231f20" stroke-width="0.55"/><path d="M6.8 522.8 L7.9 519.7 L9 522.8 Z" fill="#231f20"/>
<text x="11.7" y="567.7" font-size="6.3" fill="#231f20" textLength="20.6" lengthAdjust="spacingAndGlyphs">UMAP1</text>
<path d="M35.4 565.6 H48.2" stroke="#231f20" stroke-width="0.55"/><path d="M47.8 564.5 L50.8 565.6 L47.8 566.7 Z" fill="#231f20"/>
<path d="M165.5 450.75 L168.3 446.25 L171.1 450.75 Z" fill="#3a64a4" stroke="#555" stroke-width="0.35"/>
<text x="172.1" y="450.9" font-size="6.8" fill="#231f20" textLength="44.9" lengthAdjust="spacingAndGlyphs">C1:ENDO-VE</text>
<path d="M165.5 460.85 L168.3 456.35 L171.1 460.85 Z" fill="#48c0c0" stroke="#555" stroke-width="0.35"/>
<text x="172.1" y="461" font-size="6.8" fill="#231f20" textLength="73.7" lengthAdjust="spacingAndGlyphs">C2:ENDO-unclassified</text>
<path d="M165.5 470.85 L168.3 466.35 L171.1 470.85 Z" fill="#80bce8" stroke="#555" stroke-width="0.35"/>
<text x="172.1" y="471" font-size="6.8" fill="#231f20" textLength="45.3" lengthAdjust="spacingAndGlyphs">C3:ENDO-AE</text>
<path d="M165.5 480.75 L168.3 476.25 L171.1 480.75 Z" fill="#e23c48" stroke="#555" stroke-width="0.35"/>
<text x="172.1" y="480.9" font-size="6.8" fill="#231f20" textLength="34.6" lengthAdjust="spacingAndGlyphs">C4:pre-HE</text>
<path d="M165.5 490.85 L168.3 486.35 L171.1 490.85 Z" fill="#f09aa2" stroke="#555" stroke-width="0.35"/>
<text x="172.1" y="491" font-size="6.8" fill="#231f20" textLength="34.6" lengthAdjust="spacingAndGlyphs">C5:pre-HE</text>
<path d="M165.5 502.25 L168.3 497.75 L171.1 502.25 Z" fill="#f08a28" stroke="#555" stroke-width="0.35"/>
<text x="172.1" y="502.4" font-size="6.8" fill="#231f20" textLength="20.8" lengthAdjust="spacingAndGlyphs">C6:HE</text>
<path d="M165.5 512.05 L168.3 507.55 L171.1 512.05 Z" fill="#6e2016" stroke="#555" stroke-width="0.35"/>
<text x="172.1" y="512.2" font-size="6.8" fill="#231f20" textLength="25.2" lengthAdjust="spacingAndGlyphs">C7:EHT</text>
<path d="M165.5 522.05 L168.3 517.55 L171.1 522.05 Z" fill="#3aa040" stroke="#555" stroke-width="0.35"/>
<text x="172.1" y="522.2" font-size="6.8" fill="#231f20" textLength="29" lengthAdjust="spacingAndGlyphs">C8:IAHC</text>
<path d="M165.5 532.65 L168.3 528.15 L171.1 532.65 Z" fill="#8c8c8c" stroke="#555" stroke-width="0.35"/>
<text x="172.1" y="532.8" font-size="6.8" fill="#231f20" textLength="57.3" lengthAdjust="spacingAndGlyphs">C9:MES-PDGFRa</text>
<path d="M165.5 543.25 L168.3 538.75 L171.1 543.25 Z" fill="#ece83a" stroke="#555" stroke-width="0.35"/>
<text x="172.1" y="543.4" font-size="6.8" fill="#231f20" textLength="49" lengthAdjust="spacingAndGlyphs">C10:MES-SMA</text>
<text class="s" x="207.6" y="476.6" font-size="4.6" fill="#231f20" textLength="7.2" lengthAdjust="spacingAndGlyphs">KO</text>
<text x="7.2" y="593.4" font-size="11.6" font-weight="bold" fill="#000">D</text>
<defs><linearGradient id="cbar" x1="0" y1="0" x2="0" y2="1"><stop offset="0" stop-color="#d42a26"/><stop offset="0.25" stop-color="#f08a50"/><stop offset="0.5" stop-color="#faf6a8"/><stop offset="0.75" stop-color="#a8b4c4"/><stop offset="1" stop-color="#3f6fc0"/></linearGradient></defs>
<circle cx="24.13" cy="613.68" r="0.62" fill="none" stroke="#4a78c0" stroke-width="0.3"/><circle cx="24.15" cy="615.04" r="0.62" fill="none" stroke="#4a78c0" stroke-width="0.3"/><circle cx="22.81" cy="611.27" r="0.62" fill="none" stroke="#4a78c0" stroke-width="0.3"/><circle cx="25.29" cy="613.3" r="0.62" fill="none" stroke="#4a78c0" stroke-width="0.3"/><circle cx="24.58" cy="610.11" r="0.62" fill="none" stroke="#4a78c0" stroke-width="0.3"/><circle cx="24.2" cy="612.45" r="0.62" fill="none" stroke="#4a78c0" stroke-width="0.3"/><circle cx="22.74" cy="614.61" r="0.62" fill="none" stroke="#4a78c0" stroke-width="0.3"/><circle cx="25.66" cy="609.75" r="0.62" fill="none" stroke="#4a78c0" stroke-width="0.3"/><circle cx="25.79" cy="609.63" r="0.62" fill="none" stroke="#4a78c0" stroke-width="0.3"/><circle cx="25.26" cy="609.4" r="0.62" fill="none" stroke="#4a78c0" stroke-width="0.3"/><circle cx="23.83" cy="609.68" r="0.62" fill="none" stroke="#4a78c0" stroke-width="0.3"/><circle cx="23.99" cy="613.17" r="0.62" fill="none" stroke="#4a78c0" stroke-width="0.3"/><circle cx="25.79" cy="610.83" r="0.62" fill="none" stroke="#4a78c0" stroke-width="0.3"/><circle cx="24.39" cy="609.46" r="0.62" fill="none" stroke="#4a78c0" stroke-width="0.3"/><circle cx="23.39" cy="612.45" r="0.62" fill="none" stroke="#4a78c0" stroke-width="0.3"/>
<circle cx="22.63" cy="616.73" r="0.62" fill="none" stroke="#4a78c0" stroke-width="0.3"/><circle cx="23.99" cy="618.43" r="0.62" fill="none" stroke="#4a78c0" stroke-width="0.3"/><circle cx="22.31" cy="618.14" r="0.62" fill="none" stroke="#4a78c0" stroke-width="0.3"/><circle cx="24.23" cy="614.86" r="0.62" fill="none" stroke="#4a78c0" stroke-width="0.3"/><circle cx="23.23" cy="621.4" r="0.62" fill="none" stroke="#4a78c0" stroke-width="0.3"/><circle cx="22.34" cy="618.97" r="0.62" fill="none" stroke="#4a78c0" stroke-width="0.3"/><circle cx="21.51" cy="620.34" r="0.62" fill="none" stroke="#4a78c0" stroke-width="0.3"/><circle cx="22.59" cy="617.11" r="0.62" fill="none" stroke="#4a78c0" stroke-width="0.3"/><circle cx="22.58" cy="620.69" r="0.62" fill="none" stroke="#4a78c0" stroke-width="0.3"/><circle cx="21.23" cy="620.22" r="0.62" fill="none" stroke="#4a78c0" stroke-width="0.3"/><circle cx="23.37" cy="621.55" r="0.62" fill="none" stroke="#4a78c0" stroke-width="0.3"/><circle cx="21.76" cy="616.84" r="0.62" fill="none" stroke="#4a78c0" stroke-width="0.3"/><circle cx="22.66" cy="621.92" r="0.62" fill="none" stroke="#4a78c0" stroke-width="0.3"/><circle cx="21.75" cy="621.81" r="0.62" fill="none" stroke="#4a78c0" stroke-width="0.3"/><circle cx="23.32" cy="616.88" r="0.62" fill="none" stroke="#4a78c0" stroke-width="0.3"/>
<circle cx="63.15" cy="602.33" r="0.62" fill="none" stroke="#ee7f45" stroke-width="0.3"/><circle cx="65.97" cy="604.43" r="0.62" fill="none" stroke="#ee7f45" stroke-width="0.3"/><circle cx="63.54" cy="602.7" r="0.62" fill="none" stroke="#ee7f45" stroke-width="0.3"/><circle cx="64.94" cy="606.75" r="0.62" fill="none" stroke="#ee7f45" stroke-width="0.3"/><circle cx="63.94" cy="603.97" r="0.62" fill="none" stroke="#ee7f45" stroke-width="0.3"/><circle cx="62.54" cy="604.75" r="0.62" fill="none" stroke="#ee7f45" stroke-width="0.3"/><circle cx="65.02" cy="606.46" r="0.62" fill="none" stroke="#ee7f45" stroke-width="0.3"/><circle cx="62.72" cy="604.28" r="0.62" fill="none" stroke="#ee7f45" stroke-width="0.3"/><circle cx="63.39" cy="607.16" r="0.62" fill="none" stroke="#ee7f45" stroke-width="0.3"/><circle cx="63.41" cy="604.3" r="0.62" fill="none" stroke="#ee7f45" stroke-width="0.3"/><circle cx="65.83" cy="603.87" r="0.62" fill="none" stroke="#ee7f45" stroke-width="0.3"/><circle cx="64.44" cy="606.13" r="0.62" fill="none" stroke="#ee7f45" stroke-width="0.3"/><circle cx="63.86" cy="603.03" r="0.62" fill="none" stroke="#ee7f45" stroke-width="0.3"/><circle cx="63.42" cy="602.05" r="0.62" fill="none" stroke="#ee7f45" stroke-width="0.3"/><circle cx="65.99" cy="605.11" r="0.62" fill="none" stroke="#ee7f45" stroke-width="0.3"/>
<circle cx="65.32" cy="611.07" r="0.62" fill="none" stroke="#4a78c0" stroke-width="0.3"/><circle cx="64.48" cy="610.68" r="0.62" fill="none" stroke="#4a78c0" stroke-width="0.3"/><circle cx="66.74" cy="615.31" r="0.62" fill="none" stroke="#4a78c0" stroke-width="0.3"/><circle cx="65.86" cy="614.8" r="0.62" fill="none" stroke="#4a78c0" stroke-width="0.3"/><circle cx="66.42" cy="613.9" r="0.62" fill="none" stroke="#4a78c0" stroke-width="0.3"/><circle cx="66.34" cy="614.47" r="0.62" fill="none" stroke="#4a78c0" stroke-width="0.3"/><circle cx="65.72" cy="614.13" r="0.62" fill="none" stroke="#4a78c0" stroke-width="0.3"/><circle cx="65.19" cy="612.36" r="0.62" fill="none" stroke="#4a78c0" stroke-width="0.3"/><circle cx="66.41" cy="613.87" r="0.62" fill="none" stroke="#4a78c0" stroke-width="0.3"/>
<circle cx="67.1" cy="635.61" r="0.62" fill="none" stroke="#4a78c0" stroke-width="0.3"/><circle cx="69.76" cy="631" r="0.62" fill="none" stroke="#4a78c0" stroke-width="0.3"/><circle cx="65.45" cy="630.34" r="0.62" fill="none" stroke="#4a78c0" stroke-width="0.3"/><circle cx="66.99" cy="632.04" r="0.62" fill="none" stroke="#4a78c0" stroke-width="0.3"/><circle cx="68.33" cy="634" r="0.62" fill="none" stroke="#4a78c0" stroke-width="0.3"/><circle cx="69.6" cy="633.82" r="0.62" fill="none" stroke="#4a78c0" stroke-width="0.3"/><circle cx="67.67" cy="631.72" r="0.62" fill="none" stroke="#4a78c0" stroke-width="0.3"/><circle cx="70.19" cy="634.25" r="0.62" fill="none" stroke="#4a78c0" stroke-width="0.3"/><circle cx="67.55" cy="634.3" r="0.62" fill="none" stroke="#4a78c0" stroke-width="0.3"/><circle cx="71.18" cy="632.48" r="0.62" fill="none" stroke="#4a78c0" stroke-width="0.3"/><circle cx="68.9" cy="630.29" r="0.62" fill="none" stroke="#4a78c0" stroke-width="0.3"/><circle cx="66.3" cy="634.15" r="0.62" fill="none" stroke="#4a78c0" stroke-width="0.3"/><circle cx="71.79" cy="629.76" r="0.62" fill="none" stroke="#4a78c0" stroke-width="0.3"/><circle cx="69.95" cy="632.82" r="0.62" fill="none" stroke="#4a78c0" stroke-width="0.3"/><circle cx="70.59" cy="625.72" r="0.62" fill="none" stroke="#4a78c0" stroke-width="0.3"/><circle cx="70.65" cy="631.05" r="0.62" fill="none" stroke="#4a78c0" stroke-width="0.3"/><circle cx="69.98" cy="628.93" r="0.62" fill="none" stroke="#4a78c0" stroke-width="0.3"/><circle cx="69.45" cy="633.51" r="0.62" fill="none" stroke="#4a78c0" stroke-width="0.3"/><circle cx="69.58" cy="632.81" r="0.62" fill="none" stroke="#4a78c0" stroke-width="0.3"/><circle cx="68.3" cy="631.83" r="0.62" fill="none" stroke="#4a78c0" stroke-width="0.3"/><circle cx="66.77" cy="632.21" r="0.62" fill="none" stroke="#4a78c0" stroke-width="0.3"/><circle cx="70" cy="624" r="0.62" fill="none" stroke="#4a78c0" stroke-width="0.3"/><circle cx="68.79" cy="626.34" r="0.62" fill="none" stroke="#4a78c0" stroke-width="0.3"/><circle cx="67.78" cy="625.7" r="0.62" fill="none" stroke="#4a78c0" stroke-width="0.3"/><circle cx="68.65" cy="628.33" r="0.62" fill="none" stroke="#4a78c0" stroke-width="0.3"/><circle cx="69.5" cy="631.11" r="0.62" fill="none" stroke="#4a78c0" stroke-width="0.3"/><circle cx="66.75" cy="635.04" r="0.62" fill="none" stroke="#4a78c0" stroke-width="0.3"/><circle cx="67.36" cy="628.65" r="0.62" fill="none" stroke="#4a78c0" stroke-width="0.3"/><circle cx="68.26" cy="623.83" r="0.62" fill="none" stroke="#4a78c0" stroke-width="0.3"/><circle cx="69.85" cy="624.68" r="0.62" fill="none" stroke="#4a78c0" stroke-width="0.3"/><circle cx="69.22" cy="627.83" r="0.62" fill="none" stroke="#4a78c0" stroke-width="0.3"/><circle cx="69.04" cy="635.88" r="0.62" fill="none" stroke="#4a78c0" stroke-width="0.3"/><circle cx="71.02" cy="628.96" r="0.62" fill="none" stroke="#4a78c0" stroke-width="0.3"/><circle cx="70.83" cy="631.86" r="0.62" fill="none" stroke="#4a78c0" stroke-width="0.3"/><circle cx="68.16" cy="625.21" r="0.62" fill="none" stroke="#4a78c0" stroke-width="0.3"/><circle cx="69.41" cy="630.76" r="0.62" fill="none" stroke="#4a78c0" stroke-width="0.3"/><circle cx="69.64" cy="628.01" r="0.62" fill="none" stroke="#4a78c0" stroke-width="0.3"/><circle cx="66.09" cy="630.61" r="0.62" fill="none" stroke="#4a78c0" stroke-width="0.3"/><circle cx="69.83" cy="625.28" r="0.62" fill="none" stroke="#4a78c0" stroke-width="0.3"/><circle cx="69.41" cy="635.03" r="0.62" fill="none" stroke="#4a78c0" stroke-width="0.3"/>
<circle cx="67.07" cy="637.37" r="0.62" fill="none" stroke="#4a78c0" stroke-width="0.3"/><circle cx="66.88" cy="636.16" r="0.62" fill="none" stroke="#4a78c0" stroke-width="0.3"/><circle cx="69.94" cy="638.62" r="0.62" fill="none" stroke="#4a78c0" stroke-width="0.3"/><circle cx="68.65" cy="636.93" r="0.62" fill="none" stroke="#4a78c0" stroke-width="0.3"/><circle cx="69.58" cy="639.33" r="0.62" fill="none" stroke="#4a78c0" stroke-width="0.3"/><circle cx="67.63" cy="636.82" r="0.62" fill="none" stroke="#4a78c0" stroke-width="0.3"/><circle cx="69.61" cy="639.31" r="0.62" fill="none" stroke="#4a78c0" stroke-width="0.3"/><circle cx="66.52" cy="637.41" r="0.62" fill="none" stroke="#4a78c0" stroke-width="0.3"/><circle cx="65.28" cy="637.83" r="0.62" fill="none" stroke="#4a78c0" stroke-width="0.3"/><circle cx="67.85" cy="636.73" r="0.62" fill="none" stroke="#4a78c0" stroke-width="0.3"/><circle cx="67.56" cy="640.76" r="0.62" fill="none" stroke="#4a78c0" stroke-width="0.3"/><circle cx="65.1" cy="637.03" r="0.62" fill="none" stroke="#4a78c0" stroke-width="0.3"/><circle cx="64.9" cy="640.08" r="0.62" fill="none" stroke="#4a78c0" stroke-width="0.3"/><circle cx="69.53" cy="637.34" r="0.62" fill="none" stroke="#4a78c0" stroke-width="0.3"/><circle cx="67.53" cy="635.46" r="0.62" fill="none" stroke="#4a78c0" stroke-width="0.3"/><circle cx="67.97" cy="638.23" r="0.62" fill="none" stroke="#4a78c0" stroke-width="0.3"/>
<circle cx="63.03" cy="646.5" r="0.62" fill="none" stroke="#4a78c0" stroke-width="0.3"/><circle cx="65.7" cy="642.43" r="0.62" fill="none" stroke="#4a78c0" stroke-width="0.3"/><circle cx="64.83" cy="644.04" r="0.62" fill="none" stroke="#4a78c0" stroke-width="0.3"/><circle cx="64.1" cy="644.03" r="0.62" fill="none" stroke="#4a78c0" stroke-width="0.3"/><circle cx="62.56" cy="645.37" r="0.62" fill="none" stroke="#4a78c0" stroke-width="0.3"/><circle cx="63.81" cy="644.15" r="0.62" fill="none" stroke="#4a78c0" stroke-width="0.3"/><circle cx="63.34" cy="646.53" r="0.62" fill="none" stroke="#4a78c0" stroke-width="0.3"/><circle cx="61.01" cy="648.95" r="0.62" fill="none" stroke="#4a78c0" stroke-width="0.3"/><circle cx="63.91" cy="646.34" r="0.62" fill="none" stroke="#4a78c0" stroke-width="0.3"/><circle cx="62.65" cy="645.95" r="0.62" fill="none" stroke="#4a78c0" stroke-width="0.3"/><circle cx="63.04" cy="646.84" r="0.62" fill="none" stroke="#4a78c0" stroke-width="0.3"/><circle cx="61.1" cy="648.94" r="0.62" fill="none" stroke="#4a78c0" stroke-width="0.3"/>
<rect x="19.8" y="630.2" width="4.1" height="21.5" fill="url(#cbar)"/>
<text class="s" x="24.9" y="633.5" font-size="4.8" fill="#231f20" textLength="10.1" lengthAdjust="spacingAndGlyphs">High</text>
<text class="s" x="24.9" y="651" font-size="4.8" fill="#231f20" textLength="9" lengthAdjust="spacingAndGlyphs">Low</text>
<text x="20.9" y="605.5" font-size="6.5" font-style="italic" fill="#1a1a1a" textLength="14.4" lengthAdjust="spacingAndGlyphs">Nrp2</text>
<rect x="18.6" y="598.9" width="55.5" height="53.3" rx="0.6" fill="none" stroke="#231f20" stroke-width="1.15"/>
<circle cx="89.15" cy="611.05" r="0.62" fill="none" stroke="#4a78c0" stroke-width="0.3"/><circle cx="90.95" cy="610.08" r="0.62" fill="none" stroke="#4a78c0" stroke-width="0.3"/><circle cx="88.06" cy="614.03" r="0.62" fill="none" stroke="#4a78c0" stroke-width="0.3"/><circle cx="90.03" cy="611.59" r="0.62" fill="none" stroke="#4a78c0" stroke-width="0.3"/><circle cx="88.12" cy="613.68" r="0.62" fill="none" stroke="#4a78c0" stroke-width="0.3"/><circle cx="89.14" cy="612.22" r="0.62" fill="none" stroke="#4a78c0" stroke-width="0.3"/><circle cx="89.61" cy="610.72" r="0.62" fill="none" stroke="#4a78c0" stroke-width="0.3"/><circle cx="88.07" cy="612.21" r="0.62" fill="none" stroke="#4a78c0" stroke-width="0.3"/><circle cx="87.87" cy="613.9" r="0.62" fill="none" stroke="#4a78c0" stroke-width="0.3"/><circle cx="89.9" cy="613.28" r="0.62" fill="none" stroke="#4a78c0" stroke-width="0.3"/><circle cx="90.76" cy="608.93" r="0.62" fill="none" stroke="#4a78c0" stroke-width="0.3"/><circle cx="90.88" cy="610.23" r="0.62" fill="none" stroke="#4a78c0" stroke-width="0.3"/><circle cx="88.91" cy="615.17" r="0.62" fill="none" stroke="#4a78c0" stroke-width="0.3"/><circle cx="90.64" cy="609.53" r="0.62" fill="none" stroke="#4a78c0" stroke-width="0.3"/><circle cx="87.88" cy="614.64" r="0.62" fill="none" stroke="#4a78c0" stroke-width="0.3"/>
<circle cx="86.67" cy="619.11" r="0.62" fill="none" stroke="#4a78c0" stroke-width="0.3"/><circle cx="88.21" cy="615.55" r="0.62" fill="none" stroke="#4a78c0" stroke-width="0.3"/><circle cx="89.08" cy="614.7" r="0.62" fill="none" stroke="#4a78c0" stroke-width="0.3"/><circle cx="86.86" cy="617.17" r="0.62" fill="none" stroke="#4a78c0" stroke-width="0.3"/><circle cx="87.9" cy="620.45" r="0.62" fill="none" stroke="#4a78c0" stroke-width="0.3"/><circle cx="88.04" cy="616.83" r="0.62" fill="none" stroke="#4a78c0" stroke-width="0.3"/><circle cx="88.35" cy="618.37" r="0.62" fill="none" stroke="#4a78c0" stroke-width="0.3"/><circle cx="89.65" cy="617.62" r="0.62" fill="none" stroke="#4a78c0" stroke-width="0.3"/><circle cx="86.22" cy="619.77" r="0.62" fill="none" stroke="#4a78c0" stroke-width="0.3"/><circle cx="86.64" cy="619.28" r="0.62" fill="none" stroke="#4a78c0" stroke-width="0.3"/><circle cx="87.42" cy="621.8" r="0.62" fill="none" stroke="#4a78c0" stroke-width="0.3"/><circle cx="88.01" cy="619.43" r="0.62" fill="none" stroke="#4a78c0" stroke-width="0.3"/><circle cx="87.13" cy="618.69" r="0.62" fill="none" stroke="#4a78c0" stroke-width="0.3"/><circle cx="86.81" cy="620.33" r="0.62" fill="none" stroke="#4a78c0" stroke-width="0.3"/><circle cx="88.59" cy="615.38" r="0.62" fill="none" stroke="#4a78c0" stroke-width="0.3"/>
<circle cx="128.2" cy="603.75" r="0.62" fill="none" stroke="#4a78c0" stroke-width="0.3"/><circle cx="129.74" cy="602.08" r="0.62" fill="none" stroke="#4a78c0" stroke-width="0.3"/><circle cx="130.25" cy="605.47" r="0.62" fill="none" stroke="#4a78c0" stroke-width="0.3"/><circle cx="128.04" cy="605.95" r="0.62" fill="none" stroke="#4a78c0" stroke-width="0.3"/><circle cx="129.31" cy="602.59" r="0.62" fill="none" stroke="#4a78c0" stroke-width="0.3"/><circle cx="130.61" cy="604.13" r="0.62" fill="none" stroke="#4a78c0" stroke-width="0.3"/><circle cx="129.04" cy="606.71" r="0.62" fill="none" stroke="#4a78c0" stroke-width="0.3"/><circle cx="131.13" cy="605.5" r="0.62" fill="none" stroke="#4a78c0" stroke-width="0.3"/><circle cx="127.84" cy="601.95" r="0.62" fill="none" stroke="#4a78c0" stroke-width="0.3"/><circle cx="129.99" cy="601.75" r="0.62" fill="none" stroke="#4a78c0" stroke-width="0.3"/><circle cx="129.56" cy="603.39" r="0.62" fill="none" stroke="#4a78c0" stroke-width="0.3"/><circle cx="128.15" cy="603.48" r="0.62" fill="none" stroke="#4a78c0" stroke-width="0.3"/><circle cx="129.51" cy="603.36" r="0.62" fill="none" stroke="#4a78c0" stroke-width="0.3"/><circle cx="128.44" cy="601.99" r="0.62" fill="none" stroke="#4a78c0" stroke-width="0.3"/><circle cx="130.66" cy="605.34" r="0.62" fill="none" stroke="#4a78c0" stroke-width="0.3"/>
<circle cx="131.12" cy="611.74" r="0.62" fill="none" stroke="#9ab0cc" stroke-width="0.3"/><circle cx="131.35" cy="612.41" r="0.62" fill="none" stroke="#9ab0cc" stroke-width="0.3"/><circle cx="130.99" cy="612.97" r="0.62" fill="none" stroke="#9ab0cc" stroke-width="0.3"/><circle cx="130.94" cy="611.45" r="0.62" fill="none" stroke="#9ab0cc" stroke-width="0.3"/><circle cx="131.35" cy="612.1" r="0.62" fill="none" stroke="#9ab0cc" stroke-width="0.3"/><circle cx="131.33" cy="615.61" r="0.62" fill="none" stroke="#9ab0cc" stroke-width="0.3"/><circle cx="130.79" cy="611.77" r="0.62" fill="none" stroke="#9ab0cc" stroke-width="0.3"/><circle cx="129.94" cy="609.12" r="0.62" fill="none" stroke="#9ab0cc" stroke-width="0.3"/><circle cx="129.5" cy="609.73" r="0.62" fill="none" stroke="#9ab0cc" stroke-width="0.3"/>
<circle cx="133.13" cy="628.37" r="0.62" fill="none" stroke="#f3a86a" stroke-width="0.3"/><circle cx="132.38" cy="626.92" r="0.62" fill="none" stroke="#f3a86a" stroke-width="0.3"/><circle cx="131.75" cy="627.02" r="0.62" fill="none" stroke="#f3a86a" stroke-width="0.3"/><circle cx="132.11" cy="629.57" r="0.62" fill="none" stroke="#f3a86a" stroke-width="0.3"/><circle cx="132.71" cy="635.54" r="0.62" fill="none" stroke="#f3a86a" stroke-width="0.3"/><circle cx="135.06" cy="632.22" r="0.62" fill="none" stroke="#f3a86a" stroke-width="0.3"/><circle cx="133.41" cy="635.67" r="0.62" fill="none" stroke="#f3a86a" stroke-width="0.3"/><circle cx="131.19" cy="631.95" r="0.62" fill="none" stroke="#f3a86a" stroke-width="0.3"/><circle cx="132.36" cy="632.09" r="0.62" fill="none" stroke="#f3a86a" stroke-width="0.3"/><circle cx="135.69" cy="625.61" r="0.62" fill="none" stroke="#f3a86a" stroke-width="0.3"/><circle cx="132.91" cy="636.01" r="0.62" fill="none" stroke="#f3a86a" stroke-width="0.3"/><circle cx="133.11" cy="627.41" r="0.62" fill="none" stroke="#f3a86a" stroke-width="0.3"/><circle cx="133.83" cy="627.07" r="0.62" fill="none" stroke="#f3a86a" stroke-width="0.3"/><circle cx="135.33" cy="632.81" r="0.62" fill="none" stroke="#f3a86a" stroke-width="0.3"/><circle cx="131.79" cy="626.41" r="0.62" fill="none" stroke="#f3a86a" stroke-width="0.3"/><circle cx="134.77" cy="635.68" r="0.62" fill="none" stroke="#f3a86a" stroke-width="0.3"/><circle cx="134.94" cy="629.05" r="0.62" fill="none" stroke="#f3a86a" stroke-width="0.3"/><circle cx="133.6" cy="623.96" r="0.62" fill="none" stroke="#f3a86a" stroke-width="0.3"/><circle cx="133.9" cy="636.27" r="0.62" fill="none" stroke="#f3a86a" stroke-width="0.3"/><circle cx="134.13" cy="627.96" r="0.62" fill="none" stroke="#f3a86a" stroke-width="0.3"/><circle cx="136.61" cy="629.93" r="0.62" fill="none" stroke="#f3a86a" stroke-width="0.3"/><circle cx="133.5" cy="624.15" r="0.62" fill="none" stroke="#f3a86a" stroke-width="0.3"/><circle cx="132.3" cy="628.61" r="0.62" fill="none" stroke="#f3a86a" stroke-width="0.3"/><circle cx="132.89" cy="624.01" r="0.62" fill="none" stroke="#f3a86a" stroke-width="0.3"/><circle cx="131.72" cy="629.9" r="0.62" fill="none" stroke="#f3a86a" stroke-width="0.3"/><circle cx="133.22" cy="630.27" r="0.62" fill="none" stroke="#f3a86a" stroke-width="0.3"/><circle cx="131.2" cy="627.34" r="0.62" fill="none" stroke="#f3a86a" stroke-width="0.3"/><circle cx="131.21" cy="630.3" r="0.62" fill="none" stroke="#f3a86a" stroke-width="0.3"/><circle cx="136.69" cy="631.33" r="0.62" fill="none" stroke="#f3a86a" stroke-width="0.3"/><circle cx="136.52" cy="626.32" r="0.62" fill="none" stroke="#f3a86a" stroke-width="0.3"/><circle cx="130.6" cy="630.24" r="0.62" fill="none" stroke="#f3a86a" stroke-width="0.3"/><circle cx="133.76" cy="630.82" r="0.62" fill="none" stroke="#f3a86a" stroke-width="0.3"/><circle cx="132.98" cy="631.48" r="0.62" fill="none" stroke="#f3a86a" stroke-width="0.3"/><circle cx="135.15" cy="635.34" r="0.62" fill="none" stroke="#f3a86a" stroke-width="0.3"/><circle cx="132.63" cy="629.17" r="0.62" fill="none" stroke="#f3a86a" stroke-width="0.3"/><circle cx="136.3" cy="626.43" r="0.62" fill="none" stroke="#f3a86a" stroke-width="0.3"/><circle cx="131.42" cy="627.32" r="0.62" fill="none" stroke="#f3a86a" stroke-width="0.3"/><circle cx="130.91" cy="633.29" r="0.62" fill="none" stroke="#f3a86a" stroke-width="0.3"/><circle cx="136.2" cy="627.58" r="0.62" fill="none" stroke="#f3a86a" stroke-width="0.3"/><circle cx="132.45" cy="624.41" r="0.62" fill="none" stroke="#f3a86a" stroke-width="0.3"/>
<circle cx="131.92" cy="638.37" r="0.62" fill="none" stroke="#f3a86a" stroke-width="0.3"/><circle cx="134.94" cy="635.96" r="0.62" fill="none" stroke="#f3a86a" stroke-width="0.3"/><circle cx="131.88" cy="636.06" r="0.62" fill="none" stroke="#f3a86a" stroke-width="0.3"/><circle cx="133.3" cy="635.41" r="0.62" fill="none" stroke="#f3a86a" stroke-width="0.3"/><circle cx="132.77" cy="636.8" r="0.62" fill="none" stroke="#f3a86a" stroke-width="0.3"/><circle cx="133.45" cy="639.09" r="0.62" fill="none" stroke="#f3a86a" stroke-width="0.3"/><circle cx="133.76" cy="640.04" r="0.62" fill="none" stroke="#f3a86a" stroke-width="0.3"/><circle cx="133.42" cy="639.22" r="0.62" fill="none" stroke="#f3a86a" stroke-width="0.3"/><circle cx="131.16" cy="639.82" r="0.62" fill="none" stroke="#f3a86a" stroke-width="0.3"/><circle cx="131.65" cy="641.18" r="0.62" fill="none" stroke="#f3a86a" stroke-width="0.3"/><circle cx="132.84" cy="639.88" r="0.62" fill="none" stroke="#f3a86a" stroke-width="0.3"/><circle cx="130.39" cy="639.33" r="0.62" fill="none" stroke="#f3a86a" stroke-width="0.3"/><circle cx="133.23" cy="635.62" r="0.62" fill="none" stroke="#f3a86a" stroke-width="0.3"/><circle cx="130.83" cy="638.52" r="0.62" fill="none" stroke="#f3a86a" stroke-width="0.3"/><circle cx="133.02" cy="634.97" r="0.62" fill="none" stroke="#f3a86a" stroke-width="0.3"/><circle cx="133.49" cy="639.12" r="0.62" fill="none" stroke="#f3a86a" stroke-width="0.3"/>
<circle cx="128.12" cy="643.65" r="0.62" fill="none" stroke="#4a78c0" stroke-width="0.3"/><circle cx="129.92" cy="643.23" r="0.62" fill="none" stroke="#4a78c0" stroke-width="0.3"/><circle cx="128.82" cy="644.11" r="0.62" fill="none" stroke="#4a78c0" stroke-width="0.3"/><circle cx="126.87" cy="648.35" r="0.62" fill="none" stroke="#4a78c0" stroke-width="0.3"/><circle cx="130.87" cy="642.21" r="0.62" fill="none" stroke="#4a78c0" stroke-width="0.3"/><circle cx="130.02" cy="642.59" r="0.62" fill="none" stroke="#4a78c0" stroke-width="0.3"/><circle cx="129.08" cy="645.23" r="0.62" fill="none" stroke="#4a78c0" stroke-width="0.3"/><circle cx="128.29" cy="643.28" r="0.62" fill="none" stroke="#4a78c0" stroke-width="0.3"/><circle cx="129.5" cy="645.64" r="0.62" fill="none" stroke="#4a78c0" stroke-width="0.3"/><circle cx="128.43" cy="644.8" r="0.62" fill="none" stroke="#4a78c0" stroke-width="0.3"/><circle cx="126.03" cy="649.51" r="0.62" fill="none" stroke="#4a78c0" stroke-width="0.3"/><circle cx="130.52" cy="642.1" r="0.62" fill="none" stroke="#4a78c0" stroke-width="0.3"/>
<rect x="84.9" y="630.2" width="4.1" height="21.5" fill="url(#cbar)"/>
<text class="s" x="90" y="633.5" font-size="4.8" fill="#231f20" textLength="10.1" lengthAdjust="spacingAndGlyphs">High</text>
<text class="s" x="90" y="651" font-size="4.8" fill="#231f20" textLength="9" lengthAdjust="spacingAndGlyphs">Low</text>
<text x="86" y="605.5" font-size="6.5" fill="#1a1a1a" textLength="13.6" lengthAdjust="spacingAndGlyphs">Gja5</text>
<rect x="83.7" y="598.9" width="55.2" height="53.3" rx="0.6" fill="none" stroke="#231f20" stroke-width="1.15"/>
<circle cx="151.92" cy="611.6" r="0.62" fill="none" stroke="#4a78c0" stroke-width="0.3"/><circle cx="149.21" cy="612.05" r="0.62" fill="none" stroke="#4a78c0" stroke-width="0.3"/><circle cx="150.03" cy="614.54" r="0.62" fill="none" stroke="#4a78c0" stroke-width="0.3"/><circle cx="151" cy="609.83" r="0.62" fill="none" stroke="#4a78c0" stroke-width="0.3"/><circle cx="150.67" cy="609.64" r="0.62" fill="none" stroke="#4a78c0" stroke-width="0.3"/><circle cx="151.26" cy="610.96" r="0.62" fill="none" stroke="#4a78c0" stroke-width="0.3"/><circle cx="152.06" cy="610.31" r="0.62" fill="none" stroke="#4a78c0" stroke-width="0.3"/><circle cx="150.81" cy="610.03" r="0.62" fill="none" stroke="#4a78c0" stroke-width="0.3"/><circle cx="151.66" cy="613.01" r="0.62" fill="none" stroke="#4a78c0" stroke-width="0.3"/><circle cx="151.16" cy="609.34" r="0.62" fill="none" stroke="#4a78c0" stroke-width="0.3"/><circle cx="151.84" cy="612.11" r="0.62" fill="none" stroke="#4a78c0" stroke-width="0.3"/><circle cx="149.15" cy="613.08" r="0.62" fill="none" stroke="#4a78c0" stroke-width="0.3"/><circle cx="152.05" cy="610.92" r="0.62" fill="none" stroke="#4a78c0" stroke-width="0.3"/><circle cx="150.69" cy="614.58" r="0.62" fill="none" stroke="#4a78c0" stroke-width="0.3"/><circle cx="150.62" cy="614.09" r="0.62" fill="none" stroke="#4a78c0" stroke-width="0.3"/>
<circle cx="149.41" cy="619.12" r="0.62" fill="none" stroke="#4a78c0" stroke-width="0.3"/><circle cx="148.61" cy="617.3" r="0.62" fill="none" stroke="#4a78c0" stroke-width="0.3"/><circle cx="149.04" cy="617.32" r="0.62" fill="none" stroke="#4a78c0" stroke-width="0.3"/><circle cx="149.12" cy="620.07" r="0.62" fill="none" stroke="#4a78c0" stroke-width="0.3"/><circle cx="148.46" cy="622.33" r="0.62" fill="none" stroke="#4a78c0" stroke-width="0.3"/><circle cx="149.9" cy="619.92" r="0.62" fill="none" stroke="#4a78c0" stroke-width="0.3"/><circle cx="149.19" cy="620.89" r="0.62" fill="none" stroke="#4a78c0" stroke-width="0.3"/><circle cx="148.9" cy="619.09" r="0.62" fill="none" stroke="#4a78c0" stroke-width="0.3"/><circle cx="150.07" cy="618.69" r="0.62" fill="none" stroke="#4a78c0" stroke-width="0.3"/><circle cx="149.39" cy="614.78" r="0.62" fill="none" stroke="#4a78c0" stroke-width="0.3"/><circle cx="148.33" cy="616.96" r="0.62" fill="none" stroke="#4a78c0" stroke-width="0.3"/><circle cx="149.39" cy="620.6" r="0.62" fill="none" stroke="#4a78c0" stroke-width="0.3"/><circle cx="150.5" cy="616.93" r="0.62" fill="none" stroke="#4a78c0" stroke-width="0.3"/><circle cx="151.27" cy="616.79" r="0.62" fill="none" stroke="#4a78c0" stroke-width="0.3"/><circle cx="150.85" cy="614.99" r="0.62" fill="none" stroke="#4a78c0" stroke-width="0.3"/>
<circle cx="191.91" cy="605.55" r="0.62" fill="none" stroke="#4a78c0" stroke-width="0.3"/><circle cx="191.89" cy="606.78" r="0.62" fill="none" stroke="#4a78c0" stroke-width="0.3"/><circle cx="191.78" cy="605.14" r="0.62" fill="none" stroke="#4a78c0" stroke-width="0.3"/><circle cx="189.79" cy="604.8" r="0.62" fill="none" stroke="#4a78c0" stroke-width="0.3"/><circle cx="191.88" cy="602.4" r="0.62" fill="none" stroke="#4a78c0" stroke-width="0.3"/><circle cx="192.54" cy="604.51" r="0.62" fill="none" stroke="#4a78c0" stroke-width="0.3"/><circle cx="190.01" cy="602.29" r="0.62" fill="none" stroke="#4a78c0" stroke-width="0.3"/><circle cx="191.84" cy="607.24" r="0.62" fill="none" stroke="#4a78c0" stroke-width="0.3"/><circle cx="192.4" cy="605.05" r="0.62" fill="none" stroke="#4a78c0" stroke-width="0.3"/><circle cx="189.91" cy="601.8" r="0.62" fill="none" stroke="#4a78c0" stroke-width="0.3"/><circle cx="191.54" cy="604.76" r="0.62" fill="none" stroke="#4a78c0" stroke-width="0.3"/><circle cx="191.41" cy="603.47" r="0.62" fill="none" stroke="#4a78c0" stroke-width="0.3"/><circle cx="191.81" cy="602.22" r="0.62" fill="none" stroke="#4a78c0" stroke-width="0.3"/><circle cx="189.82" cy="602.97" r="0.62" fill="none" stroke="#4a78c0" stroke-width="0.3"/><circle cx="191.73" cy="607.24" r="0.62" fill="none" stroke="#4a78c0" stroke-width="0.3"/>
<circle cx="191.85" cy="613.62" r="0.62" fill="none" stroke="#f3a86a" stroke-width="0.3"/><circle cx="192.19" cy="610.04" r="0.62" fill="none" stroke="#f3a86a" stroke-width="0.3"/><circle cx="191.55" cy="613.11" r="0.62" fill="none" stroke="#f3a86a" stroke-width="0.3"/><circle cx="192.46" cy="611.63" r="0.62" fill="none" stroke="#f3a86a" stroke-width="0.3"/><circle cx="192.12" cy="612.66" r="0.62" fill="none" stroke="#f3a86a" stroke-width="0.3"/><circle cx="192.57" cy="610.62" r="0.62" fill="none" stroke="#f3a86a" stroke-width="0.3"/><circle cx="192" cy="613.35" r="0.62" fill="none" stroke="#f3a86a" stroke-width="0.3"/><circle cx="192.49" cy="613.23" r="0.62" fill="none" stroke="#f3a86a" stroke-width="0.3"/><circle cx="191.1" cy="609.97" r="0.62" fill="none" stroke="#f3a86a" stroke-width="0.3"/>
<circle cx="195.94" cy="631.83" r="0.62" fill="none" stroke="#ee7f45" stroke-width="0.3"/><circle cx="196.54" cy="632.94" r="0.62" fill="none" stroke="#ee7f45" stroke-width="0.3"/><circle cx="192.43" cy="629.55" r="0.62" fill="none" stroke="#ee7f45" stroke-width="0.3"/><circle cx="193.93" cy="634.38" r="0.62" fill="none" stroke="#ee7f45" stroke-width="0.3"/><circle cx="196.1" cy="635.49" r="0.62" fill="none" stroke="#ee7f45" stroke-width="0.3"/><circle cx="193.43" cy="632.36" r="0.62" fill="none" stroke="#ee7f45" stroke-width="0.3"/><circle cx="197.73" cy="629.72" r="0.62" fill="none" stroke="#ee7f45" stroke-width="0.3"/><circle cx="192.96" cy="631.28" r="0.62" fill="none" stroke="#ee7f45" stroke-width="0.3"/><circle cx="192.54" cy="633.11" r="0.62" fill="none" stroke="#ee7f45" stroke-width="0.3"/><circle cx="196.79" cy="634.09" r="0.62" fill="none" stroke="#ee7f45" stroke-width="0.3"/><circle cx="197.32" cy="632.77" r="0.62" fill="none" stroke="#ee7f45" stroke-width="0.3"/><circle cx="195.93" cy="635.98" r="0.62" fill="none" stroke="#ee7f45" stroke-width="0.3"/><circle cx="194.58" cy="629.32" r="0.62" fill="none" stroke="#ee7f45" stroke-width="0.3"/><circle cx="196.46" cy="633.12" r="0.62" fill="none" stroke="#ee7f45" stroke-width="0.3"/><circle cx="192.64" cy="628.5" r="0.62" fill="none" stroke="#ee7f45" stroke-width="0.3"/><circle cx="195.78" cy="628.3" r="0.62" fill="none" stroke="#ee7f45" stroke-width="0.3"/><circle cx="192.74" cy="631.02" r="0.62" fill="none" stroke="#ee7f45" stroke-width="0.3"/><circle cx="194.42" cy="632.24" r="0.62" fill="none" stroke="#ee7f45" stroke-width="0.3"/><circle cx="195.05" cy="635.91" r="0.62" fill="none" stroke="#ee7f45" stroke-width="0.3"/><circle cx="197.01" cy="632.86" r="0.62" fill="none" stroke="#ee7f45" stroke-width="0.3"/><circle cx="194.27" cy="624.85" r="0.62" fill="none" stroke="#ee7f45" stroke-width="0.3"/><circle cx="195.36" cy="628" r="0.62" fill="none" stroke="#ee7f45" stroke-width="0.3"/><circle cx="196.73" cy="635.42" r="0.62" fill="none" stroke="#ee7f45" stroke-width="0.3"/><circle cx="194.74" cy="627.14" r="0.62" fill="none" stroke="#ee7f45" stroke-width="0.3"/><circle cx="195.26" cy="632.46" r="0.62" fill="none" stroke="#ee7f45" stroke-width="0.3"/><circle cx="197.31" cy="630.99" r="0.62" fill="none" stroke="#ee7f45" stroke-width="0.3"/><circle cx="194.13" cy="627.71" r="0.62" fill="none" stroke="#ee7f45" stroke-width="0.3"/><circle cx="197.75" cy="630.27" r="0.62" fill="none" stroke="#ee7f45" stroke-width="0.3"/><circle cx="192.4" cy="628.71" r="0.62" fill="none" stroke="#ee7f45" stroke-width="0.3"/><circle cx="193.51" cy="631.96" r="0.62" fill="none" stroke="#ee7f45" stroke-width="0.3"/><circle cx="192.66" cy="626.78" r="0.62" fill="none" stroke="#ee7f45" stroke-width="0.3"/><circle cx="192.67" cy="629.46" r="0.62" fill="none" stroke="#ee7f45" stroke-width="0.3"/><circle cx="198.66" cy="630.61" r="0.62" fill="none" stroke="#ee7f45" stroke-width="0.3"/><circle cx="194.33" cy="635.49" r="0.62" fill="none" stroke="#ee7f45" stroke-width="0.3"/><circle cx="192.73" cy="627.88" r="0.62" fill="none" stroke="#ee7f45" stroke-width="0.3"/><circle cx="197.3" cy="628.19" r="0.62" fill="none" stroke="#ee7f45" stroke-width="0.3"/><circle cx="195.2" cy="628.36" r="0.62" fill="none" stroke="#ee7f45" stroke-width="0.3"/><circle cx="195.82" cy="624.1" r="0.62" fill="none" stroke="#ee7f45" stroke-width="0.3"/><circle cx="195.03" cy="629.51" r="0.62" fill="none" stroke="#ee7f45" stroke-width="0.3"/><circle cx="192.73" cy="626.89" r="0.62" fill="none" stroke="#ee7f45" stroke-width="0.3"/>
<circle cx="195.41" cy="640.38" r="0.62" fill="none" stroke="#ee7f45" stroke-width="0.3"/><circle cx="195.56" cy="635.49" r="0.62" fill="none" stroke="#ee7f45" stroke-width="0.3"/><circle cx="192.57" cy="639.46" r="0.62" fill="none" stroke="#ee7f45" stroke-width="0.3"/><circle cx="193.39" cy="638.48" r="0.62" fill="none" stroke="#ee7f45" stroke-width="0.3"/><circle cx="195.32" cy="640" r="0.62" fill="none" stroke="#ee7f45" stroke-width="0.3"/><circle cx="196.19" cy="635.72" r="0.62" fill="none" stroke="#ee7f45" stroke-width="0.3"/><circle cx="192.34" cy="640.08" r="0.62" fill="none" stroke="#ee7f45" stroke-width="0.3"/><circle cx="193.82" cy="641.07" r="0.62" fill="none" stroke="#ee7f45" stroke-width="0.3"/><circle cx="191.46" cy="638.84" r="0.62" fill="none" stroke="#ee7f45" stroke-width="0.3"/><circle cx="192.04" cy="640.68" r="0.62" fill="none" stroke="#ee7f45" stroke-width="0.3"/><circle cx="194.43" cy="636.55" r="0.62" fill="none" stroke="#ee7f45" stroke-width="0.3"/><circle cx="194.59" cy="636.76" r="0.62" fill="none" stroke="#ee7f45" stroke-width="0.3"/><circle cx="196.03" cy="636.31" r="0.62" fill="none" stroke="#ee7f45" stroke-width="0.3"/><circle cx="192.65" cy="636.99" r="0.62" fill="none" stroke="#ee7f45" stroke-width="0.3"/><circle cx="192.49" cy="636.29" r="0.62" fill="none" stroke="#ee7f45" stroke-width="0.3"/><circle cx="195.68" cy="636.22" r="0.62" fill="none" stroke="#ee7f45" stroke-width="0.3"/>
<circle cx="187.06" cy="648.67" r="0.62" fill="none" stroke="#f3a86a" stroke-width="0.3"/><circle cx="189.39" cy="644.34" r="0.62" fill="none" stroke="#f3a86a" stroke-width="0.3"/><circle cx="187.96" cy="647.27" r="0.62" fill="none" stroke="#f3a86a" stroke-width="0.3"/><circle cx="188.12" cy="647.61" r="0.62" fill="none" stroke="#f3a86a" stroke-width="0.3"/><circle cx="188.86" cy="645.07" r="0.62" fill="none" stroke="#f3a86a" stroke-width="0.3"/><circle cx="190.77" cy="644.52" r="0.62" fill="none" stroke="#f3a86a" stroke-width="0.3"/><circle cx="189.59" cy="645.02" r="0.62" fill="none" stroke="#f3a86a" stroke-width="0.3"/><circle cx="187.67" cy="649.55" r="0.62" fill="none" stroke="#f3a86a" stroke-width="0.3"/><circle cx="188.83" cy="645.63" r="0.62" fill="none" stroke="#f3a86a" stroke-width="0.3"/><circle cx="189" cy="645.46" r="0.62" fill="none" stroke="#f3a86a" stroke-width="0.3"/><circle cx="192.19" cy="642.55" r="0.62" fill="none" stroke="#f3a86a" stroke-width="0.3"/><circle cx="188.73" cy="647.16" r="0.62" fill="none" stroke="#f3a86a" stroke-width="0.3"/>
<rect x="146.4" y="630.2" width="4.1" height="21.5" fill="url(#cbar)"/>
<text class="s" x="151.5" y="633.5" font-size="4.8" fill="#231f20" textLength="10.1" lengthAdjust="spacingAndGlyphs">High</text>
<text class="s" x="151.5" y="651" font-size="4.8" fill="#231f20" textLength="9" lengthAdjust="spacingAndGlyphs">Low</text>
<text x="147.5" y="605.5" font-size="6.5" font-style="italic" fill="#1a1a1a" textLength="10.4" lengthAdjust="spacingAndGlyphs">Vwf</text>
<rect x="145.2" y="598.9" width="55.9" height="53.3" rx="0.6" fill="none" stroke="#231f20" stroke-width="1.15"/>
<circle cx="23.94" cy="673.86" r="0.62" fill="none" stroke="#4a78c0" stroke-width="0.3"/><circle cx="24" cy="676.03" r="0.62" fill="none" stroke="#4a78c0" stroke-width="0.3"/><circle cx="22.83" cy="673.54" r="0.62" fill="none" stroke="#4a78c0" stroke-width="0.3"/><circle cx="22.99" cy="672.72" r="0.62" fill="none" stroke="#4a78c0" stroke-width="0.3"/><circle cx="23.67" cy="673.38" r="0.62" fill="none" stroke="#4a78c0" stroke-width="0.3"/><circle cx="23.89" cy="676.98" r="0.62" fill="none" stroke="#4a78c0" stroke-width="0.3"/><circle cx="23.74" cy="674" r="0.62" fill="none" stroke="#4a78c0" stroke-width="0.3"/><circle cx="24.04" cy="677.12" r="0.62" fill="none" stroke="#4a78c0" stroke-width="0.3"/><circle cx="24.21" cy="671.42" r="0.62" fill="none" stroke="#4a78c0" stroke-width="0.3"/><circle cx="23.6" cy="675.5" r="0.62" fill="none" stroke="#4a78c0" stroke-width="0.3"/><circle cx="24.5" cy="673.15" r="0.62" fill="none" stroke="#4a78c0" stroke-width="0.3"/><circle cx="25.89" cy="672.86" r="0.62" fill="none" stroke="#4a78c0" stroke-width="0.3"/><circle cx="23.75" cy="676.24" r="0.62" fill="none" stroke="#4a78c0" stroke-width="0.3"/><circle cx="23.36" cy="672.56" r="0.62" fill="none" stroke="#4a78c0" stroke-width="0.3"/><circle cx="24.06" cy="674.35" r="0.62" fill="none" stroke="#4a78c0" stroke-width="0.3"/>
<circle cx="21.99" cy="679.85" r="0.62" fill="none" stroke="#4a78c0" stroke-width="0.3"/><circle cx="22.89" cy="677.36" r="0.62" fill="none" stroke="#4a78c0" stroke-width="0.3"/><circle cx="21.74" cy="682.61" r="0.62" fill="none" stroke="#4a78c0" stroke-width="0.3"/><circle cx="24.05" cy="678.57" r="0.62" fill="none" stroke="#4a78c0" stroke-width="0.3"/><circle cx="23.82" cy="681.63" r="0.62" fill="none" stroke="#4a78c0" stroke-width="0.3"/><circle cx="22.34" cy="681.4" r="0.62" fill="none" stroke="#4a78c0" stroke-width="0.3"/><circle cx="22.39" cy="678.29" r="0.62" fill="none" stroke="#4a78c0" stroke-width="0.3"/><circle cx="24.25" cy="680.11" r="0.62" fill="none" stroke="#4a78c0" stroke-width="0.3"/><circle cx="23.61" cy="681.05" r="0.62" fill="none" stroke="#4a78c0" stroke-width="0.3"/><circle cx="23.99" cy="680.54" r="0.62" fill="none" stroke="#4a78c0" stroke-width="0.3"/><circle cx="23.76" cy="677.29" r="0.62" fill="none" stroke="#4a78c0" stroke-width="0.3"/><circle cx="23.48" cy="681.45" r="0.62" fill="none" stroke="#4a78c0" stroke-width="0.3"/><circle cx="23.68" cy="678.16" r="0.62" fill="none" stroke="#4a78c0" stroke-width="0.3"/><circle cx="21.17" cy="681.67" r="0.62" fill="none" stroke="#4a78c0" stroke-width="0.3"/><circle cx="22.55" cy="681.61" r="0.62" fill="none" stroke="#4a78c0" stroke-width="0.3"/>
<circle cx="65.87" cy="667.82" r="0.62" fill="none" stroke="#4a78c0" stroke-width="0.3"/><circle cx="62.85" cy="667.78" r="0.62" fill="none" stroke="#4a78c0" stroke-width="0.3"/><circle cx="64.8" cy="664.63" r="0.62" fill="none" stroke="#4a78c0" stroke-width="0.3"/><circle cx="65.14" cy="666.45" r="0.62" fill="none" stroke="#4a78c0" stroke-width="0.3"/><circle cx="65.58" cy="666" r="0.62" fill="none" stroke="#4a78c0" stroke-width="0.3"/><circle cx="62.62" cy="664.7" r="0.62" fill="none" stroke="#4a78c0" stroke-width="0.3"/><circle cx="63.15" cy="663.61" r="0.62" fill="none" stroke="#4a78c0" stroke-width="0.3"/><circle cx="64.09" cy="667.41" r="0.62" fill="none" stroke="#4a78c0" stroke-width="0.3"/><circle cx="64.33" cy="664.1" r="0.62" fill="none" stroke="#4a78c0" stroke-width="0.3"/><circle cx="62.91" cy="666.66" r="0.62" fill="none" stroke="#4a78c0" stroke-width="0.3"/><circle cx="64.8" cy="666.01" r="0.62" fill="none" stroke="#4a78c0" stroke-width="0.3"/><circle cx="64.98" cy="669.38" r="0.62" fill="none" stroke="#4a78c0" stroke-width="0.3"/><circle cx="62.65" cy="665.08" r="0.62" fill="none" stroke="#4a78c0" stroke-width="0.3"/><circle cx="64.22" cy="666.76" r="0.62" fill="none" stroke="#4a78c0" stroke-width="0.3"/><circle cx="65.69" cy="666.64" r="0.62" fill="none" stroke="#4a78c0" stroke-width="0.3"/>
<circle cx="65.75" cy="673.68" r="0.62" fill="none" stroke="#4a78c0" stroke-width="0.3"/><circle cx="66.69" cy="677.05" r="0.62" fill="none" stroke="#4a78c0" stroke-width="0.3"/><circle cx="64.55" cy="671.25" r="0.62" fill="none" stroke="#4a78c0" stroke-width="0.3"/><circle cx="64.93" cy="673.32" r="0.62" fill="none" stroke="#4a78c0" stroke-width="0.3"/><circle cx="65.87" cy="672.32" r="0.62" fill="none" stroke="#4a78c0" stroke-width="0.3"/><circle cx="66.07" cy="675.51" r="0.62" fill="none" stroke="#4a78c0" stroke-width="0.3"/><circle cx="65.79" cy="672.95" r="0.62" fill="none" stroke="#4a78c0" stroke-width="0.3"/><circle cx="65.13" cy="675.63" r="0.62" fill="none" stroke="#4a78c0" stroke-width="0.3"/><circle cx="66.35" cy="674.95" r="0.62" fill="none" stroke="#4a78c0" stroke-width="0.3"/>
<circle cx="67.92" cy="693.63" r="0.62" fill="none" stroke="#4a78c0" stroke-width="0.3"/><circle cx="70.48" cy="688.87" r="0.62" fill="none" stroke="#4a78c0" stroke-width="0.3"/><circle cx="68.29" cy="689.65" r="0.62" fill="none" stroke="#4a78c0" stroke-width="0.3"/><circle cx="70.33" cy="690.82" r="0.62" fill="none" stroke="#4a78c0" stroke-width="0.3"/><circle cx="67.67" cy="687.68" r="0.62" fill="none" stroke="#4a78c0" stroke-width="0.3"/><circle cx="71.49" cy="692.12" r="0.62" fill="none" stroke="#4a78c0" stroke-width="0.3"/><circle cx="66.17" cy="690.67" r="0.62" fill="none" stroke="#4a78c0" stroke-width="0.3"/><circle cx="69.38" cy="689.2" r="0.62" fill="none" stroke="#4a78c0" stroke-width="0.3"/><circle cx="66.13" cy="691.91" r="0.62" fill="none" stroke="#4a78c0" stroke-width="0.3"/><circle cx="68.84" cy="686.73" r="0.62" fill="none" stroke="#4a78c0" stroke-width="0.3"/><circle cx="70.89" cy="686.99" r="0.62" fill="none" stroke="#4a78c0" stroke-width="0.3"/><circle cx="69.34" cy="686.51" r="0.62" fill="none" stroke="#4a78c0" stroke-width="0.3"/><circle cx="72.08" cy="692.63" r="0.62" fill="none" stroke="#4a78c0" stroke-width="0.3"/><circle cx="68.53" cy="688.92" r="0.62" fill="none" stroke="#4a78c0" stroke-width="0.3"/><circle cx="68.82" cy="698.06" r="0.62" fill="none" stroke="#4a78c0" stroke-width="0.3"/><circle cx="68.51" cy="688.1" r="0.62" fill="none" stroke="#4a78c0" stroke-width="0.3"/><circle cx="68.61" cy="697.33" r="0.62" fill="none" stroke="#4a78c0" stroke-width="0.3"/><circle cx="67.91" cy="693.6" r="0.62" fill="none" stroke="#4a78c0" stroke-width="0.3"/><circle cx="71.76" cy="689.79" r="0.62" fill="none" stroke="#4a78c0" stroke-width="0.3"/><circle cx="70.89" cy="692.39" r="0.62" fill="none" stroke="#4a78c0" stroke-width="0.3"/><circle cx="71.8" cy="691.61" r="0.62" fill="none" stroke="#4a78c0" stroke-width="0.3"/><circle cx="68.13" cy="697.3" r="0.62" fill="none" stroke="#4a78c0" stroke-width="0.3"/><circle cx="69.3" cy="691.93" r="0.62" fill="none" stroke="#4a78c0" stroke-width="0.3"/><circle cx="67.17" cy="694.99" r="0.62" fill="none" stroke="#4a78c0" stroke-width="0.3"/><circle cx="67.16" cy="691.43" r="0.62" fill="none" stroke="#4a78c0" stroke-width="0.3"/><circle cx="70.48" cy="693.35" r="0.62" fill="none" stroke="#4a78c0" stroke-width="0.3"/><circle cx="66.52" cy="687.91" r="0.62" fill="none" stroke="#4a78c0" stroke-width="0.3"/><circle cx="69.97" cy="694.94" r="0.62" fill="none" stroke="#4a78c0" stroke-width="0.3"/><circle cx="66.54" cy="687.46" r="0.62" fill="none" stroke="#4a78c0" stroke-width="0.3"/><circle cx="66.05" cy="691.06" r="0.62" fill="none" stroke="#4a78c0" stroke-width="0.3"/><circle cx="69.37" cy="696.58" r="0.62" fill="none" stroke="#4a78c0" stroke-width="0.3"/><circle cx="66.38" cy="694.36" r="0.62" fill="none" stroke="#4a78c0" stroke-width="0.3"/><circle cx="66.06" cy="692.8" r="0.62" fill="none" stroke="#4a78c0" stroke-width="0.3"/><circle cx="67.21" cy="689.95" r="0.62" fill="none" stroke="#4a78c0" stroke-width="0.3"/><circle cx="65.61" cy="694.6" r="0.62" fill="none" stroke="#4a78c0" stroke-width="0.3"/><circle cx="66.06" cy="695.19" r="0.62" fill="none" stroke="#4a78c0" stroke-width="0.3"/><circle cx="67.63" cy="693.03" r="0.62" fill="none" stroke="#4a78c0" stroke-width="0.3"/><circle cx="69.75" cy="691.8" r="0.62" fill="none" stroke="#4a78c0" stroke-width="0.3"/><circle cx="67.43" cy="689.66" r="0.62" fill="none" stroke="#4a78c0" stroke-width="0.3"/><circle cx="68.32" cy="690.76" r="0.62" fill="none" stroke="#4a78c0" stroke-width="0.3"/>
<circle cx="67.22" cy="702.02" r="0.62" fill="none" stroke="#4a78c0" stroke-width="0.3"/><circle cx="70.04" cy="700.15" r="0.62" fill="none" stroke="#4a78c0" stroke-width="0.3"/><circle cx="68.44" cy="701.97" r="0.62" fill="none" stroke="#4a78c0" stroke-width="0.3"/><circle cx="65.9" cy="701.88" r="0.62" fill="none" stroke="#4a78c0" stroke-width="0.3"/><circle cx="68.74" cy="699.61" r="0.62" fill="none" stroke="#4a78c0" stroke-width="0.3"/><circle cx="68.43" cy="700.73" r="0.62" fill="none" stroke="#4a78c0" stroke-width="0.3"/><circle cx="67.96" cy="701.32" r="0.62" fill="none" stroke="#4a78c0" stroke-width="0.3"/><circle cx="69.89" cy="698.86" r="0.62" fill="none" stroke="#4a78c0" stroke-width="0.3"/><circle cx="69.07" cy="697.15" r="0.62" fill="none" stroke="#4a78c0" stroke-width="0.3"/><circle cx="67.79" cy="702.46" r="0.62" fill="none" stroke="#4a78c0" stroke-width="0.3"/><circle cx="67.63" cy="700.07" r="0.62" fill="none" stroke="#4a78c0" stroke-width="0.3"/><circle cx="66.7" cy="697.36" r="0.62" fill="none" stroke="#4a78c0" stroke-width="0.3"/><circle cx="65.1" cy="701.36" r="0.62" fill="none" stroke="#4a78c0" stroke-width="0.3"/><circle cx="68.47" cy="699.81" r="0.62" fill="none" stroke="#4a78c0" stroke-width="0.3"/><circle cx="68.97" cy="698.88" r="0.62" fill="none" stroke="#4a78c0" stroke-width="0.3"/><circle cx="67.83" cy="700.99" r="0.62" fill="none" stroke="#4a78c0" stroke-width="0.3"/>
<circle cx="63.77" cy="707.77" r="0.62" fill="none" stroke="#f3a86a" stroke-width="0.3"/><circle cx="64.01" cy="705.63" r="0.62" fill="none" stroke="#f3a86a" stroke-width="0.3"/><circle cx="64.41" cy="706.63" r="0.62" fill="none" stroke="#f3a86a" stroke-width="0.3"/><circle cx="62.15" cy="709.77" r="0.62" fill="none" stroke="#f3a86a" stroke-width="0.3"/><circle cx="62.13" cy="708.93" r="0.62" fill="none" stroke="#f3a86a" stroke-width="0.3"/><circle cx="63.33" cy="704.71" r="0.62" fill="none" stroke="#f3a86a" stroke-width="0.3"/><circle cx="65.79" cy="704.82" r="0.62" fill="none" stroke="#f3a86a" stroke-width="0.3"/><circle cx="65.81" cy="704.36" r="0.62" fill="none" stroke="#f3a86a" stroke-width="0.3"/><circle cx="63.41" cy="706.81" r="0.62" fill="none" stroke="#f3a86a" stroke-width="0.3"/><circle cx="64.05" cy="707.62" r="0.62" fill="none" stroke="#f3a86a" stroke-width="0.3"/><circle cx="65.63" cy="703.32" r="0.62" fill="none" stroke="#f3a86a" stroke-width="0.3"/><circle cx="62.58" cy="710.13" r="0.62" fill="none" stroke="#f3a86a" stroke-width="0.3"/>
<rect x="19.8" y="692.4" width="4.1" height="21.5" fill="url(#cbar)"/>
<text class="s" x="24.9" y="695.7" font-size="4.8" fill="#231f20" textLength="10.1" lengthAdjust="spacingAndGlyphs">High</text>
<text class="s" x="24.9" y="713.2" font-size="4.8" fill="#231f20" textLength="9" lengthAdjust="spacingAndGlyphs">Low</text>
<text x="20.9" y="667.5" font-size="6.5" font-style="italic" fill="#1a1a1a" textLength="14.2" lengthAdjust="spacingAndGlyphs">Gfi1b</text>
<rect x="18.6" y="660.9" width="55.5" height="53.5" rx="0.6" fill="none" stroke="#231f20" stroke-width="1.15"/>
<circle cx="89.06" cy="676.33" r="0.62" fill="none" stroke="#ee7f45" stroke-width="0.3"/><circle cx="89.25" cy="675.5" r="0.62" fill="none" stroke="#ee7f45" stroke-width="0.3"/><circle cx="90.17" cy="675.01" r="0.62" fill="none" stroke="#ee7f45" stroke-width="0.3"/><circle cx="88.26" cy="672.43" r="0.62" fill="none" stroke="#ee7f45" stroke-width="0.3"/><circle cx="88.31" cy="672.66" r="0.62" fill="none" stroke="#ee7f45" stroke-width="0.3"/><circle cx="88.55" cy="671.61" r="0.62" fill="none" stroke="#ee7f45" stroke-width="0.3"/><circle cx="88.26" cy="675.33" r="0.62" fill="none" stroke="#ee7f45" stroke-width="0.3"/><circle cx="89.58" cy="671.49" r="0.62" fill="none" stroke="#ee7f45" stroke-width="0.3"/><circle cx="90.41" cy="672.09" r="0.62" fill="none" stroke="#ee7f45" stroke-width="0.3"/><circle cx="89.09" cy="673.48" r="0.62" fill="none" stroke="#ee7f45" stroke-width="0.3"/><circle cx="89.9" cy="670.53" r="0.62" fill="none" stroke="#ee7f45" stroke-width="0.3"/><circle cx="88.66" cy="675.72" r="0.62" fill="none" stroke="#ee7f45" stroke-width="0.3"/><circle cx="89.23" cy="676.57" r="0.62" fill="none" stroke="#ee7f45" stroke-width="0.3"/><circle cx="89.38" cy="675.88" r="0.62" fill="none" stroke="#ee7f45" stroke-width="0.3"/><circle cx="90.36" cy="673.56" r="0.62" fill="none" stroke="#ee7f45" stroke-width="0.3"/>
<circle cx="88.3" cy="681.8" r="0.62" fill="none" stroke="#ee7f45" stroke-width="0.3"/><circle cx="88.97" cy="682.39" r="0.62" fill="none" stroke="#ee7f45" stroke-width="0.3"/><circle cx="88.26" cy="677.81" r="0.62" fill="none" stroke="#ee7f45" stroke-width="0.3"/><circle cx="87.79" cy="678.23" r="0.62" fill="none" stroke="#ee7f45" stroke-width="0.3"/><circle cx="88.22" cy="682.74" r="0.62" fill="none" stroke="#ee7f45" stroke-width="0.3"/><circle cx="86.92" cy="680.5" r="0.62" fill="none" stroke="#ee7f45" stroke-width="0.3"/><circle cx="89.34" cy="679.49" r="0.62" fill="none" stroke="#ee7f45" stroke-width="0.3"/><circle cx="86.49" cy="681.03" r="0.62" fill="none" stroke="#ee7f45" stroke-width="0.3"/><circle cx="88.06" cy="677.37" r="0.62" fill="none" stroke="#ee7f45" stroke-width="0.3"/><circle cx="86.93" cy="679.58" r="0.62" fill="none" stroke="#ee7f45" stroke-width="0.3"/><circle cx="87.5" cy="684.22" r="0.62" fill="none" stroke="#ee7f45" stroke-width="0.3"/><circle cx="89.37" cy="679.16" r="0.62" fill="none" stroke="#ee7f45" stroke-width="0.3"/><circle cx="86.37" cy="680.98" r="0.62" fill="none" stroke="#ee7f45" stroke-width="0.3"/><circle cx="88.89" cy="680.37" r="0.62" fill="none" stroke="#ee7f45" stroke-width="0.3"/><circle cx="89.09" cy="680.18" r="0.62" fill="none" stroke="#ee7f45" stroke-width="0.3"/>
<circle cx="130.92" cy="667" r="0.62" fill="none" stroke="#4a78c0" stroke-width="0.3"/><circle cx="129.02" cy="664.14" r="0.62" fill="none" stroke="#4a78c0" stroke-width="0.3"/><circle cx="128.96" cy="666.12" r="0.62" fill="none" stroke="#4a78c0" stroke-width="0.3"/><circle cx="130.11" cy="664.38" r="0.62" fill="none" stroke="#4a78c0" stroke-width="0.3"/><circle cx="128.97" cy="668.87" r="0.62" fill="none" stroke="#4a78c0" stroke-width="0.3"/><circle cx="127.82" cy="667.03" r="0.62" fill="none" stroke="#4a78c0" stroke-width="0.3"/><circle cx="128.51" cy="667.85" r="0.62" fill="none" stroke="#4a78c0" stroke-width="0.3"/><circle cx="129.13" cy="663.56" r="0.62" fill="none" stroke="#4a78c0" stroke-width="0.3"/><circle cx="130" cy="665.7" r="0.62" fill="none" stroke="#4a78c0" stroke-width="0.3"/><circle cx="129.11" cy="669.14" r="0.62" fill="none" stroke="#4a78c0" stroke-width="0.3"/><circle cx="130.05" cy="664.98" r="0.62" fill="none" stroke="#4a78c0" stroke-width="0.3"/><circle cx="129.46" cy="663.72" r="0.62" fill="none" stroke="#4a78c0" stroke-width="0.3"/><circle cx="128.84" cy="663.53" r="0.62" fill="none" stroke="#4a78c0" stroke-width="0.3"/><circle cx="130.32" cy="669.36" r="0.62" fill="none" stroke="#4a78c0" stroke-width="0.3"/><circle cx="129.21" cy="663.16" r="0.62" fill="none" stroke="#4a78c0" stroke-width="0.3"/>
<circle cx="130.67" cy="674.14" r="0.62" fill="none" stroke="#9ab0cc" stroke-width="0.3"/><circle cx="129.99" cy="671.56" r="0.62" fill="none" stroke="#9ab0cc" stroke-width="0.3"/><circle cx="130.22" cy="674.07" r="0.62" fill="none" stroke="#9ab0cc" stroke-width="0.3"/><circle cx="130.25" cy="675.99" r="0.62" fill="none" stroke="#9ab0cc" stroke-width="0.3"/><circle cx="129.88" cy="672.77" r="0.62" fill="none" stroke="#9ab0cc" stroke-width="0.3"/><circle cx="129.63" cy="672.93" r="0.62" fill="none" stroke="#9ab0cc" stroke-width="0.3"/><circle cx="131.1" cy="672.53" r="0.62" fill="none" stroke="#9ab0cc" stroke-width="0.3"/><circle cx="129.72" cy="673.28" r="0.62" fill="none" stroke="#9ab0cc" stroke-width="0.3"/><circle cx="129.91" cy="672.07" r="0.62" fill="none" stroke="#9ab0cc" stroke-width="0.3"/>
<circle cx="135.16" cy="691.47" r="0.62" fill="none" stroke="#4a78c0" stroke-width="0.3"/><circle cx="132.61" cy="694.25" r="0.62" fill="none" stroke="#4a78c0" stroke-width="0.3"/><circle cx="133.33" cy="696.71" r="0.62" fill="none" stroke="#4a78c0" stroke-width="0.3"/><circle cx="132.6" cy="688.76" r="0.62" fill="none" stroke="#4a78c0" stroke-width="0.3"/><circle cx="136.08" cy="692.05" r="0.62" fill="none" stroke="#4a78c0" stroke-width="0.3"/><circle cx="132.85" cy="691.93" r="0.62" fill="none" stroke="#4a78c0" stroke-width="0.3"/><circle cx="136.2" cy="692.93" r="0.62" fill="none" stroke="#4a78c0" stroke-width="0.3"/><circle cx="133.46" cy="693.92" r="0.62" fill="none" stroke="#4a78c0" stroke-width="0.3"/><circle cx="134.75" cy="690.71" r="0.62" fill="none" stroke="#4a78c0" stroke-width="0.3"/><circle cx="133.65" cy="687.09" r="0.62" fill="none" stroke="#4a78c0" stroke-width="0.3"/><circle cx="133.23" cy="696.8" r="0.62" fill="none" stroke="#4a78c0" stroke-width="0.3"/><circle cx="132.67" cy="690.08" r="0.62" fill="none" stroke="#4a78c0" stroke-width="0.3"/><circle cx="134.54" cy="693.11" r="0.62" fill="none" stroke="#4a78c0" stroke-width="0.3"/><circle cx="131.73" cy="691.08" r="0.62" fill="none" stroke="#4a78c0" stroke-width="0.3"/><circle cx="131.07" cy="695.08" r="0.62" fill="none" stroke="#4a78c0" stroke-width="0.3"/><circle cx="130.97" cy="693.39" r="0.62" fill="none" stroke="#4a78c0" stroke-width="0.3"/><circle cx="132.33" cy="693.86" r="0.62" fill="none" stroke="#4a78c0" stroke-width="0.3"/><circle cx="130.77" cy="691.17" r="0.62" fill="none" stroke="#4a78c0" stroke-width="0.3"/><circle cx="131.72" cy="689.6" r="0.62" fill="none" stroke="#4a78c0" stroke-width="0.3"/><circle cx="135.21" cy="692.1" r="0.62" fill="none" stroke="#4a78c0" stroke-width="0.3"/><circle cx="136.07" cy="696.46" r="0.62" fill="none" stroke="#4a78c0" stroke-width="0.3"/><circle cx="134.47" cy="696.45" r="0.62" fill="none" stroke="#4a78c0" stroke-width="0.3"/><circle cx="131.73" cy="691.45" r="0.62" fill="none" stroke="#4a78c0" stroke-width="0.3"/><circle cx="132.59" cy="693.46" r="0.62" fill="none" stroke="#4a78c0" stroke-width="0.3"/><circle cx="132.83" cy="695.54" r="0.62" fill="none" stroke="#4a78c0" stroke-width="0.3"/><circle cx="132.91" cy="696.49" r="0.62" fill="none" stroke="#4a78c0" stroke-width="0.3"/><circle cx="135.43" cy="694.94" r="0.62" fill="none" stroke="#4a78c0" stroke-width="0.3"/><circle cx="133.76" cy="689" r="0.62" fill="none" stroke="#4a78c0" stroke-width="0.3"/><circle cx="131.74" cy="690.64" r="0.62" fill="none" stroke="#4a78c0" stroke-width="0.3"/><circle cx="136.9" cy="690.78" r="0.62" fill="none" stroke="#4a78c0" stroke-width="0.3"/><circle cx="132.16" cy="693.36" r="0.62" fill="none" stroke="#4a78c0" stroke-width="0.3"/><circle cx="133.4" cy="693.35" r="0.62" fill="none" stroke="#4a78c0" stroke-width="0.3"/><circle cx="133.74" cy="689.11" r="0.62" fill="none" stroke="#4a78c0" stroke-width="0.3"/><circle cx="135.15" cy="688.63" r="0.62" fill="none" stroke="#4a78c0" stroke-width="0.3"/><circle cx="133.84" cy="692.95" r="0.62" fill="none" stroke="#4a78c0" stroke-width="0.3"/><circle cx="133.65" cy="697.11" r="0.62" fill="none" stroke="#4a78c0" stroke-width="0.3"/><circle cx="135.92" cy="689.49" r="0.62" fill="none" stroke="#4a78c0" stroke-width="0.3"/><circle cx="132.73" cy="693.29" r="0.62" fill="none" stroke="#4a78c0" stroke-width="0.3"/><circle cx="130.81" cy="691.73" r="0.62" fill="none" stroke="#4a78c0" stroke-width="0.3"/><circle cx="132.34" cy="692.16" r="0.62" fill="none" stroke="#4a78c0" stroke-width="0.3"/>
<circle cx="131.39" cy="699.12" r="0.62" fill="none" stroke="#4a78c0" stroke-width="0.3"/><circle cx="132.51" cy="698.12" r="0.62" fill="none" stroke="#4a78c0" stroke-width="0.3"/><circle cx="134.61" cy="699.39" r="0.62" fill="none" stroke="#4a78c0" stroke-width="0.3"/><circle cx="131.79" cy="697.88" r="0.62" fill="none" stroke="#4a78c0" stroke-width="0.3"/><circle cx="133.52" cy="700.62" r="0.62" fill="none" stroke="#4a78c0" stroke-width="0.3"/><circle cx="132.88" cy="703.08" r="0.62" fill="none" stroke="#4a78c0" stroke-width="0.3"/><circle cx="132.75" cy="702.06" r="0.62" fill="none" stroke="#4a78c0" stroke-width="0.3"/><circle cx="134.16" cy="701.51" r="0.62" fill="none" stroke="#4a78c0" stroke-width="0.3"/><circle cx="131.73" cy="700.23" r="0.62" fill="none" stroke="#4a78c0" stroke-width="0.3"/><circle cx="131.56" cy="699.23" r="0.62" fill="none" stroke="#4a78c0" stroke-width="0.3"/><circle cx="131.81" cy="698.67" r="0.62" fill="none" stroke="#4a78c0" stroke-width="0.3"/><circle cx="134.6" cy="701.21" r="0.62" fill="none" stroke="#4a78c0" stroke-width="0.3"/><circle cx="133.19" cy="702.42" r="0.62" fill="none" stroke="#4a78c0" stroke-width="0.3"/><circle cx="133.52" cy="699.29" r="0.62" fill="none" stroke="#4a78c0" stroke-width="0.3"/><circle cx="132.64" cy="698.74" r="0.62" fill="none" stroke="#4a78c0" stroke-width="0.3"/><circle cx="131.9" cy="702.54" r="0.62" fill="none" stroke="#4a78c0" stroke-width="0.3"/>
<circle cx="130.03" cy="706.03" r="0.62" fill="none" stroke="#4a78c0" stroke-width="0.3"/><circle cx="129.86" cy="705.16" r="0.62" fill="none" stroke="#4a78c0" stroke-width="0.3"/><circle cx="129.12" cy="704.47" r="0.62" fill="none" stroke="#4a78c0" stroke-width="0.3"/><circle cx="128.28" cy="708.36" r="0.62" fill="none" stroke="#4a78c0" stroke-width="0.3"/><circle cx="126.62" cy="709.09" r="0.62" fill="none" stroke="#4a78c0" stroke-width="0.3"/><circle cx="126.92" cy="707.66" r="0.62" fill="none" stroke="#4a78c0" stroke-width="0.3"/><circle cx="127.63" cy="709.7" r="0.62" fill="none" stroke="#4a78c0" stroke-width="0.3"/><circle cx="126.41" cy="710.6" r="0.62" fill="none" stroke="#4a78c0" stroke-width="0.3"/><circle cx="127.66" cy="709.23" r="0.62" fill="none" stroke="#4a78c0" stroke-width="0.3"/><circle cx="127.99" cy="707.74" r="0.62" fill="none" stroke="#4a78c0" stroke-width="0.3"/><circle cx="126.11" cy="708.93" r="0.62" fill="none" stroke="#4a78c0" stroke-width="0.3"/><circle cx="128.05" cy="706.97" r="0.62" fill="none" stroke="#4a78c0" stroke-width="0.3"/>
<rect x="84.9" y="692.4" width="4.1" height="21.5" fill="url(#cbar)"/>
<text class="s" x="90" y="695.7" font-size="4.8" fill="#231f20" textLength="10.1" lengthAdjust="spacingAndGlyphs">High</text>
<text class="s" x="90" y="713.2" font-size="4.8" fill="#231f20" textLength="9" lengthAdjust="spacingAndGlyphs">Low</text>
<text x="86" y="667.5" font-size="6.5" fill="#1a1a1a" textLength="15" lengthAdjust="spacingAndGlyphs">Bmp4</text>
<rect x="83.7" y="660.9" width="55.2" height="53.5" rx="0.6" fill="none" stroke="#231f20" stroke-width="1.15"/>
<circle cx="150.24" cy="676.27" r="0.62" fill="none" stroke="#ee7f45" stroke-width="0.3"/><circle cx="150.08" cy="674.15" r="0.62" fill="none" stroke="#ee7f45" stroke-width="0.3"/><circle cx="150.84" cy="675.07" r="0.62" fill="none" stroke="#ee7f45" stroke-width="0.3"/><circle cx="150.63" cy="672.21" r="0.62" fill="none" stroke="#ee7f45" stroke-width="0.3"/><circle cx="150.52" cy="674.58" r="0.62" fill="none" stroke="#ee7f45" stroke-width="0.3"/><circle cx="151.93" cy="671.47" r="0.62" fill="none" stroke="#ee7f45" stroke-width="0.3"/><circle cx="150.52" cy="674.27" r="0.62" fill="none" stroke="#ee7f45" stroke-width="0.3"/><circle cx="151.18" cy="672.47" r="0.62" fill="none" stroke="#ee7f45" stroke-width="0.3"/><circle cx="149.94" cy="672.93" r="0.62" fill="none" stroke="#ee7f45" stroke-width="0.3"/><circle cx="149.98" cy="675.13" r="0.62" fill="none" stroke="#ee7f45" stroke-width="0.3"/><circle cx="152.08" cy="670.67" r="0.62" fill="none" stroke="#ee7f45" stroke-width="0.3"/><circle cx="150.37" cy="672.15" r="0.62" fill="none" stroke="#ee7f45" stroke-width="0.3"/><circle cx="152.13" cy="673.82" r="0.62" fill="none" stroke="#ee7f45" stroke-width="0.3"/><circle cx="150.09" cy="673.56" r="0.62" fill="none" stroke="#ee7f45" stroke-width="0.3"/><circle cx="151.41" cy="671.45" r="0.62" fill="none" stroke="#ee7f45" stroke-width="0.3"/>
<circle cx="149.74" cy="682.33" r="0.62" fill="none" stroke="#f3a86a" stroke-width="0.3"/><circle cx="149.37" cy="680.7" r="0.62" fill="none" stroke="#f3a86a" stroke-width="0.3"/><circle cx="150.54" cy="676.7" r="0.62" fill="none" stroke="#f3a86a" stroke-width="0.3"/><circle cx="149.28" cy="681.75" r="0.62" fill="none" stroke="#f3a86a" stroke-width="0.3"/><circle cx="148.67" cy="681.82" r="0.62" fill="none" stroke="#f3a86a" stroke-width="0.3"/><circle cx="148.89" cy="681.29" r="0.62" fill="none" stroke="#f3a86a" stroke-width="0.3"/><circle cx="149.63" cy="681.87" r="0.62" fill="none" stroke="#f3a86a" stroke-width="0.3"/><circle cx="150.62" cy="682.37" r="0.62" fill="none" stroke="#f3a86a" stroke-width="0.3"/><circle cx="149.9" cy="682.21" r="0.62" fill="none" stroke="#f3a86a" stroke-width="0.3"/><circle cx="148.43" cy="681.18" r="0.62" fill="none" stroke="#f3a86a" stroke-width="0.3"/><circle cx="150.54" cy="676.84" r="0.62" fill="none" stroke="#f3a86a" stroke-width="0.3"/><circle cx="150.75" cy="678.29" r="0.62" fill="none" stroke="#f3a86a" stroke-width="0.3"/><circle cx="149.44" cy="680.59" r="0.62" fill="none" stroke="#f3a86a" stroke-width="0.3"/><circle cx="149.86" cy="682.73" r="0.62" fill="none" stroke="#f3a86a" stroke-width="0.3"/><circle cx="148.75" cy="684.02" r="0.62" fill="none" stroke="#f3a86a" stroke-width="0.3"/>
<circle cx="190.68" cy="667.01" r="0.62" fill="none" stroke="#4a78c0" stroke-width="0.3"/><circle cx="189.67" cy="668.73" r="0.62" fill="none" stroke="#4a78c0" stroke-width="0.3"/><circle cx="191.39" cy="666.69" r="0.62" fill="none" stroke="#4a78c0" stroke-width="0.3"/><circle cx="192.28" cy="668.87" r="0.62" fill="none" stroke="#4a78c0" stroke-width="0.3"/><circle cx="189.53" cy="666.63" r="0.62" fill="none" stroke="#4a78c0" stroke-width="0.3"/><circle cx="191.46" cy="667.84" r="0.62" fill="none" stroke="#4a78c0" stroke-width="0.3"/><circle cx="191.06" cy="669.48" r="0.62" fill="none" stroke="#4a78c0" stroke-width="0.3"/><circle cx="190.55" cy="668.52" r="0.62" fill="none" stroke="#4a78c0" stroke-width="0.3"/><circle cx="191.12" cy="667.67" r="0.62" fill="none" stroke="#4a78c0" stroke-width="0.3"/><circle cx="191.74" cy="669" r="0.62" fill="none" stroke="#4a78c0" stroke-width="0.3"/><circle cx="190.77" cy="666.46" r="0.62" fill="none" stroke="#4a78c0" stroke-width="0.3"/><circle cx="191.44" cy="666.84" r="0.62" fill="none" stroke="#4a78c0" stroke-width="0.3"/><circle cx="190.16" cy="666.61" r="0.62" fill="none" stroke="#4a78c0" stroke-width="0.3"/><circle cx="192.04" cy="664.65" r="0.62" fill="none" stroke="#4a78c0" stroke-width="0.3"/><circle cx="190.48" cy="668.84" r="0.62" fill="none" stroke="#4a78c0" stroke-width="0.3"/>
<circle cx="192.04" cy="675.87" r="0.62" fill="none" stroke="#4a78c0" stroke-width="0.3"/><circle cx="193.01" cy="677.63" r="0.62" fill="none" stroke="#4a78c0" stroke-width="0.3"/><circle cx="191.86" cy="673" r="0.62" fill="none" stroke="#4a78c0" stroke-width="0.3"/><circle cx="191.54" cy="673.37" r="0.62" fill="none" stroke="#4a78c0" stroke-width="0.3"/><circle cx="191.26" cy="673.01" r="0.62" fill="none" stroke="#4a78c0" stroke-width="0.3"/><circle cx="191.51" cy="672.4" r="0.62" fill="none" stroke="#4a78c0" stroke-width="0.3"/><circle cx="192.06" cy="675.54" r="0.62" fill="none" stroke="#4a78c0" stroke-width="0.3"/><circle cx="191.49" cy="671.27" r="0.62" fill="none" stroke="#4a78c0" stroke-width="0.3"/><circle cx="191.84" cy="672.49" r="0.62" fill="none" stroke="#4a78c0" stroke-width="0.3"/>
<circle cx="192.79" cy="695.48" r="0.62" fill="none" stroke="#4a78c0" stroke-width="0.3"/><circle cx="192.76" cy="690.97" r="0.62" fill="none" stroke="#4a78c0" stroke-width="0.3"/><circle cx="197.18" cy="692.55" r="0.62" fill="none" stroke="#4a78c0" stroke-width="0.3"/><circle cx="198.06" cy="689.66" r="0.62" fill="none" stroke="#4a78c0" stroke-width="0.3"/><circle cx="198.14" cy="691.06" r="0.62" fill="none" stroke="#4a78c0" stroke-width="0.3"/><circle cx="196.8" cy="696.02" r="0.62" fill="none" stroke="#4a78c0" stroke-width="0.3"/><circle cx="194.89" cy="697.2" r="0.62" fill="none" stroke="#4a78c0" stroke-width="0.3"/><circle cx="198.67" cy="692.78" r="0.62" fill="none" stroke="#4a78c0" stroke-width="0.3"/><circle cx="194.36" cy="686.41" r="0.62" fill="none" stroke="#4a78c0" stroke-width="0.3"/><circle cx="194.89" cy="692.14" r="0.62" fill="none" stroke="#4a78c0" stroke-width="0.3"/><circle cx="195.21" cy="689.42" r="0.62" fill="none" stroke="#4a78c0" stroke-width="0.3"/><circle cx="198.46" cy="691.74" r="0.62" fill="none" stroke="#4a78c0" stroke-width="0.3"/><circle cx="193.91" cy="695.44" r="0.62" fill="none" stroke="#4a78c0" stroke-width="0.3"/><circle cx="193.72" cy="690.81" r="0.62" fill="none" stroke="#4a78c0" stroke-width="0.3"/><circle cx="192.89" cy="688.36" r="0.62" fill="none" stroke="#4a78c0" stroke-width="0.3"/><circle cx="195.44" cy="694.16" r="0.62" fill="none" stroke="#4a78c0" stroke-width="0.3"/><circle cx="196.55" cy="692.24" r="0.62" fill="none" stroke="#4a78c0" stroke-width="0.3"/><circle cx="194.73" cy="687.28" r="0.62" fill="none" stroke="#4a78c0" stroke-width="0.3"/><circle cx="195.09" cy="685.51" r="0.62" fill="none" stroke="#4a78c0" stroke-width="0.3"/><circle cx="196.7" cy="689.85" r="0.62" fill="none" stroke="#4a78c0" stroke-width="0.3"/><circle cx="193.72" cy="689.39" r="0.62" fill="none" stroke="#4a78c0" stroke-width="0.3"/><circle cx="195.55" cy="688.13" r="0.62" fill="none" stroke="#4a78c0" stroke-width="0.3"/><circle cx="197.8" cy="691.8" r="0.62" fill="none" stroke="#4a78c0" stroke-width="0.3"/><circle cx="198" cy="693.05" r="0.62" fill="none" stroke="#4a78c0" stroke-width="0.3"/><circle cx="193.84" cy="694.59" r="0.62" fill="none" stroke="#4a78c0" stroke-width="0.3"/><circle cx="198.25" cy="694.19" r="0.62" fill="none" stroke="#4a78c0" stroke-width="0.3"/><circle cx="192.4" cy="690.78" r="0.62" fill="none" stroke="#4a78c0" stroke-width="0.3"/><circle cx="197.62" cy="693.23" r="0.62" fill="none" stroke="#4a78c0" stroke-width="0.3"/><circle cx="193.6" cy="688.35" r="0.62" fill="none" stroke="#4a78c0" stroke-width="0.3"/><circle cx="192.42" cy="692.03" r="0.62" fill="none" stroke="#4a78c0" stroke-width="0.3"/><circle cx="193.27" cy="691.08" r="0.62" fill="none" stroke="#4a78c0" stroke-width="0.3"/><circle cx="195.15" cy="695.58" r="0.62" fill="none" stroke="#4a78c0" stroke-width="0.3"/><circle cx="197.89" cy="691.81" r="0.62" fill="none" stroke="#4a78c0" stroke-width="0.3"/><circle cx="198.16" cy="689.41" r="0.62" fill="none" stroke="#4a78c0" stroke-width="0.3"/><circle cx="198.2" cy="695" r="0.62" fill="none" stroke="#4a78c0" stroke-width="0.3"/><circle cx="192.65" cy="688.89" r="0.62" fill="none" stroke="#4a78c0" stroke-width="0.3"/><circle cx="196.18" cy="697.26" r="0.62" fill="none" stroke="#4a78c0" stroke-width="0.3"/><circle cx="196.94" cy="685.98" r="0.62" fill="none" stroke="#4a78c0" stroke-width="0.3"/><circle cx="194.47" cy="689.83" r="0.62" fill="none" stroke="#4a78c0" stroke-width="0.3"/><circle cx="193.35" cy="688.21" r="0.62" fill="none" stroke="#4a78c0" stroke-width="0.3"/>
<circle cx="194.51" cy="699.39" r="0.62" fill="none" stroke="#4a78c0" stroke-width="0.3"/><circle cx="193.25" cy="698.98" r="0.62" fill="none" stroke="#4a78c0" stroke-width="0.3"/><circle cx="195.69" cy="701.83" r="0.62" fill="none" stroke="#4a78c0" stroke-width="0.3"/><circle cx="194.22" cy="702.21" r="0.62" fill="none" stroke="#4a78c0" stroke-width="0.3"/><circle cx="194.6" cy="700.26" r="0.62" fill="none" stroke="#4a78c0" stroke-width="0.3"/><circle cx="195.25" cy="700.25" r="0.62" fill="none" stroke="#4a78c0" stroke-width="0.3"/><circle cx="193.58" cy="697.65" r="0.62" fill="none" stroke="#4a78c0" stroke-width="0.3"/><circle cx="193.62" cy="699.19" r="0.62" fill="none" stroke="#4a78c0" stroke-width="0.3"/><circle cx="192.05" cy="701.18" r="0.62" fill="none" stroke="#4a78c0" stroke-width="0.3"/><circle cx="195.09" cy="698.14" r="0.62" fill="none" stroke="#4a78c0" stroke-width="0.3"/><circle cx="192.1" cy="698.68" r="0.62" fill="none" stroke="#4a78c0" stroke-width="0.3"/><circle cx="192.27" cy="700.19" r="0.62" fill="none" stroke="#4a78c0" stroke-width="0.3"/><circle cx="194.05" cy="698.54" r="0.62" fill="none" stroke="#4a78c0" stroke-width="0.3"/><circle cx="192.75" cy="700.22" r="0.62" fill="none" stroke="#4a78c0" stroke-width="0.3"/><circle cx="194.06" cy="700.04" r="0.62" fill="none" stroke="#4a78c0" stroke-width="0.3"/><circle cx="194.9" cy="700.41" r="0.62" fill="none" stroke="#4a78c0" stroke-width="0.3"/>
<circle cx="191.19" cy="707.49" r="0.62" fill="none" stroke="#9ab0cc" stroke-width="0.3"/><circle cx="189.65" cy="708.34" r="0.62" fill="none" stroke="#9ab0cc" stroke-width="0.3"/><circle cx="189.44" cy="709.64" r="0.62" fill="none" stroke="#9ab0cc" stroke-width="0.3"/><circle cx="189.47" cy="706.25" r="0.62" fill="none" stroke="#9ab0cc" stroke-width="0.3"/><circle cx="191.11" cy="706.18" r="0.62" fill="none" stroke="#9ab0cc" stroke-width="0.3"/><circle cx="189.78" cy="706.65" r="0.62" fill="none" stroke="#9ab0cc" stroke-width="0.3"/><circle cx="188.19" cy="711.18" r="0.62" fill="none" stroke="#9ab0cc" stroke-width="0.3"/><circle cx="191.69" cy="705.25" r="0.62" fill="none" stroke="#9ab0cc" stroke-width="0.3"/><circle cx="189.28" cy="708.76" r="0.62" fill="none" stroke="#9ab0cc" stroke-width="0.3"/><circle cx="187.34" cy="710.47" r="0.62" fill="none" stroke="#9ab0cc" stroke-width="0.3"/><circle cx="189.02" cy="709.37" r="0.62" fill="none" stroke="#9ab0cc" stroke-width="0.3"/><circle cx="187.26" cy="709.77" r="0.62" fill="none" stroke="#9ab0cc" stroke-width="0.3"/>
<rect x="146.4" y="692.4" width="4.1" height="21.5" fill="url(#cbar)"/>
<text class="s" x="151.5" y="695.7" font-size="4.8" fill="#231f20" textLength="10.1" lengthAdjust="spacingAndGlyphs">High</text>
<text class="s" x="151.5" y="713.2" font-size="4.8" fill="#231f20" textLength="9" lengthAdjust="spacingAndGlyphs">Low</text>
<text x="147.5" y="667.5" font-size="6.5" fill="#1a1a1a" textLength="10.6" lengthAdjust="spacingAndGlyphs">Dlk1</text>
<rect x="145.2" y="660.9" width="55.9" height="53.5" rx="0.6" fill="none" stroke="#231f20" stroke-width="1.15"/>
<text transform="translate(13.6 716.2) rotate(-90)" font-size="6.4" fill="#231f20" textLength="20.6" lengthAdjust="spacingAndGlyphs">UMAP2</text>
<path d="M11.6 692 V681.6" stroke="#231f20" stroke-width="0.55"/><path d="M10.5 682.1 L11.6 679.1 L12.7 682.1 Z" fill="#231f20"/>
<text x="15" y="723.1" font-size="6.3" fill="#231f20" textLength="21.5" lengthAdjust="spacingAndGlyphs">UMAP1</text>
<path d="M38 720.4 H50" stroke="#231f20" stroke-width="0.55"/><path d="M49.8 719.3 L52.9 720.4 L49.8 721.5 Z" fill="#231f20"/>
<text x="264.3" y="426.8" font-size="11.6" font-weight="bold" fill="#000">E</text>
<rect x="287" y="426.4" width="223.2" height="18.9" fill="#fff" stroke="#d0d0d0" stroke-width="0.6"/>
<rect x="287.3" y="443.5" width="222.6" height="1.5" fill="#d9d9d9"/>
<text class="t" x="285.5" y="432.1" font-size="4.6" fill="#555" text-anchor="end">15</text>
<line x1="285.2" y1="430.5" x2="286.6" y2="430.5" stroke="#777" stroke-width="0.3"/>
<text class="t" x="285.5" y="436.4" font-size="4.6" fill="#555" text-anchor="end">10</text>
<line x1="285.2" y1="434.8" x2="286.6" y2="434.8" stroke="#777" stroke-width="0.3"/>
<text class="t" x="285.5" y="440.7" font-size="4.6" fill="#555" text-anchor="end">5</text>
<line x1="285.2" y1="439.1" x2="286.6" y2="439.1" stroke="#777" stroke-width="0.3"/>
<text class="t" x="285.5" y="445" font-size="4.6" fill="#555" text-anchor="end">0</text>
<line x1="285.2" y1="443.4" x2="286.6" y2="443.4" stroke="#777" stroke-width="0.3"/>
<path d="M300.2 443.4 C300.26 443.4 300.52 444.28 300.6 443.4 C300.68 442.52 300.52 439.13 300.7 437.88 C300.88 436.63 300.98 436.1 301.7 435.58 C302.42 435.06 303.84 434.88 305.2 434.66 C306.56 434.44 310.2 434.35 310.2 434.2 C310.2 434.05 306.64 433.93 305.2 433.74 C303.76 433.55 301.95 433.22 301.2 433 C300.45 432.78 300.66 432.46 300.5 432.36 C300.34 432.26 300.3 432.36 300.2 432.36 C300.1 432.36 300.06 432.26 299.9 432.36 C299.74 432.46 299.95 432.78 299.2 433 C298.45 433.22 296.64 433.55 295.2 433.74 C293.76 433.93 290.2 434.05 290.2 434.2 C290.2 434.35 293.84 434.44 295.2 434.66 C296.56 434.88 297.98 435.06 298.7 435.58 C299.42 436.1 299.52 436.63 299.7 437.88 C299.88 439.13 299.72 442.52 299.8 443.4 C299.88 444.28 300.14 443.4 300.2 443.4Z" fill="#8a9ecb" stroke="#34425e" stroke-width="0.38"/>
<line x1="300.2" y1="442.48" x2="300.2" y2="432.36" stroke="#111" stroke-width="0.5"/>
<rect x="298.9" y="433.65" width="2.6" height="1.2" fill="#8a9ecb" fill-opacity="0.85" stroke="#222" stroke-width="0.4"/>
<line x1="298.9" y1="434.25" x2="301.5" y2="434.25" stroke="#111" stroke-width="0.7"/>
<path d="M321.98 443.4 C322.7 443.4 325.87 443.55 326.48 443.4 C327.09 443.25 325.94 443.07 325.78 442.48 C325.62 441.89 325.42 440.46 325.48 439.72 C325.54 438.98 325.46 438.4 326.18 437.88 C326.9 437.36 329.05 436.87 329.98 436.5 C330.91 436.13 332.14 435.87 331.98 435.58 C331.82 435.29 330.5 434.95 328.98 434.66 C327.46 434.37 323.6 433.89 322.48 433.74 C321.36 433.59 322.14 433.74 321.98 433.74 C321.82 433.74 322.6 433.59 321.48 433.74 C320.36 433.89 316.5 434.37 314.98 434.66 C313.46 434.95 312.14 435.29 311.98 435.58 C311.82 435.87 313.05 436.13 313.98 436.5 C314.91 436.87 317.06 437.36 317.78 437.88 C318.5 438.4 318.42 438.98 318.48 439.72 C318.54 440.46 318.34 441.89 318.18 442.48 C318.02 443.07 316.87 443.25 317.48 443.4 C318.09 443.55 321.26 443.4 321.98 443.4Z" fill="#8cdcd2" stroke="#2a6a62" stroke-width="0.38"/>
<line x1="321.98" y1="443.4" x2="321.98" y2="433.74" stroke="#111" stroke-width="0.5"/>
<rect x="320.68" y="435.12" width="2.6" height="3.22" fill="#8cdcd2" fill-opacity="0.85" stroke="#222" stroke-width="0.4"/>
<line x1="320.68" y1="436.73" x2="323.28" y2="436.73" stroke="#111" stroke-width="0.7"/>
<path d="M343.76 443.4 C345.28 443.4 352.62 443.47 353.26 443.4 C353.9 443.33 349.22 443.09 347.76 442.94 C346.3 442.79 344.8 442.55 344.16 442.48 C343.52 442.41 343.89 442.48 343.76 442.48 C343.63 442.48 344 442.41 343.36 442.48 C342.72 442.55 341.22 442.79 339.76 442.94 C338.3 443.09 333.62 443.33 334.26 443.4 C334.9 443.47 342.24 443.4 343.76 443.4Z" fill="#c0dcf6" stroke="#4a4a4a" stroke-width="0.45"/>
<line x1="343.76" y1="443.4" x2="343.76" y2="437.88" stroke="#111" stroke-width="0.8"/>
<circle cx="343.76" cy="437.88" r="0.8" fill="#111"/>
<circle cx="343.76" cy="439.54" r="0.75" fill="#111"/>
<rect x="342.86" y="442.2" width="1.8" height="1.2" fill="#111"/>
<path d="M365.54 443.4 C367.06 443.4 374.4 443.47 375.04 443.4 C375.68 443.33 371 443.09 369.54 442.94 C368.08 442.79 366.58 442.55 365.94 442.48 C365.3 442.41 365.67 442.48 365.54 442.48 C365.41 442.48 365.78 442.41 365.14 442.48 C364.5 442.55 363 442.79 361.54 442.94 C360.08 443.09 355.4 443.33 356.04 443.4 C356.68 443.47 364.02 443.4 365.54 443.4Z" fill="#eda0a2" stroke="#4a4a4a" stroke-width="0.45"/>
<line x1="365.54" y1="443.4" x2="365.54" y2="434.2" stroke="#111" stroke-width="0.8"/>
<circle cx="365.54" cy="434.2" r="0.8" fill="#111"/>
<circle cx="365.54" cy="436.96" r="0.75" fill="#111"/>
<rect x="364.64" y="442.2" width="1.8" height="1.2" fill="#111"/>
<path d="M387.32 443.4 C388.84 443.4 396.18 443.47 396.82 443.4 C397.46 443.33 392.78 443.09 391.32 442.94 C389.86 442.79 388.36 442.55 387.72 442.48 C387.08 442.41 387.45 442.48 387.32 442.48 C387.19 442.48 387.56 442.41 386.92 442.48 C386.28 442.55 384.78 442.79 383.32 442.94 C381.86 443.09 377.18 443.33 377.82 443.4 C378.46 443.47 385.8 443.4 387.32 443.4Z" fill="#f6c4c6" stroke="#4a4a4a" stroke-width="0.45"/>
<line x1="387.32" y1="443.4" x2="387.32" y2="434.2" stroke="#111" stroke-width="0.8"/>
<circle cx="387.32" cy="434.2" r="0.8" fill="#111"/>
<circle cx="387.32" cy="436.96" r="0.75" fill="#111"/>
<rect x="386.42" y="442.2" width="1.8" height="1.2" fill="#111"/>
<path d="M409.1 443.4 C410.62 443.4 417.96 443.47 418.6 443.4 C419.24 443.33 414.56 443.09 413.1 442.94 C411.64 442.79 410.14 442.55 409.5 442.48 C408.86 442.41 409.23 442.48 409.1 442.48 C408.97 442.48 409.34 442.41 408.7 442.48 C408.06 442.55 406.56 442.79 405.1 442.94 C403.64 443.09 398.96 443.33 399.6 443.4 C400.24 443.47 407.58 443.4 409.1 443.4Z" fill="#f8b67c" stroke="#4a4a4a" stroke-width="0.45"/>
<line x1="409.1" y1="443.4" x2="409.1" y2="435.12" stroke="#111" stroke-width="0.8"/>
<circle cx="409.1" cy="435.12" r="0.8" fill="#111"/>
<circle cx="409.1" cy="437.6" r="0.75" fill="#111"/>
<rect x="408.2" y="442.2" width="1.8" height="1.2" fill="#111"/>
<path d="M430.88 443.4 C432.4 443.4 439.74 443.47 440.38 443.4 C441.02 443.33 436.34 443.09 434.88 442.94 C433.42 442.79 431.92 442.55 431.28 442.48 C430.64 442.41 431.01 442.48 430.88 442.48 C430.75 442.48 431.12 442.41 430.48 442.48 C429.84 442.55 428.34 442.79 426.88 442.94 C425.42 443.09 420.74 443.33 421.38 443.4 C422.02 443.47 429.36 443.4 430.88 443.4Z" fill="#b88a7c" stroke="#4a4a4a" stroke-width="0.45"/>
<path d="M452.66 443.4 C454.18 443.4 461.52 443.47 462.16 443.4 C462.8 443.33 458.12 443.09 456.66 442.94 C455.2 442.79 453.7 442.55 453.06 442.48 C452.42 442.41 452.79 442.48 452.66 442.48 C452.53 442.48 452.9 442.41 452.26 442.48 C451.62 442.55 450.12 442.79 448.66 442.94 C447.2 443.09 442.52 443.33 443.16 443.4 C443.8 443.47 451.14 443.4 452.66 443.4Z" fill="#98d294" stroke="#4a4a4a" stroke-width="0.45"/>
<path d="M474.44 443.4 C475.96 443.4 483.3 443.47 483.94 443.4 C484.58 443.33 479.9 443.09 478.44 442.94 C476.98 442.79 475.48 442.55 474.84 442.48 C474.2 442.41 474.57 442.48 474.44 442.48 C474.31 442.48 474.68 442.41 474.04 442.48 C473.4 442.55 471.9 442.79 470.44 442.94 C468.98 443.09 464.3 443.33 464.94 443.4 C465.58 443.47 472.92 443.4 474.44 443.4Z" fill="#c4c4c4" stroke="#4a4a4a" stroke-width="0.45"/>
<line x1="474.44" y1="443.4" x2="474.44" y2="442.02" stroke="#111" stroke-width="0.8"/>
<circle cx="474.44" cy="442.02" r="0.8" fill="#111"/>
<rect x="473.54" y="442.2" width="1.8" height="1.2" fill="#111"/>
<path d="M496.22 443.4 C497.74 443.4 505.08 443.47 505.72 443.4 C506.36 443.33 501.68 443.09 500.22 442.94 C498.76 442.79 497.26 442.55 496.62 442.48 C495.98 442.41 496.35 442.48 496.22 442.48 C496.09 442.48 496.46 442.41 495.82 442.48 C495.18 442.55 493.68 442.79 492.22 442.94 C490.76 443.09 486.08 443.33 486.72 443.4 C487.36 443.47 494.7 443.4 496.22 443.4Z" fill="#f4f29a" stroke="#4a4a4a" stroke-width="0.45"/>
<line x1="496.22" y1="443.4" x2="496.22" y2="439.72" stroke="#111" stroke-width="0.8"/>
<circle cx="496.22" cy="439.72" r="0.8" fill="#111"/>
<circle cx="496.22" cy="440.82" r="0.75" fill="#111"/>
<rect x="495.32" y="442.2" width="1.8" height="1.2" fill="#111"/>
<text x="508.9" y="435.1" font-size="8.8" font-style="italic" text-anchor="end" fill="#1a1a1a" textLength="20.1" lengthAdjust="spacingAndGlyphs">Aplnr</text>
<rect x="287" y="446.68" width="223.2" height="18.9" fill="#fff" stroke="#d0d0d0" stroke-width="0.6"/>
<rect x="287.3" y="463.78" width="222.6" height="1.5" fill="#d9d9d9"/>
<text class="t" x="285.5" y="452.38" font-size="4.6" fill="#555" text-anchor="end">15</text>
<line x1="285.2" y1="450.78" x2="286.6" y2="450.78" stroke="#777" stroke-width="0.3"/>
<text class="t" x="285.5" y="456.68" font-size="4.6" fill="#555" text-anchor="end">10</text>
<line x1="285.2" y1="455.08" x2="286.6" y2="455.08" stroke="#777" stroke-width="0.3"/>
<text class="t" x="285.5" y="460.98" font-size="4.6" fill="#555" text-anchor="end">5</text>
<line x1="285.2" y1="459.38" x2="286.6" y2="459.38" stroke="#777" stroke-width="0.3"/>
<text class="t" x="285.5" y="465.28" font-size="4.6" fill="#555" text-anchor="end">0</text>
<line x1="285.2" y1="463.68" x2="286.6" y2="463.68" stroke="#777" stroke-width="0.3"/>
<path d="M300.2 460 C300.25 460 300.18 460.22 300.5 460 C300.82 459.78 300.65 459.06 302.2 458.62 C303.75 458.18 310.2 457.68 310.2 457.24 C310.2 456.8 303.75 456.3 302.2 455.86 C300.65 455.42 300.82 454.7 300.5 454.48 C300.18 454.26 300.3 454.48 300.2 454.48 C300.1 454.48 300.22 454.26 299.9 454.48 C299.58 454.7 299.75 455.42 298.2 455.86 C296.65 456.3 290.2 456.8 290.2 457.24 C290.2 457.68 296.65 458.18 298.2 458.62 C299.75 459.06 299.58 459.78 299.9 460 C300.22 460.22 300.15 460 300.2 460Z" fill="#8a9ecb" stroke="#34425e" stroke-width="0.38"/>
<line x1="300.2" y1="459.54" x2="300.2" y2="454.94" stroke="#111" stroke-width="0.5"/>
<rect x="298.9" y="456.5" width="2.6" height="1.47" fill="#8a9ecb" fill-opacity="0.85" stroke="#222" stroke-width="0.4"/>
<line x1="298.9" y1="457.24" x2="301.5" y2="457.24" stroke="#111" stroke-width="0.7"/>
<path d="M321.98 463.68 C323.58 463.68 331.02 463.8 331.98 463.68 C332.94 463.56 328.86 463.24 327.98 462.94 C327.1 462.65 326.72 462.46 326.48 461.84 C326.24 461.22 326.32 459.74 326.48 459.08 C326.64 458.42 327.56 458.14 327.48 457.7 C327.4 457.26 326.78 456.69 325.98 456.32 C325.18 455.95 323.12 455.55 322.48 455.4 C321.84 455.25 322.14 455.4 321.98 455.4 C321.82 455.4 322.12 455.25 321.48 455.4 C320.84 455.55 318.78 455.95 317.98 456.32 C317.18 456.69 316.56 457.26 316.48 457.7 C316.4 458.14 317.32 458.42 317.48 459.08 C317.64 459.74 317.72 461.22 317.48 461.84 C317.24 462.46 316.86 462.65 315.98 462.94 C315.1 463.24 311.02 463.56 311.98 463.68 C312.94 463.8 320.38 463.68 321.98 463.68Z" fill="#8cdcd2" stroke="#2a6a62" stroke-width="0.38"/>
<line x1="321.98" y1="463.68" x2="321.98" y2="455.86" stroke="#111" stroke-width="0.5"/>
<rect x="320.68" y="457.24" width="2.6" height="3.68" fill="#8cdcd2" fill-opacity="0.85" stroke="#222" stroke-width="0.4"/>
<line x1="320.68" y1="459.08" x2="323.28" y2="459.08" stroke="#111" stroke-width="0.7"/>
<path d="M343.76 463.68 C345.36 463.68 352.96 463.75 353.76 463.68 C354.56 463.61 349.8 463.44 348.76 463.22 C347.72 463 347.58 462.67 347.26 462.3 C346.94 461.93 346.92 461.36 346.76 460.92 C346.6 460.48 346.26 459.98 346.26 459.54 C346.26 459.1 346.76 458.6 346.76 458.16 C346.76 457.72 346.69 457.07 346.26 456.78 C345.83 456.49 344.46 456.39 344.06 456.32 C343.66 456.25 343.86 456.32 343.76 456.32 C343.66 456.32 343.86 456.25 343.46 456.32 C343.06 456.39 341.69 456.49 341.26 456.78 C340.83 457.07 340.76 457.72 340.76 458.16 C340.76 458.6 341.26 459.1 341.26 459.54 C341.26 459.98 340.92 460.48 340.76 460.92 C340.6 461.36 340.58 461.93 340.26 462.3 C339.94 462.67 339.8 463 338.76 463.22 C337.72 463.44 332.96 463.61 333.76 463.68 C334.56 463.75 342.16 463.68 343.76 463.68Z" fill="#c0dcf6" stroke="#4a6a8a" stroke-width="0.38"/>
<line x1="343.76" y1="463.68" x2="343.76" y2="456.32" stroke="#111" stroke-width="0.5"/>
<rect x="342.46" y="457.7" width="2.6" height="4.14" fill="#c0dcf6" fill-opacity="0.85" stroke="#222" stroke-width="0.4"/>
<line x1="342.46" y1="459.77" x2="345.06" y2="459.77" stroke="#111" stroke-width="0.7"/>
<path d="M365.54 463.68 C367.06 463.68 374.4 463.75 375.04 463.68 C375.68 463.61 371 463.37 369.54 463.22 C368.08 463.07 366.58 462.83 365.94 462.76 C365.3 462.69 365.67 462.76 365.54 462.76 C365.41 462.76 365.78 462.69 365.14 462.76 C364.5 462.83 363 463.07 361.54 463.22 C360.08 463.37 355.4 463.61 356.04 463.68 C356.68 463.75 364.02 463.68 365.54 463.68Z" fill="#eda0a2" stroke="#4a4a4a" stroke-width="0.45"/>
<line x1="365.54" y1="463.68" x2="365.54" y2="457.24" stroke="#111" stroke-width="0.8"/>
<circle cx="365.54" cy="457.24" r="0.8" fill="#111"/>
<circle cx="365.54" cy="459.17" r="0.75" fill="#111"/>
<rect x="364.64" y="462.48" width="1.8" height="1.2" fill="#111"/>
<path d="M387.32 463.68 C388.84 463.68 396.18 463.75 396.82 463.68 C397.46 463.61 392.78 463.37 391.32 463.22 C389.86 463.07 388.36 462.83 387.72 462.76 C387.08 462.69 387.45 462.76 387.32 462.76 C387.19 462.76 387.56 462.69 386.92 462.76 C386.28 462.83 384.78 463.07 383.32 463.22 C381.86 463.37 377.18 463.61 377.82 463.68 C378.46 463.75 385.8 463.68 387.32 463.68Z" fill="#f6c4c6" stroke="#4a4a4a" stroke-width="0.45"/>
<line x1="387.32" y1="463.68" x2="387.32" y2="458.16" stroke="#111" stroke-width="0.8"/>
<circle cx="387.32" cy="458.16" r="0.8" fill="#111"/>
<circle cx="387.32" cy="459.82" r="0.75" fill="#111"/>
<rect x="386.42" y="462.48" width="1.8" height="1.2" fill="#111"/>
<path d="M409.1 463.68 C410.62 463.68 417.96 463.75 418.6 463.68 C419.24 463.61 414.56 463.37 413.1 463.22 C411.64 463.07 410.14 462.83 409.5 462.76 C408.86 462.69 409.23 462.76 409.1 462.76 C408.97 462.76 409.34 462.69 408.7 462.76 C408.06 462.83 406.56 463.07 405.1 463.22 C403.64 463.37 398.96 463.61 399.6 463.68 C400.24 463.75 407.58 463.68 409.1 463.68Z" fill="#f8b67c" stroke="#4a4a4a" stroke-width="0.45"/>
<line x1="409.1" y1="463.68" x2="409.1" y2="457.24" stroke="#111" stroke-width="1.5"/>
<circle cx="409.1" cy="457.24" r="0.8" fill="#111"/>
<circle cx="409.1" cy="459.17" r="0.75" fill="#111"/>
<rect x="408.2" y="462.48" width="1.8" height="1.2" fill="#111"/>
<path d="M430.88 463.68 C432.4 463.68 439.74 463.75 440.38 463.68 C441.02 463.61 436.34 463.37 434.88 463.22 C433.42 463.07 431.92 462.83 431.28 462.76 C430.64 462.69 431.01 462.76 430.88 462.76 C430.75 462.76 431.12 462.69 430.48 462.76 C429.84 462.83 428.34 463.07 426.88 463.22 C425.42 463.37 420.74 463.61 421.38 463.68 C422.02 463.75 429.36 463.68 430.88 463.68Z" fill="#b88a7c" stroke="#4a4a4a" stroke-width="0.45"/>
<line x1="430.88" y1="463.68" x2="430.88" y2="459.08" stroke="#111" stroke-width="0.8"/>
<circle cx="430.88" cy="459.08" r="0.8" fill="#111"/>
<circle cx="430.88" cy="460.46" r="0.75" fill="#111"/>
<rect x="429.98" y="462.48" width="1.8" height="1.2" fill="#111"/>
<path d="M452.66 463.68 C454.18 463.68 461.52 463.75 462.16 463.68 C462.8 463.61 458.12 463.37 456.66 463.22 C455.2 463.07 453.7 462.83 453.06 462.76 C452.42 462.69 452.79 462.76 452.66 462.76 C452.53 462.76 452.9 462.69 452.26 462.76 C451.62 462.83 450.12 463.07 448.66 463.22 C447.2 463.37 442.52 463.61 443.16 463.68 C443.8 463.75 451.14 463.68 452.66 463.68Z" fill="#98d294" stroke="#4a4a4a" stroke-width="0.45"/>
<line x1="452.66" y1="463.68" x2="452.66" y2="459.08" stroke="#111" stroke-width="0.8"/>
<circle cx="452.66" cy="459.08" r="0.8" fill="#111"/>
<circle cx="452.66" cy="460.46" r="0.75" fill="#111"/>
<rect x="451.76" y="462.48" width="1.8" height="1.2" fill="#111"/>
<path d="M474.44 463.68 C476.04 463.68 483.8 463.8 484.44 463.68 C485.08 463.56 479.56 463.24 478.44 462.94 C477.32 462.65 477.71 462.31 477.44 461.84 C477.17 461.37 476.74 460.59 476.74 460 C476.74 459.41 477.41 458.75 477.44 458.16 C477.47 457.57 477.37 456.73 476.94 456.32 C476.51 455.91 475.14 455.7 474.74 455.58 C474.34 455.47 474.54 455.58 474.44 455.58 C474.34 455.58 474.54 455.47 474.14 455.58 C473.74 455.7 472.37 455.91 471.94 456.32 C471.51 456.73 471.41 457.57 471.44 458.16 C471.47 458.75 472.14 459.41 472.14 460 C472.14 460.59 471.71 461.37 471.44 461.84 C471.17 462.31 471.56 462.65 470.44 462.94 C469.32 463.24 463.8 463.56 464.44 463.68 C465.08 463.8 472.84 463.68 474.44 463.68Z" fill="#c4c4c4" stroke="#555555" stroke-width="0.38"/>
<line x1="474.44" y1="463.68" x2="474.44" y2="455.86" stroke="#111" stroke-width="0.5"/>
<rect x="473.14" y="457.24" width="2.6" height="5.06" fill="#c4c4c4" fill-opacity="0.85" stroke="#222" stroke-width="0.4"/>
<line x1="473.14" y1="459.77" x2="475.74" y2="459.77" stroke="#111" stroke-width="0.7"/>
<path d="M496.22 463.68 C497.74 463.68 505.08 463.75 505.72 463.68 C506.36 463.61 501.68 463.37 500.22 463.22 C498.76 463.07 497.26 462.83 496.62 462.76 C495.98 462.69 496.35 462.76 496.22 462.76 C496.09 462.76 496.46 462.69 495.82 462.76 C495.18 462.83 493.68 463.07 492.22 463.22 C490.76 463.37 486.08 463.61 486.72 463.68 C487.36 463.75 494.7 463.68 496.22 463.68Z" fill="#f4f29a" stroke="#4a4a4a" stroke-width="0.45"/>
<line x1="496.22" y1="463.68" x2="496.22" y2="457.24" stroke="#111" stroke-width="0.8"/>
<circle cx="496.22" cy="457.24" r="0.8" fill="#111"/>
<circle cx="496.22" cy="459.17" r="0.75" fill="#111"/>
<rect x="495.32" y="462.48" width="1.8" height="1.2" fill="#111"/>
<text x="508.9" y="455.38" font-size="8.8" font-style="italic" text-anchor="end" fill="#1a1a1a" textLength="17.5" lengthAdjust="spacingAndGlyphs">Nrp2</text>
<rect x="287" y="466.96" width="223.2" height="18.9" fill="#fff" stroke="#d0d0d0" stroke-width="0.6"/>
<rect x="287.3" y="484.06" width="222.6" height="1.5" fill="#d9d9d9"/>
<text class="t" x="285.5" y="472.66" font-size="4.6" fill="#555" text-anchor="end">15</text>
<line x1="285.2" y1="471.06" x2="286.6" y2="471.06" stroke="#777" stroke-width="0.3"/>
<text class="t" x="285.5" y="476.96" font-size="4.6" fill="#555" text-anchor="end">10</text>
<line x1="285.2" y1="475.36" x2="286.6" y2="475.36" stroke="#777" stroke-width="0.3"/>
<text class="t" x="285.5" y="481.26" font-size="4.6" fill="#555" text-anchor="end">5</text>
<line x1="285.2" y1="479.66" x2="286.6" y2="479.66" stroke="#777" stroke-width="0.3"/>
<text class="t" x="285.5" y="485.56" font-size="4.6" fill="#555" text-anchor="end">0</text>
<line x1="285.2" y1="483.96" x2="286.6" y2="483.96" stroke="#777" stroke-width="0.3"/>
<path d="M300.2 483.96 C301.72 483.96 309.06 484.03 309.7 483.96 C310.34 483.89 305.66 483.65 304.2 483.5 C302.74 483.35 301.24 483.11 300.6 483.04 C299.96 482.97 300.33 483.04 300.2 483.04 C300.07 483.04 300.44 482.97 299.8 483.04 C299.16 483.11 297.66 483.35 296.2 483.5 C294.74 483.65 290.06 483.89 290.7 483.96 C291.34 484.03 298.68 483.96 300.2 483.96Z" fill="#8a9ecb" stroke="#4a4a4a" stroke-width="0.45"/>
<line x1="300.2" y1="483.96" x2="300.2" y2="480.28" stroke="#111" stroke-width="0.8"/>
<circle cx="300.2" cy="480.28" r="0.8" fill="#111"/>
<circle cx="300.2" cy="481.38" r="0.75" fill="#111"/>
<rect x="299.3" y="482.76" width="1.8" height="1.2" fill="#111"/>
<path d="M321.98 483.96 C323.5 483.96 330.84 484.03 331.48 483.96 C332.12 483.89 327.44 483.65 325.98 483.5 C324.52 483.35 323.02 483.11 322.38 483.04 C321.74 482.97 322.11 483.04 321.98 483.04 C321.85 483.04 322.22 482.97 321.58 483.04 C320.94 483.11 319.44 483.35 317.98 483.5 C316.52 483.65 311.84 483.89 312.48 483.96 C313.12 484.03 320.46 483.96 321.98 483.96Z" fill="#8cdcd2" stroke="#4a4a4a" stroke-width="0.45"/>
<line x1="321.98" y1="483.96" x2="321.98" y2="476.6" stroke="#111" stroke-width="0.8"/>
<circle cx="321.98" cy="476.6" r="0.8" fill="#111"/>
<circle cx="321.98" cy="478.81" r="0.75" fill="#111"/>
<rect x="321.08" y="482.76" width="1.8" height="1.2" fill="#111"/>
<path d="M343.76 483.96 C345.36 483.96 352.32 484.11 353.76 483.96 C355.2 483.81 353.72 483.41 352.76 483.04 C351.8 482.67 348.64 482.25 347.76 481.66 C346.88 481.07 347.1 480.02 347.26 479.36 C347.42 478.7 347.8 478.04 348.76 477.52 C349.72 477 352.62 476.51 353.26 476.14 C353.9 475.77 353.8 475.51 352.76 475.22 C351.72 474.93 348.15 474.52 346.76 474.3 C345.37 474.08 344.54 473.91 344.06 473.84 C343.58 473.77 343.86 473.84 343.76 473.84 C343.66 473.84 343.94 473.77 343.46 473.84 C342.98 473.91 342.15 474.08 340.76 474.3 C339.37 474.52 335.8 474.93 334.76 475.22 C333.72 475.51 333.62 475.77 334.26 476.14 C334.9 476.51 337.8 477 338.76 477.52 C339.72 478.04 340.1 478.7 340.26 479.36 C340.42 480.02 340.64 481.07 339.76 481.66 C338.88 482.25 335.72 482.67 334.76 483.04 C333.8 483.41 332.32 483.81 333.76 483.96 C335.2 484.11 342.16 483.96 343.76 483.96Z" fill="#c0dcf6" stroke="#4a6a8a" stroke-width="0.38"/>
<line x1="343.76" y1="483.96" x2="343.76" y2="473.84" stroke="#111" stroke-width="0.5"/>
<rect x="342.46" y="475.68" width="2.6" height="6.44" fill="#c0dcf6" fill-opacity="0.85" stroke="#222" stroke-width="0.4"/>
<line x1="342.46" y1="478.9" x2="345.06" y2="478.9" stroke="#111" stroke-width="0.7"/>
<path d="M365.54 483.04 C365.59 483.04 365.68 483.78 365.84 483.04 C366 482.3 365.95 479.47 366.54 478.44 C367.13 477.41 368.1 477.04 369.54 476.6 C370.98 476.16 374.9 475.97 375.54 475.68 C376.18 475.39 374.98 475.05 373.54 474.76 C372.1 474.47 367.79 474.13 366.54 473.84 C365.29 473.55 365.9 473.07 365.74 472.92 C365.58 472.77 365.6 472.92 365.54 472.92 C365.48 472.92 365.5 472.77 365.34 472.92 C365.18 473.07 365.79 473.55 364.54 473.84 C363.29 474.13 358.98 474.47 357.54 474.76 C356.1 475.05 354.9 475.39 355.54 475.68 C356.18 475.97 360.1 476.16 361.54 476.6 C362.98 477.04 363.95 477.41 364.54 478.44 C365.13 479.47 365.08 482.3 365.24 483.04 C365.4 483.78 365.49 483.04 365.54 483.04Z" fill="#eda0a2" stroke="#7a3a3a" stroke-width="0.38"/>
<line x1="365.54" y1="483.96" x2="365.54" y2="472.92" stroke="#111" stroke-width="0.5"/>
<rect x="364.24" y="474.76" width="2.6" height="1.56" fill="#eda0a2" fill-opacity="0.85" stroke="#222" stroke-width="0.4"/>
<line x1="364.24" y1="475.54" x2="366.84" y2="475.54" stroke="#111" stroke-width="0.7"/>
<path d="M387.32 483.04 C387.37 483.04 387.46 483.78 387.62 483.04 C387.78 482.3 387.73 479.47 388.32 478.44 C388.91 477.41 389.88 477.04 391.32 476.6 C392.76 476.16 396.68 475.97 397.32 475.68 C397.96 475.39 396.76 475.05 395.32 474.76 C393.88 474.47 389.57 474.13 388.32 473.84 C387.07 473.55 387.68 473.07 387.52 472.92 C387.36 472.77 387.38 472.92 387.32 472.92 C387.26 472.92 387.28 472.77 387.12 472.92 C386.96 473.07 387.57 473.55 386.32 473.84 C385.07 474.13 380.76 474.47 379.32 474.76 C377.88 475.05 376.68 475.39 377.32 475.68 C377.96 475.97 381.88 476.16 383.32 476.6 C384.76 477.04 385.73 477.41 386.32 478.44 C386.91 479.47 386.86 482.3 387.02 483.04 C387.18 483.78 387.27 483.04 387.32 483.04Z" fill="#f6c4c6" stroke="#8a5a5a" stroke-width="0.38"/>
<line x1="387.32" y1="483.96" x2="387.32" y2="472.92" stroke="#111" stroke-width="0.5"/>
<rect x="386.02" y="474.76" width="2.6" height="1.56" fill="#f6c4c6" fill-opacity="0.85" stroke="#222" stroke-width="0.4"/>
<line x1="386.02" y1="475.54" x2="388.62" y2="475.54" stroke="#111" stroke-width="0.7"/>
<path d="M409.1 483.96 C410.7 483.96 417.66 484.11 419.1 483.96 C420.54 483.81 419.06 483.41 418.1 483.04 C417.14 482.67 414.06 482.25 413.1 481.66 C412.14 481.07 412.02 480.02 412.1 479.36 C412.18 478.7 412.64 478.04 413.6 477.52 C414.56 477 417.38 476.51 418.1 476.14 C418.82 475.77 419.06 475.51 418.1 475.22 C417.14 474.93 413.49 474.52 412.1 474.3 C410.71 474.08 409.88 473.91 409.4 473.84 C408.92 473.77 409.2 473.84 409.1 473.84 C409 473.84 409.28 473.77 408.8 473.84 C408.32 473.91 407.49 474.08 406.1 474.3 C404.71 474.52 401.06 474.93 400.1 475.22 C399.14 475.51 399.38 475.77 400.1 476.14 C400.82 476.51 403.64 477 404.6 477.52 C405.56 478.04 406.02 478.7 406.1 479.36 C406.18 480.02 406.06 481.07 405.1 481.66 C404.14 482.25 401.06 482.67 400.1 483.04 C399.14 483.41 397.66 483.81 399.1 483.96 C400.54 484.11 407.5 483.96 409.1 483.96Z" fill="#f8b67c" stroke="#8a5020" stroke-width="0.38"/>
<line x1="409.1" y1="483.96" x2="409.1" y2="473.84" stroke="#111" stroke-width="0.5"/>
<rect x="407.8" y="475.68" width="2.6" height="6.44" fill="#f8b67c" fill-opacity="0.85" stroke="#222" stroke-width="0.4"/>
<line x1="407.8" y1="478.9" x2="410.4" y2="478.9" stroke="#111" stroke-width="0.7"/>
<path d="M430.88 483.96 C432.4 483.96 439.74 484.03 440.38 483.96 C441.02 483.89 436.34 483.65 434.88 483.5 C433.42 483.35 431.92 483.11 431.28 483.04 C430.64 482.97 431.01 483.04 430.88 483.04 C430.75 483.04 431.12 482.97 430.48 483.04 C429.84 483.11 428.34 483.35 426.88 483.5 C425.42 483.65 420.74 483.89 421.38 483.96 C422.02 484.03 429.36 483.96 430.88 483.96Z" fill="#b88a7c" stroke="#4a4a4a" stroke-width="0.45"/>
<line x1="430.88" y1="483.96" x2="430.88" y2="482.12" stroke="#111" stroke-width="0.8"/>
<circle cx="430.88" cy="482.12" r="0.8" fill="#111"/>
<rect x="429.98" y="482.76" width="1.8" height="1.2" fill="#111"/>
<path d="M452.66 483.96 C454.18 483.96 461.52 484.03 462.16 483.96 C462.8 483.89 458.12 483.65 456.66 483.5 C455.2 483.35 453.7 483.11 453.06 483.04 C452.42 482.97 452.79 483.04 452.66 483.04 C452.53 483.04 452.9 482.97 452.26 483.04 C451.62 483.11 450.12 483.35 448.66 483.5 C447.2 483.65 442.52 483.89 443.16 483.96 C443.8 484.03 451.14 483.96 452.66 483.96Z" fill="#98d294" stroke="#4a4a4a" stroke-width="0.45"/>
<line x1="452.66" y1="483.96" x2="452.66" y2="482.58" stroke="#111" stroke-width="0.8"/>
<circle cx="452.66" cy="482.58" r="0.8" fill="#111"/>
<rect x="451.76" y="482.76" width="1.8" height="1.2" fill="#111"/>
<path d="M474.44 483.96 C475.96 483.96 483.3 484.03 483.94 483.96 C484.58 483.89 479.9 483.65 478.44 483.5 C476.98 483.35 475.48 483.11 474.84 483.04 C474.2 482.97 474.57 483.04 474.44 483.04 C474.31 483.04 474.68 482.97 474.04 483.04 C473.4 483.11 471.9 483.35 470.44 483.5 C468.98 483.65 464.3 483.89 464.94 483.96 C465.58 484.03 472.92 483.96 474.44 483.96Z" fill="#c4c4c4" stroke="#4a4a4a" stroke-width="0.45"/>
<line x1="474.44" y1="483.96" x2="474.44" y2="479.36" stroke="#111" stroke-width="0.8"/>
<circle cx="474.44" cy="479.36" r="0.8" fill="#111"/>
<circle cx="474.44" cy="480.74" r="0.75" fill="#111"/>
<rect x="473.54" y="482.76" width="1.8" height="1.2" fill="#111"/>
<path d="M496.22 483.96 C497.74 483.96 505.08 484.03 505.72 483.96 C506.36 483.89 501.68 483.65 500.22 483.5 C498.76 483.35 497.26 483.11 496.62 483.04 C495.98 482.97 496.35 483.04 496.22 483.04 C496.09 483.04 496.46 482.97 495.82 483.04 C495.18 483.11 493.68 483.35 492.22 483.5 C490.76 483.65 486.08 483.89 486.72 483.96 C487.36 484.03 494.7 483.96 496.22 483.96Z" fill="#f4f29a" stroke="#4a4a4a" stroke-width="0.45"/>
<line x1="496.22" y1="483.96" x2="496.22" y2="478.44" stroke="#111" stroke-width="1.5"/>
<circle cx="496.22" cy="478.44" r="0.8" fill="#111"/>
<circle cx="496.22" cy="480.1" r="0.75" fill="#111"/>
<rect x="495.32" y="482.76" width="1.8" height="1.2" fill="#111"/>
<text x="508.9" y="475.66" font-size="8.8" font-style="italic" text-anchor="end" fill="#1a1a1a" textLength="37" lengthAdjust="spacingAndGlyphs">Tmem100</text>
<rect x="287" y="487.24" width="223.2" height="18.9" fill="#fff" stroke="#d0d0d0" stroke-width="0.6"/>
<rect x="287.3" y="504.34" width="222.6" height="1.5" fill="#d9d9d9"/>
<text class="t" x="285.5" y="492.94" font-size="4.6" fill="#555" text-anchor="end">15</text>
<line x1="285.2" y1="491.34" x2="286.6" y2="491.34" stroke="#777" stroke-width="0.3"/>
<text class="t" x="285.5" y="497.24" font-size="4.6" fill="#555" text-anchor="end">10</text>
<line x1="285.2" y1="495.64" x2="286.6" y2="495.64" stroke="#777" stroke-width="0.3"/>
<text class="t" x="285.5" y="501.54" font-size="4.6" fill="#555" text-anchor="end">5</text>
<line x1="285.2" y1="499.94" x2="286.6" y2="499.94" stroke="#777" stroke-width="0.3"/>
<text class="t" x="285.5" y="505.84" font-size="4.6" fill="#555" text-anchor="end">0</text>
<line x1="285.2" y1="504.24" x2="286.6" y2="504.24" stroke="#777" stroke-width="0.3"/>
<path d="M300.2 504.24 C301.32 504.24 306.56 504.36 307.2 504.24 C307.84 504.12 304.9 503.8 304.2 503.5 C303.5 503.21 302.96 502.72 302.8 502.4 C302.64 502.08 303.01 501.85 303.2 501.48 C303.39 501.11 303.87 500.54 304 500.1 C304.13 499.66 304.21 499.16 304 498.72 C303.79 498.28 303.26 497.71 302.7 497.34 C302.14 496.97 300.9 496.57 300.5 496.42 C300.1 496.27 300.3 496.42 300.2 496.42 C300.1 496.42 300.3 496.27 299.9 496.42 C299.5 496.57 298.26 496.97 297.7 497.34 C297.14 497.71 296.61 498.28 296.4 498.72 C296.19 499.16 296.27 499.66 296.4 500.1 C296.53 500.54 297.01 501.11 297.2 501.48 C297.39 501.85 297.76 502.08 297.6 502.4 C297.44 502.72 296.9 503.21 296.2 503.5 C295.5 503.8 292.56 504.12 293.2 504.24 C293.84 504.36 299.08 504.24 300.2 504.24Z" fill="#8a9ecb" stroke="#34425e" stroke-width="0.38"/>
<line x1="300.2" y1="504.24" x2="300.2" y2="495.96" stroke="#111" stroke-width="0.5"/>
<rect x="298.9" y="497.8" width="2.6" height="4.14" fill="#8a9ecb" fill-opacity="0.85" stroke="#222" stroke-width="0.4"/>
<line x1="298.9" y1="499.87" x2="301.5" y2="499.87" stroke="#111" stroke-width="0.7"/>
<path d="M321.98 504.24 C323.58 504.24 330.7 504.39 331.98 504.24 C333.26 504.09 330.94 503.69 329.98 503.32 C329.02 502.95 326.7 502.53 325.98 501.94 C325.26 501.35 325.32 500.3 325.48 499.64 C325.64 498.98 326.1 498.32 326.98 497.8 C327.86 497.28 330.5 496.79 330.98 496.42 C331.46 496.05 331.37 495.79 329.98 495.5 C328.59 495.21 323.56 494.73 322.28 494.58 C321 494.43 322.08 494.58 321.98 494.58 C321.88 494.58 322.96 494.43 321.68 494.58 C320.4 494.73 315.37 495.21 313.98 495.5 C312.59 495.79 312.5 496.05 312.98 496.42 C313.46 496.79 316.1 497.28 316.98 497.8 C317.86 498.32 318.32 498.98 318.48 499.64 C318.64 500.3 318.7 501.35 317.98 501.94 C317.26 502.53 314.94 502.95 313.98 503.32 C313.02 503.69 310.7 504.09 311.98 504.24 C313.26 504.39 320.38 504.24 321.98 504.24Z" fill="#8cdcd2" stroke="#2a6a62" stroke-width="0.38"/>
<line x1="321.98" y1="504.24" x2="321.98" y2="494.58" stroke="#111" stroke-width="0.5"/>
<rect x="320.68" y="495.96" width="2.6" height="6.44" fill="#8cdcd2" fill-opacity="0.85" stroke="#222" stroke-width="0.4"/>
<line x1="320.68" y1="499.18" x2="323.28" y2="499.18" stroke="#111" stroke-width="0.7"/>
<path d="M343.76 497.8 C343.84 497.8 343.62 498.06 344.26 497.8 C344.9 497.54 346.4 496.53 347.76 496.14 C349.12 495.76 351.96 495.64 352.76 495.41 C353.56 495.17 353.72 494.91 352.76 494.67 C351.8 494.44 348.15 494.14 346.76 493.94 C345.37 493.73 344.54 493.47 344.06 493.38 C343.58 493.3 343.86 493.38 343.76 493.38 C343.66 493.38 343.94 493.3 343.46 493.38 C342.98 493.47 342.15 493.73 340.76 493.94 C339.37 494.14 335.72 494.44 334.76 494.67 C333.8 494.91 333.96 495.17 334.76 495.41 C335.56 495.64 338.4 495.76 339.76 496.14 C341.12 496.53 342.62 497.54 343.26 497.8 C343.9 498.06 343.68 497.8 343.76 497.8Z" fill="#c0dcf6" stroke="#4a6a8a" stroke-width="0.38"/>
<line x1="343.76" y1="496.88" x2="343.76" y2="493.66" stroke="#111" stroke-width="0.5"/>
<rect x="342.46" y="494.58" width="2.6" height="0.92" fill="#c0dcf6" fill-opacity="0.85" stroke="#222" stroke-width="0.4"/>
<line x1="342.46" y1="495.04" x2="345.06" y2="495.04" stroke="#111" stroke-width="0.7"/>
<path d="M365.54 503.32 C365.59 503.32 365.71 504.06 365.84 503.32 C365.97 502.58 365.91 499.82 366.34 498.72 C366.77 497.62 367.07 496.94 368.54 496.42 C370.01 495.9 375.06 495.79 375.54 495.5 C376.02 495.21 373.06 494.87 371.54 494.58 C370.02 494.29 367 493.81 366.04 493.66 C365.08 493.51 365.7 493.66 365.54 493.66 C365.38 493.66 366 493.51 365.04 493.66 C364.08 493.81 361.06 494.29 359.54 494.58 C358.02 494.87 355.06 495.21 355.54 495.5 C356.02 495.79 361.07 495.9 362.54 496.42 C364.01 496.94 364.31 497.62 364.74 498.72 C365.17 499.82 365.11 502.58 365.24 503.32 C365.37 504.06 365.49 503.32 365.54 503.32Z" fill="#eda0a2" stroke="#7a3a3a" stroke-width="0.38"/>
<line x1="365.54" y1="504.24" x2="365.54" y2="493.2" stroke="#111" stroke-width="0.5"/>
<rect x="364.24" y="494.58" width="2.6" height="1.38" fill="#eda0a2" fill-opacity="0.85" stroke="#222" stroke-width="0.4"/>
<line x1="364.24" y1="495.27" x2="366.84" y2="495.27" stroke="#111" stroke-width="0.7"/>
<path d="M387.32 503.32 C387.37 503.32 387.49 504.06 387.62 503.32 C387.75 502.58 387.69 499.82 388.12 498.72 C388.55 497.62 388.85 496.94 390.32 496.42 C391.79 495.9 396.84 495.79 397.32 495.5 C397.8 495.21 394.84 494.87 393.32 494.58 C391.8 494.29 388.78 493.81 387.82 493.66 C386.86 493.51 387.48 493.66 387.32 493.66 C387.16 493.66 387.78 493.51 386.82 493.66 C385.86 493.81 382.84 494.29 381.32 494.58 C379.8 494.87 376.84 495.21 377.32 495.5 C377.8 495.79 382.85 495.9 384.32 496.42 C385.79 496.94 386.09 497.62 386.52 498.72 C386.95 499.82 386.89 502.58 387.02 503.32 C387.15 504.06 387.27 503.32 387.32 503.32Z" fill="#f6c4c6" stroke="#8a5a5a" stroke-width="0.38"/>
<line x1="387.32" y1="504.24" x2="387.32" y2="493.2" stroke="#111" stroke-width="0.5"/>
<rect x="386.02" y="494.58" width="2.6" height="1.38" fill="#f6c4c6" fill-opacity="0.85" stroke="#222" stroke-width="0.4"/>
<line x1="386.02" y1="495.27" x2="388.62" y2="495.27" stroke="#111" stroke-width="0.7"/>
<path d="M409.1 504.24 C409.18 504.24 409.36 504.68 409.6 504.24 C409.84 503.8 410.2 502.36 410.6 501.48 C411 500.6 411.54 499.46 412.1 498.72 C412.66 497.98 412.98 497.4 414.1 496.88 C415.22 496.36 418.94 495.87 419.1 495.5 C419.26 495.13 416.65 494.87 415.1 494.58 C413.55 494.29 410.36 493.81 409.4 493.66 C408.44 493.51 409.2 493.66 409.1 493.66 C409 493.66 409.76 493.51 408.8 493.66 C407.84 493.81 404.65 494.29 403.1 494.58 C401.55 494.87 398.94 495.13 399.1 495.5 C399.26 495.87 402.98 496.36 404.1 496.88 C405.22 497.4 405.54 497.98 406.1 498.72 C406.66 499.46 407.2 500.6 407.6 501.48 C408 502.36 408.36 503.8 408.6 504.24 C408.84 504.68 409.02 504.24 409.1 504.24Z" fill="#f8b67c" stroke="#8a5020" stroke-width="0.38"/>
<line x1="409.1" y1="504.24" x2="409.1" y2="493.66" stroke="#111" stroke-width="0.5"/>
<rect x="407.8" y="494.58" width="2.6" height="5.06" fill="#f8b67c" fill-opacity="0.85" stroke="#222" stroke-width="0.4"/>
<line x1="407.8" y1="497.11" x2="410.4" y2="497.11" stroke="#111" stroke-width="0.7"/>
<path d="M430.88 504.24 C432.48 504.24 439.76 504.39 440.88 504.24 C442 504.09 438.84 503.61 437.88 503.32 C436.92 503.03 435.36 502.84 434.88 502.4 C434.4 501.96 434.72 501.15 434.88 500.56 C435.04 499.97 435.24 499.24 435.88 498.72 C436.52 498.2 438.88 497.71 438.88 497.34 C438.88 496.97 437.11 496.64 435.88 496.42 C434.65 496.2 431.98 496.03 431.18 495.96 C430.38 495.89 430.98 495.96 430.88 495.96 C430.78 495.96 431.38 495.89 430.58 495.96 C429.78 496.03 427.11 496.2 425.88 496.42 C424.65 496.64 422.88 496.97 422.88 497.34 C422.88 497.71 425.24 498.2 425.88 498.72 C426.52 499.24 426.72 499.97 426.88 500.56 C427.04 501.15 427.36 501.96 426.88 502.4 C426.4 502.84 424.84 503.03 423.88 503.32 C422.92 503.61 419.76 504.09 420.88 504.24 C422 504.39 429.28 504.24 430.88 504.24Z" fill="#b88a7c" stroke="#5a3a30" stroke-width="0.38"/>
<line x1="430.88" y1="504.24" x2="430.88" y2="495.96" stroke="#111" stroke-width="0.5"/>
<rect x="429.58" y="497.34" width="2.6" height="5.06" fill="#b88a7c" fill-opacity="0.85" stroke="#222" stroke-width="0.4"/>
<line x1="429.58" y1="499.87" x2="432.18" y2="499.87" stroke="#111" stroke-width="0.7"/>
<path d="M452.66 504.24 C454.18 504.24 461.52 504.31 462.16 504.24 C462.8 504.17 458.12 503.93 456.66 503.78 C455.2 503.63 453.7 503.39 453.06 503.32 C452.42 503.25 452.79 503.32 452.66 503.32 C452.53 503.32 452.9 503.25 452.26 503.32 C451.62 503.39 450.12 503.63 448.66 503.78 C447.2 503.93 442.52 504.17 443.16 504.24 C443.8 504.31 451.14 504.24 452.66 504.24Z" fill="#98d294" stroke="#4a4a4a" stroke-width="0.45"/>
<line x1="452.66" y1="504.24" x2="452.66" y2="503.32" stroke="#111" stroke-width="0.8"/>
<circle cx="452.66" cy="503.32" r="0.8" fill="#111"/>
<rect x="451.76" y="503.04" width="1.8" height="1.2" fill="#111"/>
<path d="M474.44 504.24 C475.96 504.24 483.3 504.31 483.94 504.24 C484.58 504.17 479.9 503.93 478.44 503.78 C476.98 503.63 475.48 503.39 474.84 503.32 C474.2 503.25 474.57 503.32 474.44 503.32 C474.31 503.32 474.68 503.25 474.04 503.32 C473.4 503.39 471.9 503.63 470.44 503.78 C468.98 503.93 464.3 504.17 464.94 504.24 C465.58 504.31 472.92 504.24 474.44 504.24Z" fill="#c4c4c4" stroke="#4a4a4a" stroke-width="0.45"/>
<line x1="474.44" y1="504.24" x2="474.44" y2="500.56" stroke="#111" stroke-width="0.8"/>
<circle cx="474.44" cy="500.56" r="0.8" fill="#111"/>
<circle cx="474.44" cy="501.66" r="0.75" fill="#111"/>
<rect x="473.54" y="503.04" width="1.8" height="1.2" fill="#111"/>
<path d="M496.22 504.24 C497.74 504.24 505.08 504.31 505.72 504.24 C506.36 504.17 501.68 503.93 500.22 503.78 C498.76 503.63 497.26 503.39 496.62 503.32 C495.98 503.25 496.35 503.32 496.22 503.32 C496.09 503.32 496.46 503.25 495.82 503.32 C495.18 503.39 493.68 503.63 492.22 503.78 C490.76 503.93 486.08 504.17 486.72 504.24 C487.36 504.31 494.7 504.24 496.22 504.24Z" fill="#f4f29a" stroke="#4a4a4a" stroke-width="0.45"/>
<line x1="496.22" y1="504.24" x2="496.22" y2="502.86" stroke="#111" stroke-width="0.8"/>
<circle cx="496.22" cy="502.86" r="0.8" fill="#111"/>
<rect x="495.32" y="503.04" width="1.8" height="1.2" fill="#111"/>
<text x="508.9" y="495.94" font-size="8.8" font-style="italic" text-anchor="end" fill="#1a1a1a" textLength="15.2" lengthAdjust="spacingAndGlyphs">Dll4</text>
<rect x="287" y="507.52" width="223.2" height="18.9" fill="#fff" stroke="#d0d0d0" stroke-width="0.6"/>
<rect x="287.3" y="524.62" width="222.6" height="1.5" fill="#d9d9d9"/>
<text class="t" x="285.5" y="513.22" font-size="4.6" fill="#555" text-anchor="end">15</text>
<line x1="285.2" y1="511.62" x2="286.6" y2="511.62" stroke="#777" stroke-width="0.3"/>
<text class="t" x="285.5" y="517.52" font-size="4.6" fill="#555" text-anchor="end">10</text>
<line x1="285.2" y1="515.92" x2="286.6" y2="515.92" stroke="#777" stroke-width="0.3"/>
<text class="t" x="285.5" y="521.82" font-size="4.6" fill="#555" text-anchor="end">5</text>
<line x1="285.2" y1="520.22" x2="286.6" y2="520.22" stroke="#777" stroke-width="0.3"/>
<text class="t" x="285.5" y="526.12" font-size="4.6" fill="#555" text-anchor="end">0</text>
<line x1="285.2" y1="524.52" x2="286.6" y2="524.52" stroke="#777" stroke-width="0.3"/>
<path d="M300.2 518.08 C300.25 518.08 300.18 518.37 300.5 518.08 C300.82 517.79 300.65 516.68 302.2 516.24 C303.75 515.8 310.2 515.61 310.2 515.32 C310.2 515.03 303.75 514.69 302.2 514.4 C300.65 514.11 300.82 513.63 300.5 513.48 C300.18 513.33 300.3 513.48 300.2 513.48 C300.1 513.48 300.22 513.33 299.9 513.48 C299.58 513.63 299.75 514.11 298.2 514.4 C296.65 514.69 290.2 515.03 290.2 515.32 C290.2 515.61 296.65 515.8 298.2 516.24 C299.75 516.68 299.58 517.79 299.9 518.08 C300.22 518.37 300.15 518.08 300.2 518.08Z" fill="#8a9ecb" stroke="#34425e" stroke-width="0.38"/>
<line x1="300.2" y1="518.08" x2="300.2" y2="513.48" stroke="#111" stroke-width="0.5"/>
<rect x="298.9" y="514.86" width="2.6" height="0.92" fill="#8a9ecb" fill-opacity="0.85" stroke="#222" stroke-width="0.4"/>
<line x1="298.9" y1="515.32" x2="301.5" y2="515.32" stroke="#111" stroke-width="0.7"/>
<path d="M321.98 519.92 C322.03 519.92 321.96 520.21 322.28 519.92 C322.6 519.63 323.23 518.67 323.98 518.08 C324.73 517.49 325.7 516.68 326.98 516.24 C328.26 515.8 332.46 515.61 331.98 515.32 C331.5 515.03 325.53 514.69 323.98 514.4 C322.43 514.11 322.6 513.63 322.28 513.48 C321.96 513.33 322.08 513.48 321.98 513.48 C321.88 513.48 322 513.33 321.68 513.48 C321.36 513.63 321.53 514.11 319.98 514.4 C318.43 514.69 312.46 515.03 311.98 515.32 C311.5 515.61 315.7 515.8 316.98 516.24 C318.26 516.68 319.23 517.49 319.98 518.08 C320.73 518.67 321.36 519.63 321.68 519.92 C322 520.21 321.93 519.92 321.98 519.92Z" fill="#8cdcd2" stroke="#2a6a62" stroke-width="0.38"/>
<line x1="321.98" y1="519" x2="321.98" y2="513.48" stroke="#111" stroke-width="0.5"/>
<rect x="320.68" y="514.86" width="2.6" height="1.38" fill="#8cdcd2" fill-opacity="0.85" stroke="#222" stroke-width="0.4"/>
<line x1="320.68" y1="515.55" x2="323.28" y2="515.55" stroke="#111" stroke-width="0.7"/>
<path d="M343.76 516.24 C343.81 516.24 343.58 516.46 344.06 516.24 C344.54 516.02 345.37 515.15 346.76 514.86 C348.15 514.57 352.76 514.55 352.76 514.4 C352.76 514.25 348.15 514.09 346.76 513.94 C345.37 513.79 344.54 513.55 344.06 513.48 C343.58 513.41 343.86 513.48 343.76 513.48 C343.66 513.48 343.94 513.41 343.46 513.48 C342.98 513.55 342.15 513.79 340.76 513.94 C339.37 514.09 334.76 514.25 334.76 514.4 C334.76 514.55 339.37 514.57 340.76 514.86 C342.15 515.15 342.98 516.02 343.46 516.24 C343.94 516.46 343.71 516.24 343.76 516.24Z" fill="#c0dcf6" stroke="#4a6a8a" stroke-width="0.38"/>
<line x1="343.76" y1="516.24" x2="343.76" y2="513.48" stroke="#111" stroke-width="0.5"/>
<rect x="342.46" y="514.12" width="2.6" height="0.74" fill="#c0dcf6" fill-opacity="0.85" stroke="#222" stroke-width="0.4"/>
<line x1="342.46" y1="514.49" x2="345.06" y2="514.49" stroke="#111" stroke-width="0.7"/>
<path d="M365.54 515.78 C365.59 515.78 364.4 516 365.84 515.78 C367.28 515.56 374.54 514.77 374.54 514.4 C374.54 514.03 367.28 513.63 365.84 513.48 C364.4 513.33 365.64 513.48 365.54 513.48 C365.44 513.48 366.68 513.33 365.24 513.48 C363.8 513.63 356.54 514.03 356.54 514.4 C356.54 514.77 363.8 515.56 365.24 515.78 C366.68 516 365.49 515.78 365.54 515.78Z" fill="#eda0a2" stroke="#7a3a3a" stroke-width="0.38"/>
<line x1="365.54" y1="515.78" x2="365.54" y2="513.48" stroke="#111" stroke-width="0.5"/>
<rect x="364.24" y="514.03" width="2.6" height="0.74" fill="#eda0a2" fill-opacity="0.85" stroke="#222" stroke-width="0.4"/>
<line x1="364.24" y1="514.4" x2="366.84" y2="514.4" stroke="#111" stroke-width="0.7"/>
<path d="M387.32 516.24 C387.37 516.24 386.34 516.39 387.62 516.24 C388.9 516.09 395.32 515.61 395.32 515.32 C395.32 515.03 388.9 514.55 387.62 514.4 C386.34 514.25 387.42 514.4 387.32 514.4 C387.22 514.4 388.3 514.25 387.02 514.4 C385.74 514.55 379.32 515.03 379.32 515.32 C379.32 515.61 385.74 516.09 387.02 516.24 C388.3 516.39 387.27 516.24 387.32 516.24Z" fill="#f6c4c6" stroke="#8a5a5a" stroke-width="0.38"/>
<line x1="387.32" y1="518.08" x2="387.32" y2="514.4" stroke="#111" stroke-width="0.5"/>
<rect x="386.02" y="514.95" width="2.6" height="0.74" fill="#f6c4c6" fill-opacity="0.85" stroke="#222" stroke-width="0.4"/>
<line x1="386.02" y1="515.32" x2="388.62" y2="515.32" stroke="#111" stroke-width="0.7"/>
<path d="M409.1 516.7 C409.15 516.7 407.96 516.92 409.4 516.7 C410.84 516.48 418.1 515.69 418.1 515.32 C418.1 514.95 410.84 514.55 409.4 514.4 C407.96 514.25 409.2 514.4 409.1 514.4 C409 514.4 410.24 514.25 408.8 514.4 C407.36 514.55 400.1 514.95 400.1 515.32 C400.1 515.69 407.36 516.48 408.8 516.7 C410.24 516.92 409.05 516.7 409.1 516.7Z" fill="#f8b67c" stroke="#8a5020" stroke-width="0.38"/>
<line x1="409.1" y1="516.7" x2="409.1" y2="514.4" stroke="#111" stroke-width="0.5"/>
<rect x="407.8" y="514.86" width="2.6" height="0.92" fill="#f8b67c" fill-opacity="0.85" stroke="#222" stroke-width="0.4"/>
<line x1="407.8" y1="515.32" x2="410.4" y2="515.32" stroke="#111" stroke-width="0.7"/>
<path d="M430.88 517.16 C430.93 517.16 429.9 517.31 431.18 517.16 C432.46 517.01 438.88 516.53 438.88 516.24 C438.88 515.95 432.46 515.47 431.18 515.32 C429.9 515.17 430.98 515.32 430.88 515.32 C430.78 515.32 431.86 515.17 430.58 515.32 C429.3 515.47 422.88 515.95 422.88 516.24 C422.88 516.53 429.3 517.01 430.58 517.16 C431.86 517.31 430.83 517.16 430.88 517.16Z" fill="#b88a7c" stroke="#5a3a30" stroke-width="0.38"/>
<line x1="430.88" y1="517.16" x2="430.88" y2="515.32" stroke="#111" stroke-width="0.5"/>
<rect x="429.58" y="515.87" width="2.6" height="0.74" fill="#b88a7c" fill-opacity="0.85" stroke="#222" stroke-width="0.4"/>
<line x1="429.58" y1="516.24" x2="432.18" y2="516.24" stroke="#111" stroke-width="0.7"/>
<path d="M452.66 524.52 C452.82 524.52 453.34 524.81 453.66 524.52 C453.98 524.23 454.18 523.27 454.66 522.68 C455.14 522.09 456.02 521.43 456.66 520.84 C457.3 520.25 457.7 519.52 458.66 519 C459.62 518.48 463.14 517.99 462.66 517.62 C462.18 517.25 457.21 516.92 455.66 516.7 C454.11 516.48 453.44 516.31 452.96 516.24 C452.48 516.17 452.76 516.24 452.66 516.24 C452.56 516.24 452.84 516.17 452.36 516.24 C451.88 516.31 451.21 516.48 449.66 516.7 C448.11 516.92 443.14 517.25 442.66 517.62 C442.18 517.99 445.7 518.48 446.66 519 C447.62 519.52 448.02 520.25 448.66 520.84 C449.3 521.43 450.18 522.09 450.66 522.68 C451.14 523.27 451.34 524.23 451.66 524.52 C451.98 524.81 452.5 524.52 452.66 524.52Z" fill="#98d294" stroke="#3a6a3a" stroke-width="0.38"/>
<line x1="452.66" y1="524.52" x2="452.66" y2="516.24" stroke="#111" stroke-width="0.5"/>
<rect x="451.36" y="517.16" width="2.6" height="3.68" fill="#98d294" fill-opacity="0.85" stroke="#222" stroke-width="0.4"/>
<line x1="451.36" y1="519" x2="453.96" y2="519" stroke="#111" stroke-width="0.7"/>
<path d="M474.44 524.52 C475.96 524.52 483.3 524.59 483.94 524.52 C484.58 524.45 479.9 524.21 478.44 524.06 C476.98 523.91 475.48 523.67 474.84 523.6 C474.2 523.53 474.57 523.6 474.44 523.6 C474.31 523.6 474.68 523.53 474.04 523.6 C473.4 523.67 471.9 523.91 470.44 524.06 C468.98 524.21 464.3 524.45 464.94 524.52 C465.58 524.59 472.92 524.52 474.44 524.52Z" fill="#c4c4c4" stroke="#4a4a4a" stroke-width="0.45"/>
<line x1="474.44" y1="524.52" x2="474.44" y2="520.84" stroke="#111" stroke-width="0.8"/>
<circle cx="474.44" cy="520.84" r="0.8" fill="#111"/>
<circle cx="474.44" cy="521.94" r="0.75" fill="#111"/>
<rect x="473.54" y="523.32" width="1.8" height="1.2" fill="#111"/>
<path d="M496.22 524.52 C497.74 524.52 505.08 524.59 505.72 524.52 C506.36 524.45 501.68 524.21 500.22 524.06 C498.76 523.91 497.26 523.67 496.62 523.6 C495.98 523.53 496.35 523.6 496.22 523.6 C496.09 523.6 496.46 523.53 495.82 523.6 C495.18 523.67 493.68 523.91 492.22 524.06 C490.76 524.21 486.08 524.45 486.72 524.52 C487.36 524.59 494.7 524.52 496.22 524.52Z" fill="#f4f29a" stroke="#4a4a4a" stroke-width="0.45"/>
<line x1="496.22" y1="524.52" x2="496.22" y2="520.84" stroke="#111" stroke-width="0.8"/>
<circle cx="496.22" cy="520.84" r="0.8" fill="#111"/>
<circle cx="496.22" cy="521.94" r="0.75" fill="#111"/>
<rect x="495.32" y="523.32" width="1.8" height="1.2" fill="#111"/>
<text x="508.9" y="516.22" font-size="8.8" font-style="italic" text-anchor="end" fill="#1a1a1a" textLength="20" lengthAdjust="spacingAndGlyphs">Cdh5</text>
<rect x="287" y="527.8" width="223.2" height="18.9" fill="#fff" stroke="#d0d0d0" stroke-width="0.6"/>
<rect x="287.3" y="544.9" width="222.6" height="1.5" fill="#d9d9d9"/>
<text class="t" x="285.5" y="533.5" font-size="4.6" fill="#555" text-anchor="end">15</text>
<line x1="285.2" y1="531.9" x2="286.6" y2="531.9" stroke="#777" stroke-width="0.3"/>
<text class="t" x="285.5" y="537.8" font-size="4.6" fill="#555" text-anchor="end">10</text>
<line x1="285.2" y1="536.2" x2="286.6" y2="536.2" stroke="#777" stroke-width="0.3"/>
<text class="t" x="285.5" y="542.1" font-size="4.6" fill="#555" text-anchor="end">5</text>
<line x1="285.2" y1="540.5" x2="286.6" y2="540.5" stroke="#777" stroke-width="0.3"/>
<text class="t" x="285.5" y="546.4" font-size="4.6" fill="#555" text-anchor="end">0</text>
<line x1="285.2" y1="544.8" x2="286.6" y2="544.8" stroke="#777" stroke-width="0.3"/>
<path d="M300.2 544.8 C301.72 544.8 309.06 544.87 309.7 544.8 C310.34 544.73 305.66 544.49 304.2 544.34 C302.74 544.19 301.24 543.95 300.6 543.88 C299.96 543.81 300.33 543.88 300.2 543.88 C300.07 543.88 300.44 543.81 299.8 543.88 C299.16 543.95 297.66 544.19 296.2 544.34 C294.74 544.49 290.06 544.73 290.7 544.8 C291.34 544.87 298.68 544.8 300.2 544.8Z" fill="#8a9ecb" stroke="#4a4a4a" stroke-width="0.45"/>
<line x1="300.2" y1="544.8" x2="300.2" y2="536.52" stroke="#111" stroke-width="0.8"/>
<circle cx="300.2" cy="536.52" r="0.8" fill="#111"/>
<circle cx="300.2" cy="539" r="0.75" fill="#111"/>
<rect x="299.3" y="543.6" width="1.8" height="1.2" fill="#111"/>
<path d="M321.98 544.8 C323.58 544.8 330.7 544.95 331.98 544.8 C333.26 544.65 330.94 544.25 329.98 543.88 C329.02 543.51 326.7 543.09 325.98 542.5 C325.26 541.91 325.16 540.79 325.48 540.2 C325.8 539.61 327.1 539.26 327.98 538.82 C328.86 538.38 331.14 537.81 330.98 537.44 C330.82 537.07 328.37 536.74 326.98 536.52 C325.59 536.3 323.08 536.13 322.28 536.06 C321.48 535.99 322.08 536.06 321.98 536.06 C321.88 536.06 322.48 535.99 321.68 536.06 C320.88 536.13 318.37 536.3 316.98 536.52 C315.59 536.74 313.14 537.07 312.98 537.44 C312.82 537.81 315.1 538.38 315.98 538.82 C316.86 539.26 318.16 539.61 318.48 540.2 C318.8 540.79 318.7 541.91 317.98 542.5 C317.26 543.09 314.94 543.51 313.98 543.88 C313.02 544.25 310.7 544.65 311.98 544.8 C313.26 544.95 320.38 544.8 321.98 544.8Z" fill="#8cdcd2" stroke="#2a6a62" stroke-width="0.38"/>
<line x1="321.98" y1="544.8" x2="321.98" y2="536.06" stroke="#111" stroke-width="0.5"/>
<rect x="320.68" y="537.44" width="2.6" height="5.52" fill="#8cdcd2" fill-opacity="0.85" stroke="#222" stroke-width="0.4"/>
<line x1="320.68" y1="540.2" x2="323.28" y2="540.2" stroke="#111" stroke-width="0.7"/>
<path d="M343.76 544.8 C344 544.8 344.94 545.09 345.26 544.8 C345.58 544.51 345.52 543.55 345.76 542.96 C346 542.37 346.44 541.71 346.76 541.12 C347.08 540.53 347.12 539.87 347.76 539.28 C348.4 538.69 349.8 537.88 350.76 537.44 C351.72 537 354.24 536.81 353.76 536.52 C353.28 536.23 349.31 535.82 347.76 535.6 C346.21 535.38 344.7 535.21 344.06 535.14 C343.42 535.07 343.86 535.14 343.76 535.14 C343.66 535.14 344.1 535.07 343.46 535.14 C342.82 535.21 341.31 535.38 339.76 535.6 C338.21 535.82 334.24 536.23 333.76 536.52 C333.28 536.81 335.8 537 336.76 537.44 C337.72 537.88 339.12 538.69 339.76 539.28 C340.4 539.87 340.44 540.53 340.76 541.12 C341.08 541.71 341.52 542.37 341.76 542.96 C342 543.55 341.94 544.51 342.26 544.8 C342.58 545.09 343.52 544.8 343.76 544.8Z" fill="#c0dcf6" stroke="#4a6a8a" stroke-width="0.38"/>
<line x1="343.76" y1="544.8" x2="343.76" y2="535.14" stroke="#111" stroke-width="0.5"/>
<rect x="342.46" y="536.06" width="2.6" height="3.22" fill="#c0dcf6" fill-opacity="0.85" stroke="#222" stroke-width="0.4"/>
<line x1="342.46" y1="537.67" x2="345.06" y2="537.67" stroke="#111" stroke-width="0.7"/>
<path d="M365.54 541.12 C365.59 541.12 365.52 541.56 365.84 541.12 C366.16 540.68 366.79 539.1 367.54 538.36 C368.29 537.62 369.26 536.96 370.54 536.52 C371.82 536.08 375.7 535.89 375.54 535.6 C375.38 535.31 371.09 534.97 369.54 534.68 C367.99 534.39 366.48 533.91 365.84 533.76 C365.2 533.61 365.64 533.76 365.54 533.76 C365.44 533.76 365.88 533.61 365.24 533.76 C364.6 533.91 363.09 534.39 361.54 534.68 C359.99 534.97 355.7 535.31 355.54 535.6 C355.38 535.89 359.26 536.08 360.54 536.52 C361.82 536.96 362.79 537.62 363.54 538.36 C364.29 539.1 364.92 540.68 365.24 541.12 C365.56 541.56 365.49 541.12 365.54 541.12Z" fill="#eda0a2" stroke="#7a3a3a" stroke-width="0.38"/>
<line x1="365.54" y1="540.2" x2="365.54" y2="533.76" stroke="#111" stroke-width="0.5"/>
<rect x="364.24" y="535.05" width="2.6" height="1.47" fill="#eda0a2" fill-opacity="0.85" stroke="#222" stroke-width="0.4"/>
<line x1="364.24" y1="535.78" x2="366.84" y2="535.78" stroke="#111" stroke-width="0.7"/>
<path d="M387.32 540.2 C387.37 540.2 387.14 540.64 387.62 540.2 C388.1 539.76 388.77 538.18 390.32 537.44 C391.87 536.7 397.16 536.04 397.32 535.6 C397.48 535.16 392.87 534.97 391.32 534.68 C389.77 534.39 388.26 533.91 387.62 533.76 C386.98 533.61 387.42 533.76 387.32 533.76 C387.22 533.76 387.66 533.61 387.02 533.76 C386.38 533.91 384.87 534.39 383.32 534.68 C381.77 534.97 377.16 535.16 377.32 535.6 C377.48 536.04 382.77 536.7 384.32 537.44 C385.87 538.18 386.54 539.76 387.02 540.2 C387.5 540.64 387.27 540.2 387.32 540.2Z" fill="#f6c4c6" stroke="#8a5a5a" stroke-width="0.38"/>
<line x1="387.32" y1="540.2" x2="387.32" y2="533.76" stroke="#111" stroke-width="0.5"/>
<rect x="386.02" y="534.96" width="2.6" height="1.29" fill="#f6c4c6" fill-opacity="0.85" stroke="#222" stroke-width="0.4"/>
<line x1="386.02" y1="535.6" x2="388.62" y2="535.6" stroke="#111" stroke-width="0.7"/>
<path d="M409.1 544.8 C409.15 544.8 409.24 545.39 409.4 544.8 C409.56 544.21 409.67 542.3 410.1 541.12 C410.53 539.94 410.66 538.32 412.1 537.44 C413.54 536.56 419.1 536.04 419.1 535.6 C419.1 535.16 413.65 534.9 412.1 534.68 C410.55 534.46 409.88 534.29 409.4 534.22 C408.92 534.15 409.2 534.22 409.1 534.22 C409 534.22 409.28 534.15 408.8 534.22 C408.32 534.29 407.65 534.46 406.1 534.68 C404.55 534.9 399.1 535.16 399.1 535.6 C399.1 536.04 404.66 536.56 406.1 537.44 C407.54 538.32 407.67 539.94 408.1 541.12 C408.53 542.3 408.64 544.21 408.8 544.8 C408.96 545.39 409.05 544.8 409.1 544.8Z" fill="#f8b67c" stroke="#8a5020" stroke-width="0.38"/>
<line x1="409.1" y1="544.8" x2="409.1" y2="534.22" stroke="#111" stroke-width="0.5"/>
<rect x="407.8" y="535.14" width="2.6" height="2.3" fill="#f8b67c" fill-opacity="0.85" stroke="#222" stroke-width="0.4"/>
<line x1="407.8" y1="536.29" x2="410.4" y2="536.29" stroke="#111" stroke-width="0.7"/>
<path d="M430.88 542.96 C430.93 542.96 431.02 543.55 431.18 542.96 C431.34 542.37 431.45 540.16 431.88 539.28 C432.31 538.4 432.6 537.88 433.88 537.44 C435.16 537 439.88 536.81 439.88 536.52 C439.88 536.23 435.27 535.82 433.88 535.6 C432.49 535.38 431.66 535.21 431.18 535.14 C430.7 535.07 430.98 535.14 430.88 535.14 C430.78 535.14 431.06 535.07 430.58 535.14 C430.1 535.21 429.27 535.38 427.88 535.6 C426.49 535.82 421.88 536.23 421.88 536.52 C421.88 536.81 426.6 537 427.88 537.44 C429.16 537.88 429.45 538.4 429.88 539.28 C430.31 540.16 430.42 542.37 430.58 542.96 C430.74 543.55 430.83 542.96 430.88 542.96Z" fill="#b88a7c" stroke="#5a3a30" stroke-width="0.38"/>
<line x1="430.88" y1="544.8" x2="430.88" y2="535.14" stroke="#111" stroke-width="0.5"/>
<rect x="429.58" y="535.88" width="2.6" height="1.56" fill="#b88a7c" fill-opacity="0.85" stroke="#222" stroke-width="0.4"/>
<line x1="429.58" y1="536.66" x2="432.18" y2="536.66" stroke="#111" stroke-width="0.7"/>
<path d="M452.66 544.8 C454.26 544.8 461.7 544.92 462.66 544.8 C463.62 544.68 459.46 544.36 458.66 544.06 C457.86 543.77 457.82 543.43 457.66 542.96 C457.5 542.49 457.66 541.71 457.66 541.12 C457.66 540.53 457.82 539.8 457.66 539.28 C457.5 538.76 457.14 538.27 456.66 537.9 C456.18 537.53 455.25 537.2 454.66 536.98 C454.07 536.76 453.28 536.59 452.96 536.52 C452.64 536.45 452.76 536.52 452.66 536.52 C452.56 536.52 452.68 536.45 452.36 536.52 C452.04 536.59 451.25 536.76 450.66 536.98 C450.07 537.2 449.14 537.53 448.66 537.9 C448.18 538.27 447.82 538.76 447.66 539.28 C447.5 539.8 447.66 540.53 447.66 541.12 C447.66 541.71 447.82 542.49 447.66 542.96 C447.5 543.43 447.46 543.77 446.66 544.06 C445.86 544.36 441.7 544.68 442.66 544.8 C443.62 544.92 451.06 544.8 452.66 544.8Z" fill="#98d294" stroke="#3a6a3a" stroke-width="0.38"/>
<line x1="452.66" y1="544.8" x2="452.66" y2="536.52" stroke="#111" stroke-width="0.5"/>
<rect x="451.36" y="538.36" width="2.6" height="4.6" fill="#98d294" fill-opacity="0.85" stroke="#222" stroke-width="0.4"/>
<line x1="451.36" y1="540.66" x2="453.96" y2="540.66" stroke="#111" stroke-width="0.7"/>
<path d="M474.44 544.8 C475.96 544.8 483.3 544.87 483.94 544.8 C484.58 544.73 479.9 544.49 478.44 544.34 C476.98 544.19 475.48 543.95 474.84 543.88 C474.2 543.81 474.57 543.88 474.44 543.88 C474.31 543.88 474.68 543.81 474.04 543.88 C473.4 543.95 471.9 544.19 470.44 544.34 C468.98 544.49 464.3 544.73 464.94 544.8 C465.58 544.87 472.92 544.8 474.44 544.8Z" fill="#c4c4c4" stroke="#4a4a4a" stroke-width="0.45"/>
<line x1="474.44" y1="544.8" x2="474.44" y2="542.96" stroke="#111" stroke-width="0.8"/>
<circle cx="474.44" cy="542.96" r="0.8" fill="#111"/>
<rect x="473.54" y="543.6" width="1.8" height="1.2" fill="#111"/>
<path d="M496.22 544.8 C497.74 544.8 505.08 544.87 505.72 544.8 C506.36 544.73 501.68 544.49 500.22 544.34 C498.76 544.19 497.26 543.95 496.62 543.88 C495.98 543.81 496.35 543.88 496.22 543.88 C496.09 543.88 496.46 543.81 495.82 543.88 C495.18 543.95 493.68 544.19 492.22 544.34 C490.76 544.49 486.08 544.73 486.72 544.8 C487.36 544.87 494.7 544.8 496.22 544.8Z" fill="#f4f29a" stroke="#4a4a4a" stroke-width="0.45"/>
<line x1="496.22" y1="544.8" x2="496.22" y2="542.96" stroke="#111" stroke-width="0.8"/>
<circle cx="496.22" cy="542.96" r="0.8" fill="#111"/>
<rect x="495.32" y="543.6" width="1.8" height="1.2" fill="#111"/>
<text x="508.9" y="536.5" font-size="8.8" font-style="italic" text-anchor="end" fill="#1a1a1a" textLength="16.5" lengthAdjust="spacingAndGlyphs">Vwf</text>
<rect x="287" y="548.08" width="223.2" height="18.9" fill="#fff" stroke="#d0d0d0" stroke-width="0.6"/>
<rect x="287.3" y="565.18" width="222.6" height="1.5" fill="#d9d9d9"/>
<text class="t" x="285.5" y="553.78" font-size="4.6" fill="#555" text-anchor="end">15</text>
<line x1="285.2" y1="552.18" x2="286.6" y2="552.18" stroke="#777" stroke-width="0.3"/>
<text class="t" x="285.5" y="558.08" font-size="4.6" fill="#555" text-anchor="end">10</text>
<line x1="285.2" y1="556.48" x2="286.6" y2="556.48" stroke="#777" stroke-width="0.3"/>
<text class="t" x="285.5" y="562.38" font-size="4.6" fill="#555" text-anchor="end">5</text>
<line x1="285.2" y1="560.78" x2="286.6" y2="560.78" stroke="#777" stroke-width="0.3"/>
<text class="t" x="285.5" y="566.68" font-size="4.6" fill="#555" text-anchor="end">0</text>
<line x1="285.2" y1="565.08" x2="286.6" y2="565.08" stroke="#777" stroke-width="0.3"/>
<path d="M300.2 565.08 C301.72 565.08 309.06 565.15 309.7 565.08 C310.34 565.01 305.66 564.77 304.2 564.62 C302.74 564.47 301.24 564.23 300.6 564.16 C299.96 564.09 300.33 564.16 300.2 564.16 C300.07 564.16 300.44 564.09 299.8 564.16 C299.16 564.23 297.66 564.47 296.2 564.62 C294.74 564.77 290.06 565.01 290.7 565.08 C291.34 565.15 298.68 565.08 300.2 565.08Z" fill="#8a9ecb" stroke="#4a4a4a" stroke-width="0.45"/>
<line x1="300.2" y1="565.08" x2="300.2" y2="558.64" stroke="#111" stroke-width="0.8"/>
<circle cx="300.2" cy="558.64" r="0.8" fill="#111"/>
<circle cx="300.2" cy="560.57" r="0.75" fill="#111"/>
<rect x="299.3" y="563.88" width="1.8" height="1.2" fill="#111"/>
<path d="M321.98 565.08 C323.5 565.08 330.84 565.15 331.48 565.08 C332.12 565.01 327.44 564.77 325.98 564.62 C324.52 564.47 323.02 564.23 322.38 564.16 C321.74 564.09 322.11 564.16 321.98 564.16 C321.85 564.16 322.22 564.09 321.58 564.16 C320.94 564.23 319.44 564.47 317.98 564.62 C316.52 564.77 311.84 565.01 312.48 565.08 C313.12 565.15 320.46 565.08 321.98 565.08Z" fill="#8cdcd2" stroke="#4a4a4a" stroke-width="0.45"/>
<line x1="321.98" y1="565.08" x2="321.98" y2="560.48" stroke="#111" stroke-width="0.8"/>
<circle cx="321.98" cy="560.48" r="0.8" fill="#111"/>
<circle cx="321.98" cy="561.86" r="0.75" fill="#111"/>
<rect x="321.08" y="563.88" width="1.8" height="1.2" fill="#111"/>
<path d="M343.76 565.08 C345.28 565.08 352.62 565.15 353.26 565.08 C353.9 565.01 349.22 564.77 347.76 564.62 C346.3 564.47 344.8 564.23 344.16 564.16 C343.52 564.09 343.89 564.16 343.76 564.16 C343.63 564.16 344 564.09 343.36 564.16 C342.72 564.23 341.22 564.47 339.76 564.62 C338.3 564.77 333.62 565.01 334.26 565.08 C334.9 565.15 342.24 565.08 343.76 565.08Z" fill="#c0dcf6" stroke="#4a4a4a" stroke-width="0.45"/>
<line x1="343.76" y1="565.08" x2="343.76" y2="561.4" stroke="#111" stroke-width="0.8"/>
<circle cx="343.76" cy="561.4" r="0.8" fill="#111"/>
<circle cx="343.76" cy="562.5" r="0.75" fill="#111"/>
<rect x="342.86" y="563.88" width="1.8" height="1.2" fill="#111"/>
<path d="M365.54 565.08 C367.06 565.08 374.4 565.15 375.04 565.08 C375.68 565.01 371 564.77 369.54 564.62 C368.08 564.47 366.58 564.23 365.94 564.16 C365.3 564.09 365.67 564.16 365.54 564.16 C365.41 564.16 365.78 564.09 365.14 564.16 C364.5 564.23 363 564.47 361.54 564.62 C360.08 564.77 355.4 565.01 356.04 565.08 C356.68 565.15 364.02 565.08 365.54 565.08Z" fill="#eda0a2" stroke="#4a4a4a" stroke-width="0.45"/>
<line x1="365.54" y1="565.08" x2="365.54" y2="558.64" stroke="#111" stroke-width="0.8"/>
<circle cx="365.54" cy="558.64" r="0.8" fill="#111"/>
<circle cx="365.54" cy="560.57" r="0.75" fill="#111"/>
<rect x="364.64" y="563.88" width="1.8" height="1.2" fill="#111"/>
<path d="M387.32 565.08 C388.84 565.08 396.18 565.15 396.82 565.08 C397.46 565.01 392.78 564.77 391.32 564.62 C389.86 564.47 388.36 564.23 387.72 564.16 C387.08 564.09 387.45 564.16 387.32 564.16 C387.19 564.16 387.56 564.09 386.92 564.16 C386.28 564.23 384.78 564.47 383.32 564.62 C381.86 564.77 377.18 565.01 377.82 565.08 C378.46 565.15 385.8 565.08 387.32 565.08Z" fill="#f6c4c6" stroke="#4a4a4a" stroke-width="0.45"/>
<line x1="387.32" y1="565.08" x2="387.32" y2="558.64" stroke="#111" stroke-width="0.8"/>
<circle cx="387.32" cy="558.64" r="0.8" fill="#111"/>
<circle cx="387.32" cy="560.57" r="0.75" fill="#111"/>
<rect x="386.42" y="563.88" width="1.8" height="1.2" fill="#111"/>
<path d="M409.1 565.08 C409.74 565.08 412.62 565.2 413.1 565.08 C413.58 564.96 412.34 564.64 412.1 564.34 C411.86 564.05 411.68 563.86 411.6 563.24 C411.52 562.62 411.44 561.14 411.6 560.48 C411.76 559.82 411.56 559.47 412.6 559.1 C413.64 558.73 417.06 558.44 418.1 558.18 C419.14 557.92 419.9 557.66 419.1 557.44 C418.3 557.22 414.65 556.98 413.1 556.8 C411.55 556.62 410.04 556.41 409.4 556.34 C408.76 556.27 409.2 556.34 409.1 556.34 C409 556.34 409.44 556.27 408.8 556.34 C408.16 556.41 406.65 556.62 405.1 556.8 C403.55 556.98 399.9 557.22 399.1 557.44 C398.3 557.66 399.06 557.92 400.1 558.18 C401.14 558.44 404.56 558.73 405.6 559.1 C406.64 559.47 406.44 559.82 406.6 560.48 C406.76 561.14 406.68 562.62 406.6 563.24 C406.52 563.86 406.34 564.05 406.1 564.34 C405.86 564.64 404.62 564.96 405.1 565.08 C405.58 565.2 408.46 565.08 409.1 565.08Z" fill="#f8b67c" stroke="#8a5020" stroke-width="0.38"/>
<line x1="409.1" y1="565.08" x2="409.1" y2="556.34" stroke="#111" stroke-width="0.5"/>
<rect x="407.8" y="557.26" width="2.6" height="5.06" fill="#f8b67c" fill-opacity="0.85" stroke="#222" stroke-width="0.4"/>
<line x1="407.8" y1="559.79" x2="410.4" y2="559.79" stroke="#111" stroke-width="0.7"/>
<path d="M430.88 559.56 C430.93 559.56 430.7 559.85 431.18 559.56 C431.66 559.27 432.33 558.16 433.88 557.72 C435.43 557.28 440.88 557.09 440.88 556.8 C440.88 556.51 435.43 556.1 433.88 555.88 C432.33 555.66 431.66 555.49 431.18 555.42 C430.7 555.35 430.98 555.42 430.88 555.42 C430.78 555.42 431.06 555.35 430.58 555.42 C430.1 555.49 429.43 555.66 427.88 555.88 C426.33 556.1 420.88 556.51 420.88 556.8 C420.88 557.09 426.33 557.28 427.88 557.72 C429.43 558.16 430.1 559.27 430.58 559.56 C431.06 559.85 430.83 559.56 430.88 559.56Z" fill="#b88a7c" stroke="#5a3a30" stroke-width="0.38"/>
<line x1="430.88" y1="559.56" x2="430.88" y2="555.42" stroke="#111" stroke-width="0.5"/>
<rect x="429.58" y="556.34" width="2.6" height="0.92" fill="#b88a7c" fill-opacity="0.85" stroke="#222" stroke-width="0.4"/>
<line x1="429.58" y1="556.8" x2="432.18" y2="556.8" stroke="#111" stroke-width="0.7"/>
<path d="M452.66 560.48 C452.71 560.48 452.64 560.77 452.96 560.48 C453.28 560.19 453.11 559.08 454.66 558.64 C456.21 558.2 462.66 558.01 462.66 557.72 C462.66 557.43 456.21 557.02 454.66 556.8 C453.11 556.58 453.28 556.41 452.96 556.34 C452.64 556.27 452.76 556.34 452.66 556.34 C452.56 556.34 452.68 556.27 452.36 556.34 C452.04 556.41 452.21 556.58 450.66 556.8 C449.11 557.02 442.66 557.43 442.66 557.72 C442.66 558.01 449.11 558.2 450.66 558.64 C452.21 559.08 452.04 560.19 452.36 560.48 C452.68 560.77 452.61 560.48 452.66 560.48Z" fill="#98d294" stroke="#3a6a3a" stroke-width="0.38"/>
<line x1="452.66" y1="560.48" x2="452.66" y2="556.34" stroke="#111" stroke-width="0.5"/>
<rect x="451.36" y="557.26" width="2.6" height="0.92" fill="#98d294" fill-opacity="0.85" stroke="#222" stroke-width="0.4"/>
<line x1="451.36" y1="557.72" x2="453.96" y2="557.72" stroke="#111" stroke-width="0.7"/>
<path d="M474.44 565.08 C475.88 565.08 482.96 565.15 483.44 565.08 C483.92 565.01 478.56 564.84 477.44 564.62 C476.32 564.4 476.57 564.07 476.44 563.7 C476.31 563.33 476.51 562.84 476.64 562.32 C476.77 561.8 477.22 561 477.24 560.48 C477.26 559.96 477.14 559.47 476.74 559.1 C476.34 558.73 475.11 558.33 474.74 558.18 C474.37 558.03 474.54 558.18 474.44 558.18 C474.34 558.18 474.51 558.03 474.14 558.18 C473.77 558.33 472.54 558.73 472.14 559.1 C471.74 559.47 471.62 559.96 471.64 560.48 C471.66 561 472.11 561.8 472.24 562.32 C472.37 562.84 472.57 563.33 472.44 563.7 C472.31 564.07 472.56 564.4 471.44 564.62 C470.32 564.84 464.96 565.01 465.44 565.08 C465.92 565.15 473 565.08 474.44 565.08Z" fill="#c4c4c4" stroke="#555555" stroke-width="0.38"/>
<line x1="474.44" y1="565.08" x2="474.44" y2="557.72" stroke="#111" stroke-width="0.5"/>
<rect x="473.14" y="559.56" width="2.6" height="4.6" fill="#c4c4c4" fill-opacity="0.85" stroke="#222" stroke-width="0.4"/>
<line x1="473.14" y1="561.86" x2="475.74" y2="561.86" stroke="#111" stroke-width="0.7"/>
<path d="M496.22 565.08 C497.1 565.08 501.08 565.2 501.72 565.08 C502.36 564.96 500.62 564.64 500.22 564.34 C499.82 564.05 499.38 563.71 499.22 563.24 C499.06 562.77 499.14 561.92 499.22 561.4 C499.3 560.88 499.24 560.39 499.72 560.02 C500.2 559.65 501.66 559.39 502.22 559.1 C502.78 558.81 503.38 558.47 503.22 558.18 C503.06 557.89 502.29 557.51 501.22 557.26 C500.15 557.01 497.32 556.72 496.52 556.62 C495.72 556.51 496.32 556.62 496.22 556.62 C496.12 556.62 496.72 556.51 495.92 556.62 C495.12 556.72 492.29 557.01 491.22 557.26 C490.15 557.51 489.38 557.89 489.22 558.18 C489.06 558.47 489.66 558.81 490.22 559.1 C490.78 559.39 492.24 559.65 492.72 560.02 C493.2 560.39 493.14 560.88 493.22 561.4 C493.3 561.92 493.38 562.77 493.22 563.24 C493.06 563.71 492.62 564.05 492.22 564.34 C491.82 564.64 490.08 564.96 490.72 565.08 C491.36 565.2 495.34 565.08 496.22 565.08Z" fill="#f4f29a" stroke="#8a8a3a" stroke-width="0.38"/>
<line x1="496.22" y1="565.08" x2="496.22" y2="556.34" stroke="#111" stroke-width="0.5"/>
<rect x="494.92" y="557.26" width="2.6" height="5.98" fill="#f4f29a" fill-opacity="0.85" stroke="#222" stroke-width="0.4"/>
<line x1="494.92" y1="560.25" x2="497.52" y2="560.25" stroke="#111" stroke-width="0.7"/>
<text x="508.9" y="556.78" font-size="8.8" font-style="italic" text-anchor="end" fill="#1a1a1a" textLength="23" lengthAdjust="spacingAndGlyphs">Runx1</text>
<rect x="287" y="568.36" width="223.2" height="18.9" fill="#fff" stroke="#d0d0d0" stroke-width="0.6"/>
<rect x="287.3" y="585.46" width="222.6" height="1.5" fill="#d9d9d9"/>
<text class="t" x="285.5" y="574.06" font-size="4.6" fill="#555" text-anchor="end">15</text>
<line x1="285.2" y1="572.46" x2="286.6" y2="572.46" stroke="#777" stroke-width="0.3"/>
<text class="t" x="285.5" y="578.36" font-size="4.6" fill="#555" text-anchor="end">10</text>
<line x1="285.2" y1="576.76" x2="286.6" y2="576.76" stroke="#777" stroke-width="0.3"/>
<text class="t" x="285.5" y="582.66" font-size="4.6" fill="#555" text-anchor="end">5</text>
<line x1="285.2" y1="581.06" x2="286.6" y2="581.06" stroke="#777" stroke-width="0.3"/>
<text class="t" x="285.5" y="586.96" font-size="4.6" fill="#555" text-anchor="end">0</text>
<line x1="285.2" y1="585.36" x2="286.6" y2="585.36" stroke="#777" stroke-width="0.3"/>
<path d="M300.2 585.36 C301.72 585.36 309.06 585.43 309.7 585.36 C310.34 585.29 305.66 585.05 304.2 584.9 C302.74 584.75 301.24 584.51 300.6 584.44 C299.96 584.37 300.33 584.44 300.2 584.44 C300.07 584.44 300.44 584.37 299.8 584.44 C299.16 584.51 297.66 584.75 296.2 584.9 C294.74 585.05 290.06 585.29 290.7 585.36 C291.34 585.43 298.68 585.36 300.2 585.36Z" fill="#8a9ecb" stroke="#4a4a4a" stroke-width="0.45"/>
<path d="M321.98 585.36 C323.5 585.36 330.84 585.43 331.48 585.36 C332.12 585.29 327.44 585.05 325.98 584.9 C324.52 584.75 323.02 584.51 322.38 584.44 C321.74 584.37 322.11 584.44 321.98 584.44 C321.85 584.44 322.22 584.37 321.58 584.44 C320.94 584.51 319.44 584.75 317.98 584.9 C316.52 585.05 311.84 585.29 312.48 585.36 C313.12 585.43 320.46 585.36 321.98 585.36Z" fill="#8cdcd2" stroke="#4a4a4a" stroke-width="0.45"/>
<line x1="321.98" y1="585.36" x2="321.98" y2="580.76" stroke="#111" stroke-width="0.8"/>
<circle cx="321.98" cy="580.76" r="0.8" fill="#111"/>
<circle cx="321.98" cy="582.14" r="0.75" fill="#111"/>
<rect x="321.08" y="584.16" width="1.8" height="1.2" fill="#111"/>
<path d="M343.76 585.36 C345.28 585.36 352.62 585.43 353.26 585.36 C353.9 585.29 349.22 585.05 347.76 584.9 C346.3 584.75 344.8 584.51 344.16 584.44 C343.52 584.37 343.89 584.44 343.76 584.44 C343.63 584.44 344 584.37 343.36 584.44 C342.72 584.51 341.22 584.75 339.76 584.9 C338.3 585.05 333.62 585.29 334.26 585.36 C334.9 585.43 342.24 585.36 343.76 585.36Z" fill="#c0dcf6" stroke="#4a4a4a" stroke-width="0.45"/>
<path d="M365.54 585.36 C367.06 585.36 374.4 585.43 375.04 585.36 C375.68 585.29 371 585.05 369.54 584.9 C368.08 584.75 366.58 584.51 365.94 584.44 C365.3 584.37 365.67 584.44 365.54 584.44 C365.41 584.44 365.78 584.37 365.14 584.44 C364.5 584.51 363 584.75 361.54 584.9 C360.08 585.05 355.4 585.29 356.04 585.36 C356.68 585.43 364.02 585.36 365.54 585.36Z" fill="#eda0a2" stroke="#4a4a4a" stroke-width="0.45"/>
<line x1="365.54" y1="585.36" x2="365.54" y2="579.84" stroke="#111" stroke-width="0.8"/>
<circle cx="365.54" cy="579.84" r="0.8" fill="#111"/>
<circle cx="365.54" cy="581.5" r="0.75" fill="#111"/>
<rect x="364.64" y="584.16" width="1.8" height="1.2" fill="#111"/>
<path d="M387.32 585.36 C388.84 585.36 396.18 585.43 396.82 585.36 C397.46 585.29 392.78 585.05 391.32 584.9 C389.86 584.75 388.36 584.51 387.72 584.44 C387.08 584.37 387.45 584.44 387.32 584.44 C387.19 584.44 387.56 584.37 386.92 584.44 C386.28 584.51 384.78 584.75 383.32 584.9 C381.86 585.05 377.18 585.29 377.82 585.36 C378.46 585.43 385.8 585.36 387.32 585.36Z" fill="#f6c4c6" stroke="#4a4a4a" stroke-width="0.45"/>
<line x1="387.32" y1="585.36" x2="387.32" y2="578.92" stroke="#111" stroke-width="0.8"/>
<circle cx="387.32" cy="578.92" r="0.8" fill="#111"/>
<circle cx="387.32" cy="580.85" r="0.75" fill="#111"/>
<rect x="386.42" y="584.16" width="1.8" height="1.2" fill="#111"/>
<path d="M409.1 585.36 C409.9 585.36 413.54 585.48 414.1 585.36 C414.66 585.24 412.95 584.92 412.6 584.62 C412.25 584.33 411.98 584.06 411.9 583.52 C411.82 582.98 411.75 581.81 412.1 581.22 C412.45 580.63 413.14 580.21 414.1 579.84 C415.06 579.47 417.38 579.21 418.1 578.92 C418.82 578.63 419.4 578.26 418.6 578 C417.8 577.74 414.57 577.46 413.1 577.26 C411.63 577.07 410.04 576.88 409.4 576.8 C408.76 576.73 409.2 576.8 409.1 576.8 C409 576.8 409.44 576.73 408.8 576.8 C408.16 576.88 406.57 577.07 405.1 577.26 C403.63 577.46 400.4 577.74 399.6 578 C398.8 578.26 399.38 578.63 400.1 578.92 C400.82 579.21 403.14 579.47 404.1 579.84 C405.06 580.21 405.75 580.63 406.1 581.22 C406.45 581.81 406.38 582.98 406.3 583.52 C406.22 584.06 405.95 584.33 405.6 584.62 C405.25 584.92 403.54 585.24 404.1 585.36 C404.66 585.48 408.3 585.36 409.1 585.36Z" fill="#f8b67c" stroke="#8a5020" stroke-width="0.38"/>
<line x1="409.1" y1="585.36" x2="409.1" y2="577.08" stroke="#111" stroke-width="0.5"/>
<rect x="407.8" y="578" width="2.6" height="4.6" fill="#f8b67c" fill-opacity="0.85" stroke="#222" stroke-width="0.4"/>
<line x1="407.8" y1="580.3" x2="410.4" y2="580.3" stroke="#111" stroke-width="0.7"/>
<path d="M430.88 581.68 C430.93 581.68 430.7 581.97 431.18 581.68 C431.66 581.39 432.49 580.36 433.88 579.84 C435.27 579.32 439.08 578.83 439.88 578.46 C440.68 578.09 440 577.83 438.88 577.54 C437.76 577.25 434.11 576.84 432.88 576.62 C431.65 576.4 431.5 576.23 431.18 576.16 C430.86 576.09 430.98 576.16 430.88 576.16 C430.78 576.16 430.9 576.09 430.58 576.16 C430.26 576.23 430.11 576.4 428.88 576.62 C427.65 576.84 424 577.25 422.88 577.54 C421.76 577.83 421.08 578.09 421.88 578.46 C422.68 578.83 426.49 579.32 427.88 579.84 C429.27 580.36 430.1 581.39 430.58 581.68 C431.06 581.97 430.83 581.68 430.88 581.68Z" fill="#b88a7c" stroke="#5a3a30" stroke-width="0.38"/>
<line x1="430.88" y1="581.68" x2="430.88" y2="576.16" stroke="#111" stroke-width="0.5"/>
<rect x="429.58" y="577.08" width="2.6" height="1.84" fill="#b88a7c" fill-opacity="0.85" stroke="#222" stroke-width="0.4"/>
<line x1="429.58" y1="578" x2="432.18" y2="578" stroke="#111" stroke-width="0.7"/>
<path d="M452.66 585.36 C454.26 585.36 461.22 585.51 462.66 585.36 C464.1 585.21 462.46 584.81 461.66 584.44 C460.86 584.07 458.3 583.5 457.66 583.06 C457.02 582.62 457.5 582.12 457.66 581.68 C457.82 581.24 458.02 580.74 458.66 580.3 C459.3 579.86 461.34 579.29 461.66 578.92 C461.98 578.55 462.05 578.22 460.66 578 C459.27 577.78 454.24 577.61 452.96 577.54 C451.68 577.47 452.76 577.54 452.66 577.54 C452.56 577.54 453.64 577.47 452.36 577.54 C451.08 577.61 446.05 577.78 444.66 578 C443.27 578.22 443.34 578.55 443.66 578.92 C443.98 579.29 446.02 579.86 446.66 580.3 C447.3 580.74 447.5 581.24 447.66 581.68 C447.82 582.12 448.3 582.62 447.66 583.06 C447.02 583.5 444.46 584.07 443.66 584.44 C442.86 584.81 441.22 585.21 442.66 585.36 C444.1 585.51 451.06 585.36 452.66 585.36Z" fill="#98d294" stroke="#3a6a3a" stroke-width="0.38"/>
<line x1="452.66" y1="585.36" x2="452.66" y2="577.54" stroke="#111" stroke-width="0.5"/>
<rect x="451.36" y="578.92" width="2.6" height="4.6" fill="#98d294" fill-opacity="0.85" stroke="#222" stroke-width="0.4"/>
<line x1="451.36" y1="581.22" x2="453.96" y2="581.22" stroke="#111" stroke-width="0.7"/>
<path d="M474.44 585.36 C475.96 585.36 483.3 585.43 483.94 585.36 C484.58 585.29 479.9 585.05 478.44 584.9 C476.98 584.75 475.48 584.51 474.84 584.44 C474.2 584.37 474.57 584.44 474.44 584.44 C474.31 584.44 474.68 584.37 474.04 584.44 C473.4 584.51 471.9 584.75 470.44 584.9 C468.98 585.05 464.3 585.29 464.94 585.36 C465.58 585.43 472.92 585.36 474.44 585.36Z" fill="#c4c4c4" stroke="#4a4a4a" stroke-width="0.45"/>
<path d="M496.22 585.36 C497.74 585.36 505.08 585.43 505.72 585.36 C506.36 585.29 501.68 585.05 500.22 584.9 C498.76 584.75 497.26 584.51 496.62 584.44 C495.98 584.37 496.35 584.44 496.22 584.44 C496.09 584.44 496.46 584.37 495.82 584.44 C495.18 584.51 493.68 584.75 492.22 584.9 C490.76 585.05 486.08 585.29 486.72 585.36 C487.36 585.43 494.7 585.36 496.22 585.36Z" fill="#f4f29a" stroke="#4a4a4a" stroke-width="0.45"/>
<line x1="496.22" y1="585.36" x2="496.22" y2="580.76" stroke="#111" stroke-width="0.8"/>
<circle cx="496.22" cy="580.76" r="0.8" fill="#111"/>
<circle cx="496.22" cy="582.14" r="0.75" fill="#111"/>
<rect x="495.32" y="584.16" width="1.8" height="1.2" fill="#111"/>
<text x="508.9" y="577.06" font-size="8.8" font-style="italic" text-anchor="end" fill="#1a1a1a" textLength="14.3" lengthAdjust="spacingAndGlyphs">Gfi1</text>
<rect x="287" y="588.64" width="223.2" height="18.9" fill="#fff" stroke="#d0d0d0" stroke-width="0.6"/>
<rect x="287.3" y="605.74" width="222.6" height="1.5" fill="#d9d9d9"/>
<text class="t" x="285.5" y="594.34" font-size="4.6" fill="#555" text-anchor="end">15</text>
<line x1="285.2" y1="592.74" x2="286.6" y2="592.74" stroke="#777" stroke-width="0.3"/>
<text class="t" x="285.5" y="598.64" font-size="4.6" fill="#555" text-anchor="end">10</text>
<line x1="285.2" y1="597.04" x2="286.6" y2="597.04" stroke="#777" stroke-width="0.3"/>
<text class="t" x="285.5" y="602.94" font-size="4.6" fill="#555" text-anchor="end">5</text>
<line x1="285.2" y1="601.34" x2="286.6" y2="601.34" stroke="#777" stroke-width="0.3"/>
<text class="t" x="285.5" y="607.24" font-size="4.6" fill="#555" text-anchor="end">0</text>
<line x1="285.2" y1="605.64" x2="286.6" y2="605.64" stroke="#777" stroke-width="0.3"/>
<path d="M300.2 605.64 C301.72 605.64 309.06 605.71 309.7 605.64 C310.34 605.57 305.66 605.33 304.2 605.18 C302.74 605.03 301.24 604.79 300.6 604.72 C299.96 604.65 300.33 604.72 300.2 604.72 C300.07 604.72 300.44 604.65 299.8 604.72 C299.16 604.79 297.66 605.03 296.2 605.18 C294.74 605.33 290.06 605.57 290.7 605.64 C291.34 605.71 298.68 605.64 300.2 605.64Z" fill="#8a9ecb" stroke="#4a4a4a" stroke-width="0.45"/>
<line x1="300.2" y1="605.64" x2="300.2" y2="603.8" stroke="#111" stroke-width="0.8"/>
<circle cx="300.2" cy="603.8" r="0.8" fill="#111"/>
<rect x="299.3" y="604.44" width="1.8" height="1.2" fill="#111"/>
<path d="M321.98 605.64 C323.5 605.64 330.84 605.71 331.48 605.64 C332.12 605.57 327.44 605.33 325.98 605.18 C324.52 605.03 323.02 604.79 322.38 604.72 C321.74 604.65 322.11 604.72 321.98 604.72 C321.85 604.72 322.22 604.65 321.58 604.72 C320.94 604.79 319.44 605.03 317.98 605.18 C316.52 605.33 311.84 605.57 312.48 605.64 C313.12 605.71 320.46 605.64 321.98 605.64Z" fill="#8cdcd2" stroke="#4a4a4a" stroke-width="0.45"/>
<line x1="321.98" y1="605.64" x2="321.98" y2="602.88" stroke="#111" stroke-width="0.8"/>
<circle cx="321.98" cy="602.88" r="0.8" fill="#111"/>
<rect x="321.08" y="604.44" width="1.8" height="1.2" fill="#111"/>
<path d="M343.76 605.64 C345.28 605.64 352.62 605.71 353.26 605.64 C353.9 605.57 349.22 605.33 347.76 605.18 C346.3 605.03 344.8 604.79 344.16 604.72 C343.52 604.65 343.89 604.72 343.76 604.72 C343.63 604.72 344 604.65 343.36 604.72 C342.72 604.79 341.22 605.03 339.76 605.18 C338.3 605.33 333.62 605.57 334.26 605.64 C334.9 605.71 342.24 605.64 343.76 605.64Z" fill="#c0dcf6" stroke="#4a4a4a" stroke-width="0.45"/>
<path d="M365.54 605.64 C367.06 605.64 374.4 605.71 375.04 605.64 C375.68 605.57 371 605.33 369.54 605.18 C368.08 605.03 366.58 604.79 365.94 604.72 C365.3 604.65 365.67 604.72 365.54 604.72 C365.41 604.72 365.78 604.65 365.14 604.72 C364.5 604.79 363 605.03 361.54 605.18 C360.08 605.33 355.4 605.57 356.04 605.64 C356.68 605.71 364.02 605.64 365.54 605.64Z" fill="#eda0a2" stroke="#4a4a4a" stroke-width="0.45"/>
<line x1="365.54" y1="605.64" x2="365.54" y2="602.88" stroke="#111" stroke-width="0.8"/>
<circle cx="365.54" cy="602.88" r="0.8" fill="#111"/>
<rect x="364.64" y="604.44" width="1.8" height="1.2" fill="#111"/>
<path d="M387.32 605.64 C388.84 605.64 396.18 605.71 396.82 605.64 C397.46 605.57 392.78 605.33 391.32 605.18 C389.86 605.03 388.36 604.79 387.72 604.72 C387.08 604.65 387.45 604.72 387.32 604.72 C387.19 604.72 387.56 604.65 386.92 604.72 C386.28 604.79 384.78 605.03 383.32 605.18 C381.86 605.33 377.18 605.57 377.82 605.64 C378.46 605.71 385.8 605.64 387.32 605.64Z" fill="#f6c4c6" stroke="#4a4a4a" stroke-width="0.45"/>
<line x1="387.32" y1="605.64" x2="387.32" y2="601.96" stroke="#111" stroke-width="0.8"/>
<circle cx="387.32" cy="601.96" r="0.8" fill="#111"/>
<circle cx="387.32" cy="603.06" r="0.75" fill="#111"/>
<rect x="386.42" y="604.44" width="1.8" height="1.2" fill="#111"/>
<path d="M409.1 605.64 C410.7 605.64 418.14 605.76 419.1 605.64 C420.06 605.52 416.22 605.2 415.1 604.9 C413.98 604.61 412.66 604.12 412.1 603.8 C411.54 603.48 411.52 603.17 411.6 602.88 C411.68 602.59 412.28 602.33 412.6 601.96 C412.92 601.59 413.44 601.02 413.6 600.58 C413.76 600.14 413.84 599.64 413.6 599.2 C413.36 598.76 412.77 598.11 412.1 597.82 C411.43 597.53 409.88 597.43 409.4 597.36 C408.92 597.29 409.2 597.36 409.1 597.36 C409 597.36 409.28 597.29 408.8 597.36 C408.32 597.43 406.77 597.53 406.1 597.82 C405.43 598.11 404.84 598.76 404.6 599.2 C404.36 599.64 404.44 600.14 404.6 600.58 C404.76 601.02 405.28 601.59 405.6 601.96 C405.92 602.33 406.52 602.59 406.6 602.88 C406.68 603.17 406.66 603.48 406.1 603.8 C405.54 604.12 404.22 604.61 403.1 604.9 C401.98 605.2 398.14 605.52 399.1 605.64 C400.06 605.76 407.5 605.64 409.1 605.64Z" fill="#f8b67c" stroke="#8a5020" stroke-width="0.38"/>
<line x1="409.1" y1="605.64" x2="409.1" y2="597.36" stroke="#111" stroke-width="0.5"/>
<rect x="407.8" y="598.74" width="2.6" height="5.06" fill="#f8b67c" fill-opacity="0.85" stroke="#222" stroke-width="0.4"/>
<line x1="407.8" y1="601.27" x2="410.4" y2="601.27" stroke="#111" stroke-width="0.7"/>
<path d="M430.88 599.2 C430.93 599.2 429.74 599.35 431.18 599.2 C432.62 599.05 439.88 598.57 439.88 598.28 C439.88 597.99 432.62 597.51 431.18 597.36 C429.74 597.21 430.98 597.36 430.88 597.36 C430.78 597.36 432.02 597.21 430.58 597.36 C429.14 597.51 421.88 597.99 421.88 598.28 C421.88 598.57 429.14 599.05 430.58 599.2 C432.02 599.35 430.83 599.2 430.88 599.2Z" fill="#b88a7c" stroke="#5a3a30" stroke-width="0.38"/>
<line x1="430.88" y1="599.2" x2="430.88" y2="597.36" stroke="#111" stroke-width="0.5"/>
<rect x="429.58" y="597.91" width="2.6" height="0.74" fill="#b88a7c" fill-opacity="0.85" stroke="#222" stroke-width="0.4"/>
<line x1="429.58" y1="598.28" x2="432.18" y2="598.28" stroke="#111" stroke-width="0.7"/>
<path d="M452.66 602.88 C452.71 602.88 452.8 603.32 452.96 602.88 C453.12 602.44 452.91 600.78 453.66 600.12 C454.41 599.46 456.22 599.11 457.66 598.74 C459.1 598.37 462.98 598.11 462.66 597.82 C462.34 597.53 457.21 597.12 455.66 596.9 C454.11 596.68 453.44 596.51 452.96 596.44 C452.48 596.37 452.76 596.44 452.66 596.44 C452.56 596.44 452.84 596.37 452.36 596.44 C451.88 596.51 451.21 596.68 449.66 596.9 C448.11 597.12 442.98 597.53 442.66 597.82 C442.34 598.11 446.22 598.37 447.66 598.74 C449.1 599.11 450.91 599.46 451.66 600.12 C452.41 600.78 452.2 602.44 452.36 602.88 C452.52 603.32 452.61 602.88 452.66 602.88Z" fill="#98d294" stroke="#3a6a3a" stroke-width="0.38"/>
<line x1="452.66" y1="602.88" x2="452.66" y2="596.44" stroke="#111" stroke-width="0.5"/>
<rect x="451.36" y="597.36" width="2.6" height="1.38" fill="#98d294" fill-opacity="0.85" stroke="#222" stroke-width="0.4"/>
<line x1="451.36" y1="598.05" x2="453.96" y2="598.05" stroke="#111" stroke-width="0.7"/>
<path d="M474.44 605.64 C475.96 605.64 483.3 605.71 483.94 605.64 C484.58 605.57 479.9 605.33 478.44 605.18 C476.98 605.03 475.48 604.79 474.84 604.72 C474.2 604.65 474.57 604.72 474.44 604.72 C474.31 604.72 474.68 604.65 474.04 604.72 C473.4 604.79 471.9 605.03 470.44 605.18 C468.98 605.33 464.3 605.57 464.94 605.64 C465.58 605.71 472.92 605.64 474.44 605.64Z" fill="#c4c4c4" stroke="#4a4a4a" stroke-width="0.45"/>
<line x1="474.44" y1="605.64" x2="474.44" y2="604.72" stroke="#111" stroke-width="0.8"/>
<circle cx="474.44" cy="604.72" r="0.8" fill="#111"/>
<rect x="473.54" y="604.44" width="1.8" height="1.2" fill="#111"/>
<path d="M496.22 605.64 C497.74 605.64 505.08 605.71 505.72 605.64 C506.36 605.57 501.68 605.33 500.22 605.18 C498.76 605.03 497.26 604.79 496.62 604.72 C495.98 604.65 496.35 604.72 496.22 604.72 C496.09 604.72 496.46 604.65 495.82 604.72 C495.18 604.79 493.68 605.03 492.22 605.18 C490.76 605.33 486.08 605.57 486.72 605.64 C487.36 605.71 494.7 605.64 496.22 605.64Z" fill="#f4f29a" stroke="#4a4a4a" stroke-width="0.45"/>
<text x="508.9" y="597.34" font-size="8.8" font-style="italic" text-anchor="end" fill="#1a1a1a" textLength="15.4" lengthAdjust="spacingAndGlyphs">Spi1</text>
<rect x="287" y="608.92" width="223.2" height="18.9" fill="#fff" stroke="#d0d0d0" stroke-width="0.6"/>
<rect x="287.3" y="626.02" width="222.6" height="1.5" fill="#d9d9d9"/>
<text class="t" x="285.5" y="614.62" font-size="4.6" fill="#555" text-anchor="end">15</text>
<line x1="285.2" y1="613.02" x2="286.6" y2="613.02" stroke="#777" stroke-width="0.3"/>
<text class="t" x="285.5" y="618.92" font-size="4.6" fill="#555" text-anchor="end">10</text>
<line x1="285.2" y1="617.32" x2="286.6" y2="617.32" stroke="#777" stroke-width="0.3"/>
<text class="t" x="285.5" y="623.22" font-size="4.6" fill="#555" text-anchor="end">5</text>
<line x1="285.2" y1="621.62" x2="286.6" y2="621.62" stroke="#777" stroke-width="0.3"/>
<text class="t" x="285.5" y="627.52" font-size="4.6" fill="#555" text-anchor="end">0</text>
<line x1="285.2" y1="625.92" x2="286.6" y2="625.92" stroke="#777" stroke-width="0.3"/>
<path d="M300.2 625.92 C301.72 625.92 309.06 625.99 309.7 625.92 C310.34 625.85 305.66 625.61 304.2 625.46 C302.74 625.31 301.24 625.07 300.6 625 C299.96 624.93 300.33 625 300.2 625 C300.07 625 300.44 624.93 299.8 625 C299.16 625.07 297.66 625.31 296.2 625.46 C294.74 625.61 290.06 625.85 290.7 625.92 C291.34 625.99 298.68 625.92 300.2 625.92Z" fill="#8a9ecb" stroke="#4a4a4a" stroke-width="0.45"/>
<path d="M321.98 625.92 C323.5 625.92 330.84 625.99 331.48 625.92 C332.12 625.85 327.44 625.61 325.98 625.46 C324.52 625.31 323.02 625.07 322.38 625 C321.74 624.93 322.11 625 321.98 625 C321.85 625 322.22 624.93 321.58 625 C320.94 625.07 319.44 625.31 317.98 625.46 C316.52 625.61 311.84 625.85 312.48 625.92 C313.12 625.99 320.46 625.92 321.98 625.92Z" fill="#8cdcd2" stroke="#4a4a4a" stroke-width="0.45"/>
<path d="M343.76 625.92 C345.28 625.92 352.62 625.99 353.26 625.92 C353.9 625.85 349.22 625.61 347.76 625.46 C346.3 625.31 344.8 625.07 344.16 625 C343.52 624.93 343.89 625 343.76 625 C343.63 625 344 624.93 343.36 625 C342.72 625.07 341.22 625.31 339.76 625.46 C338.3 625.61 333.62 625.85 334.26 625.92 C334.9 625.99 342.24 625.92 343.76 625.92Z" fill="#c0dcf6" stroke="#4a4a4a" stroke-width="0.45"/>
<path d="M365.54 625.92 C367.06 625.92 374.4 625.99 375.04 625.92 C375.68 625.85 371 625.61 369.54 625.46 C368.08 625.31 366.58 625.07 365.94 625 C365.3 624.93 365.67 625 365.54 625 C365.41 625 365.78 624.93 365.14 625 C364.5 625.07 363 625.31 361.54 625.46 C360.08 625.61 355.4 625.85 356.04 625.92 C356.68 625.99 364.02 625.92 365.54 625.92Z" fill="#eda0a2" stroke="#4a4a4a" stroke-width="0.45"/>
<path d="M387.32 625.92 C388.84 625.92 396.18 625.99 396.82 625.92 C397.46 625.85 392.78 625.61 391.32 625.46 C389.86 625.31 388.36 625.07 387.72 625 C387.08 624.93 387.45 625 387.32 625 C387.19 625 387.56 624.93 386.92 625 C386.28 625.07 384.78 625.31 383.32 625.46 C381.86 625.61 377.18 625.85 377.82 625.92 C378.46 625.99 385.8 625.92 387.32 625.92Z" fill="#f6c4c6" stroke="#4a4a4a" stroke-width="0.45"/>
<path d="M409.1 625.92 C410.62 625.92 417.96 625.99 418.6 625.92 C419.24 625.85 414.56 625.61 413.1 625.46 C411.64 625.31 410.14 625.07 409.5 625 C408.86 624.93 409.23 625 409.1 625 C408.97 625 409.34 624.93 408.7 625 C408.06 625.07 406.56 625.31 405.1 625.46 C403.64 625.61 398.96 625.85 399.6 625.92 C400.24 625.99 407.58 625.92 409.1 625.92Z" fill="#f8b67c" stroke="#4a4a4a" stroke-width="0.45"/>
<line x1="409.1" y1="625.92" x2="409.1" y2="620.4" stroke="#111" stroke-width="0.8"/>
<circle cx="409.1" cy="620.4" r="0.8" fill="#111"/>
<circle cx="409.1" cy="622.06" r="0.75" fill="#111"/>
<rect x="408.2" y="624.72" width="1.8" height="1.2" fill="#111"/>
<path d="M430.88 625.92 C432.48 625.92 439.76 626.07 440.88 625.92 C442 625.77 438.84 625.29 437.88 625 C436.92 624.71 435.36 624.45 434.88 624.08 C434.4 623.71 434.56 623.14 434.88 622.7 C435.2 622.26 436.08 621.69 436.88 621.32 C437.68 620.95 439.88 620.69 439.88 620.4 C439.88 620.11 438.27 619.7 436.88 619.48 C435.49 619.26 432.14 619.09 431.18 619.02 C430.22 618.95 430.98 619.02 430.88 619.02 C430.78 619.02 431.54 618.95 430.58 619.02 C429.62 619.09 426.27 619.26 424.88 619.48 C423.49 619.7 421.88 620.11 421.88 620.4 C421.88 620.69 424.08 620.95 424.88 621.32 C425.68 621.69 426.56 622.26 426.88 622.7 C427.2 623.14 427.36 623.71 426.88 624.08 C426.4 624.45 424.84 624.71 423.88 625 C422.92 625.29 419.76 625.77 420.88 625.92 C422 626.07 429.28 625.92 430.88 625.92Z" fill="#b88a7c" stroke="#5a3a30" stroke-width="0.38"/>
<line x1="430.88" y1="625.92" x2="430.88" y2="619.02" stroke="#111" stroke-width="0.5"/>
<rect x="429.58" y="619.94" width="2.6" height="4.14" fill="#b88a7c" fill-opacity="0.85" stroke="#222" stroke-width="0.4"/>
<line x1="429.58" y1="622.01" x2="432.18" y2="622.01" stroke="#111" stroke-width="0.7"/>
<path d="M452.66 623.16 C452.71 623.16 452.64 623.45 452.96 623.16 C453.28 622.87 453.75 621.84 454.66 621.32 C455.57 620.8 457.38 620.31 458.66 619.94 C459.94 619.57 463.14 619.31 462.66 619.02 C462.18 618.73 457.21 618.32 455.66 618.1 C454.11 617.88 453.44 617.71 452.96 617.64 C452.48 617.57 452.76 617.64 452.66 617.64 C452.56 617.64 452.84 617.57 452.36 617.64 C451.88 617.71 451.21 617.88 449.66 618.1 C448.11 618.32 443.14 618.73 442.66 619.02 C442.18 619.31 445.38 619.57 446.66 619.94 C447.94 620.31 449.75 620.8 450.66 621.32 C451.57 621.84 452.04 622.87 452.36 623.16 C452.68 623.45 452.61 623.16 452.66 623.16Z" fill="#98d294" stroke="#3a6a3a" stroke-width="0.38"/>
<line x1="452.66" y1="623.16" x2="452.66" y2="617.64" stroke="#111" stroke-width="0.5"/>
<rect x="451.36" y="618.28" width="2.6" height="1.66" fill="#98d294" fill-opacity="0.85" stroke="#222" stroke-width="0.4"/>
<line x1="451.36" y1="619.11" x2="453.96" y2="619.11" stroke="#111" stroke-width="0.7"/>
<path d="M474.44 625.92 C475.96 625.92 483.3 625.99 483.94 625.92 C484.58 625.85 479.9 625.61 478.44 625.46 C476.98 625.31 475.48 625.07 474.84 625 C474.2 624.93 474.57 625 474.44 625 C474.31 625 474.68 624.93 474.04 625 C473.4 625.07 471.9 625.31 470.44 625.46 C468.98 625.61 464.3 625.85 464.94 625.92 C465.58 625.99 472.92 625.92 474.44 625.92Z" fill="#c4c4c4" stroke="#4a4a4a" stroke-width="0.45"/>
<path d="M496.22 625.92 C497.74 625.92 505.08 625.99 505.72 625.92 C506.36 625.85 501.68 625.61 500.22 625.46 C498.76 625.31 497.26 625.07 496.62 625 C495.98 624.93 496.35 625 496.22 625 C496.09 625 496.46 624.93 495.82 625 C495.18 625.07 493.68 625.31 492.22 625.46 C490.76 625.61 486.08 625.85 486.72 625.92 C487.36 625.99 494.7 625.92 496.22 625.92Z" fill="#f4f29a" stroke="#4a4a4a" stroke-width="0.45"/>
<text x="508.9" y="617.62" font-size="8.8" font-style="italic" text-anchor="end" fill="#1a1a1a" textLength="19.4" lengthAdjust="spacingAndGlyphs">Gfi1b</text>
<rect x="287" y="629.2" width="223.2" height="18.9" fill="#fff" stroke="#d0d0d0" stroke-width="0.6"/>
<rect x="287.3" y="646.3" width="222.6" height="1.5" fill="#d9d9d9"/>
<text class="t" x="285.5" y="634.9" font-size="4.6" fill="#555" text-anchor="end">15</text>
<line x1="285.2" y1="633.3" x2="286.6" y2="633.3" stroke="#777" stroke-width="0.3"/>
<text class="t" x="285.5" y="639.2" font-size="4.6" fill="#555" text-anchor="end">10</text>
<line x1="285.2" y1="637.6" x2="286.6" y2="637.6" stroke="#777" stroke-width="0.3"/>
<text class="t" x="285.5" y="643.5" font-size="4.6" fill="#555" text-anchor="end">5</text>
<line x1="285.2" y1="641.9" x2="286.6" y2="641.9" stroke="#777" stroke-width="0.3"/>
<text class="t" x="285.5" y="647.8" font-size="4.6" fill="#555" text-anchor="end">0</text>
<line x1="285.2" y1="646.2" x2="286.6" y2="646.2" stroke="#777" stroke-width="0.3"/>
<path d="M300.2 646.2 C301.72 646.2 309.06 646.27 309.7 646.2 C310.34 646.13 305.66 645.89 304.2 645.74 C302.74 645.59 301.24 645.35 300.6 645.28 C299.96 645.21 300.33 645.28 300.2 645.28 C300.07 645.28 300.44 645.21 299.8 645.28 C299.16 645.35 297.66 645.59 296.2 645.74 C294.74 645.89 290.06 646.13 290.7 646.2 C291.34 646.27 298.68 646.2 300.2 646.2Z" fill="#8a9ecb" stroke="#4a4a4a" stroke-width="0.45"/>
<line x1="300.2" y1="646.2" x2="300.2" y2="642.52" stroke="#111" stroke-width="0.8"/>
<circle cx="300.2" cy="642.52" r="0.8" fill="#111"/>
<circle cx="300.2" cy="643.62" r="0.75" fill="#111"/>
<rect x="299.3" y="645" width="1.8" height="1.2" fill="#111"/>
<path d="M321.98 646.2 C323.5 646.2 330.84 646.27 331.48 646.2 C332.12 646.13 327.44 645.89 325.98 645.74 C324.52 645.59 323.02 645.35 322.38 645.28 C321.74 645.21 322.11 645.28 321.98 645.28 C321.85 645.28 322.22 645.21 321.58 645.28 C320.94 645.35 319.44 645.59 317.98 645.74 C316.52 645.89 311.84 646.13 312.48 646.2 C313.12 646.27 320.46 646.2 321.98 646.2Z" fill="#8cdcd2" stroke="#4a4a4a" stroke-width="0.45"/>
<line x1="321.98" y1="646.2" x2="321.98" y2="645.28" stroke="#111" stroke-width="0.8"/>
<circle cx="321.98" cy="645.28" r="0.8" fill="#111"/>
<rect x="321.08" y="645" width="1.8" height="1.2" fill="#111"/>
<path d="M343.76 646.2 C345.28 646.2 352.62 646.27 353.26 646.2 C353.9 646.13 349.22 645.89 347.76 645.74 C346.3 645.59 344.8 645.35 344.16 645.28 C343.52 645.21 343.89 645.28 343.76 645.28 C343.63 645.28 344 645.21 343.36 645.28 C342.72 645.35 341.22 645.59 339.76 645.74 C338.3 645.89 333.62 646.13 334.26 646.2 C334.9 646.27 342.24 646.2 343.76 646.2Z" fill="#c0dcf6" stroke="#4a4a4a" stroke-width="0.45"/>
<path d="M365.54 646.2 C367.06 646.2 374.4 646.27 375.04 646.2 C375.68 646.13 371 645.89 369.54 645.74 C368.08 645.59 366.58 645.35 365.94 645.28 C365.3 645.21 365.67 645.28 365.54 645.28 C365.41 645.28 365.78 645.21 365.14 645.28 C364.5 645.35 363 645.59 361.54 645.74 C360.08 645.89 355.4 646.13 356.04 646.2 C356.68 646.27 364.02 646.2 365.54 646.2Z" fill="#eda0a2" stroke="#4a4a4a" stroke-width="0.45"/>
<line x1="365.54" y1="646.2" x2="365.54" y2="642.52" stroke="#111" stroke-width="0.8"/>
<circle cx="365.54" cy="642.52" r="0.8" fill="#111"/>
<circle cx="365.54" cy="643.62" r="0.75" fill="#111"/>
<rect x="364.64" y="645" width="1.8" height="1.2" fill="#111"/>
<path d="M387.32 646.2 C388.84 646.2 396.18 646.27 396.82 646.2 C397.46 646.13 392.78 645.89 391.32 645.74 C389.86 645.59 388.36 645.35 387.72 645.28 C387.08 645.21 387.45 645.28 387.32 645.28 C387.19 645.28 387.56 645.21 386.92 645.28 C386.28 645.35 384.78 645.59 383.32 645.74 C381.86 645.89 377.18 646.13 377.82 646.2 C378.46 646.27 385.8 646.2 387.32 646.2Z" fill="#f6c4c6" stroke="#4a4a4a" stroke-width="0.45"/>
<line x1="387.32" y1="646.2" x2="387.32" y2="641.6" stroke="#111" stroke-width="0.8"/>
<circle cx="387.32" cy="641.6" r="0.8" fill="#111"/>
<circle cx="387.32" cy="642.98" r="0.75" fill="#111"/>
<rect x="386.42" y="645" width="1.8" height="1.2" fill="#111"/>
<path d="M409.1 646.2 C410.62 646.2 417.96 646.27 418.6 646.2 C419.24 646.13 414.56 645.89 413.1 645.74 C411.64 645.59 410.14 645.35 409.5 645.28 C408.86 645.21 409.23 645.28 409.1 645.28 C408.97 645.28 409.34 645.21 408.7 645.28 C408.06 645.35 406.56 645.59 405.1 645.74 C403.64 645.89 398.96 646.13 399.6 646.2 C400.24 646.27 407.58 646.2 409.1 646.2Z" fill="#f8b67c" stroke="#4a4a4a" stroke-width="0.45"/>
<path d="M430.88 646.2 C432.4 646.2 439.74 646.27 440.38 646.2 C441.02 646.13 436.34 645.89 434.88 645.74 C433.42 645.59 431.92 645.35 431.28 645.28 C430.64 645.21 431.01 645.28 430.88 645.28 C430.75 645.28 431.12 645.21 430.48 645.28 C429.84 645.35 428.34 645.59 426.88 645.74 C425.42 645.89 420.74 646.13 421.38 646.2 C422.02 646.27 429.36 646.2 430.88 646.2Z" fill="#b88a7c" stroke="#4a4a4a" stroke-width="0.45"/>
<line x1="430.88" y1="646.2" x2="430.88" y2="644.36" stroke="#111" stroke-width="0.8"/>
<circle cx="430.88" cy="644.36" r="0.8" fill="#111"/>
<rect x="429.98" y="645" width="1.8" height="1.2" fill="#111"/>
<path d="M452.66 646.2 C454.18 646.2 461.52 646.27 462.16 646.2 C462.8 646.13 458.12 645.89 456.66 645.74 C455.2 645.59 453.7 645.35 453.06 645.28 C452.42 645.21 452.79 645.28 452.66 645.28 C452.53 645.28 452.9 645.21 452.26 645.28 C451.62 645.35 450.12 645.59 448.66 645.74 C447.2 645.89 442.52 646.13 443.16 646.2 C443.8 646.27 451.14 646.2 452.66 646.2Z" fill="#98d294" stroke="#4a4a4a" stroke-width="0.45"/>
<path d="M474.44 646.2 C475.96 646.2 483.3 646.27 483.94 646.2 C484.58 646.13 479.9 645.89 478.44 645.74 C476.98 645.59 475.48 645.35 474.84 645.28 C474.2 645.21 474.57 645.28 474.44 645.28 C474.31 645.28 474.68 645.21 474.04 645.28 C473.4 645.35 471.9 645.59 470.44 645.74 C468.98 645.89 464.3 646.13 464.94 646.2 C465.58 646.27 472.92 646.2 474.44 646.2Z" fill="#c4c4c4" stroke="#4a4a4a" stroke-width="0.45"/>
<line x1="474.44" y1="646.2" x2="474.44" y2="641.6" stroke="#111" stroke-width="0.8"/>
<circle cx="474.44" cy="641.6" r="0.8" fill="#111"/>
<circle cx="474.44" cy="642.98" r="0.75" fill="#111"/>
<rect x="473.54" y="645" width="1.8" height="1.2" fill="#111"/>
<path d="M496.22 646.2 C497.66 646.2 504.42 646.35 505.22 646.2 C506.02 646.05 502.18 645.72 501.22 645.28 C500.26 644.84 499.46 644.03 499.22 643.44 C498.98 642.85 499.4 642.19 499.72 641.6 C500.04 641.01 500.34 640.28 501.22 639.76 C502.1 639.24 504.58 638.75 505.22 638.38 C505.86 638.01 506.02 637.75 505.22 637.46 C504.42 637.17 501.61 636.76 500.22 636.54 C498.83 636.32 497.16 636.15 496.52 636.08 C495.88 636.01 496.32 636.08 496.22 636.08 C496.12 636.08 496.56 636.01 495.92 636.08 C495.28 636.15 493.61 636.32 492.22 636.54 C490.83 636.76 488.02 637.17 487.22 637.46 C486.42 637.75 486.58 638.01 487.22 638.38 C487.86 638.75 490.34 639.24 491.22 639.76 C492.1 640.28 492.4 641.01 492.72 641.6 C493.04 642.19 493.46 642.85 493.22 643.44 C492.98 644.03 492.18 644.84 491.22 645.28 C490.26 645.72 486.42 646.05 487.22 646.2 C488.02 646.35 494.78 646.2 496.22 646.2Z" fill="#f4f29a" stroke="#8a8a3a" stroke-width="0.38"/>
<line x1="496.22" y1="646.2" x2="496.22" y2="636.08" stroke="#111" stroke-width="0.5"/>
<rect x="494.92" y="637.46" width="2.6" height="5.98" fill="#f4f29a" fill-opacity="0.85" stroke="#222" stroke-width="0.4"/>
<line x1="494.92" y1="640.45" x2="497.52" y2="640.45" stroke="#111" stroke-width="0.7"/>
<text x="508.9" y="637.9" font-size="8.8" font-style="italic" text-anchor="end" fill="#1a1a1a" textLength="22.2" lengthAdjust="spacingAndGlyphs">Actg2</text>
<rect x="287" y="649.48" width="223.2" height="18.9" fill="#fff" stroke="#d0d0d0" stroke-width="0.6"/>
<rect x="287.3" y="666.58" width="222.6" height="1.5" fill="#d9d9d9"/>
<text class="t" x="285.5" y="655.18" font-size="4.6" fill="#555" text-anchor="end">15</text>
<line x1="285.2" y1="653.58" x2="286.6" y2="653.58" stroke="#777" stroke-width="0.3"/>
<text class="t" x="285.5" y="659.48" font-size="4.6" fill="#555" text-anchor="end">10</text>
<line x1="285.2" y1="657.88" x2="286.6" y2="657.88" stroke="#777" stroke-width="0.3"/>
<text class="t" x="285.5" y="663.78" font-size="4.6" fill="#555" text-anchor="end">5</text>
<line x1="285.2" y1="662.18" x2="286.6" y2="662.18" stroke="#777" stroke-width="0.3"/>
<text class="t" x="285.5" y="668.08" font-size="4.6" fill="#555" text-anchor="end">0</text>
<line x1="285.2" y1="666.48" x2="286.6" y2="666.48" stroke="#777" stroke-width="0.3"/>
<path d="M300.2 666.48 C301.72 666.48 309.06 666.55 309.7 666.48 C310.34 666.41 305.66 666.17 304.2 666.02 C302.74 665.87 301.24 665.63 300.6 665.56 C299.96 665.49 300.33 665.56 300.2 665.56 C300.07 665.56 300.44 665.49 299.8 665.56 C299.16 665.63 297.66 665.87 296.2 666.02 C294.74 666.17 290.06 666.41 290.7 666.48 C291.34 666.55 298.68 666.48 300.2 666.48Z" fill="#8a9ecb" stroke="#4a4a4a" stroke-width="0.45"/>
<line x1="300.2" y1="666.48" x2="300.2" y2="660.96" stroke="#111" stroke-width="0.8"/>
<circle cx="300.2" cy="660.96" r="0.8" fill="#111"/>
<circle cx="300.2" cy="662.62" r="0.75" fill="#111"/>
<rect x="299.3" y="665.28" width="1.8" height="1.2" fill="#111"/>
<path d="M321.98 666.48 C323.5 666.48 330.84 666.55 331.48 666.48 C332.12 666.41 327.44 666.17 325.98 666.02 C324.52 665.87 323.02 665.63 322.38 665.56 C321.74 665.49 322.11 665.56 321.98 665.56 C321.85 665.56 322.22 665.49 321.58 665.56 C320.94 665.63 319.44 665.87 317.98 666.02 C316.52 666.17 311.84 666.41 312.48 666.48 C313.12 666.55 320.46 666.48 321.98 666.48Z" fill="#8cdcd2" stroke="#4a4a4a" stroke-width="0.45"/>
<line x1="321.98" y1="666.48" x2="321.98" y2="661.88" stroke="#111" stroke-width="0.8"/>
<circle cx="321.98" cy="661.88" r="0.8" fill="#111"/>
<circle cx="321.98" cy="663.26" r="0.75" fill="#111"/>
<rect x="321.08" y="665.28" width="1.8" height="1.2" fill="#111"/>
<path d="M343.76 666.48 C345.28 666.48 352.62 666.55 353.26 666.48 C353.9 666.41 349.22 666.17 347.76 666.02 C346.3 665.87 344.8 665.63 344.16 665.56 C343.52 665.49 343.89 665.56 343.76 665.56 C343.63 665.56 344 665.49 343.36 665.56 C342.72 665.63 341.22 665.87 339.76 666.02 C338.3 666.17 333.62 666.41 334.26 666.48 C334.9 666.55 342.24 666.48 343.76 666.48Z" fill="#c0dcf6" stroke="#4a4a4a" stroke-width="0.45"/>
<path d="M365.54 666.48 C367.06 666.48 374.4 666.55 375.04 666.48 C375.68 666.41 371 666.17 369.54 666.02 C368.08 665.87 366.58 665.63 365.94 665.56 C365.3 665.49 365.67 665.56 365.54 665.56 C365.41 665.56 365.78 665.49 365.14 665.56 C364.5 665.63 363 665.87 361.54 666.02 C360.08 666.17 355.4 666.41 356.04 666.48 C356.68 666.55 364.02 666.48 365.54 666.48Z" fill="#eda0a2" stroke="#4a4a4a" stroke-width="0.45"/>
<line x1="365.54" y1="666.48" x2="365.54" y2="660.96" stroke="#111" stroke-width="1.5"/>
<circle cx="365.54" cy="660.96" r="0.8" fill="#111"/>
<circle cx="365.54" cy="662.62" r="0.75" fill="#111"/>
<rect x="364.64" y="665.28" width="1.8" height="1.2" fill="#111"/>
<path d="M387.32 666.48 C388.84 666.48 396.18 666.55 396.82 666.48 C397.46 666.41 392.78 666.17 391.32 666.02 C389.86 665.87 388.36 665.63 387.72 665.56 C387.08 665.49 387.45 665.56 387.32 665.56 C387.19 665.56 387.56 665.49 386.92 665.56 C386.28 665.63 384.78 665.87 383.32 666.02 C381.86 666.17 377.18 666.41 377.82 666.48 C378.46 666.55 385.8 666.48 387.32 666.48Z" fill="#f6c4c6" stroke="#4a4a4a" stroke-width="0.45"/>
<line x1="387.32" y1="666.48" x2="387.32" y2="660.96" stroke="#111" stroke-width="1.5"/>
<circle cx="387.32" cy="660.96" r="0.8" fill="#111"/>
<circle cx="387.32" cy="662.62" r="0.75" fill="#111"/>
<rect x="386.42" y="665.28" width="1.8" height="1.2" fill="#111"/>
<path d="M409.1 666.48 C410.62 666.48 417.96 666.55 418.6 666.48 C419.24 666.41 414.56 666.17 413.1 666.02 C411.64 665.87 410.14 665.63 409.5 665.56 C408.86 665.49 409.23 665.56 409.1 665.56 C408.97 665.56 409.34 665.49 408.7 665.56 C408.06 665.63 406.56 665.87 405.1 666.02 C403.64 666.17 398.96 666.41 399.6 666.48 C400.24 666.55 407.58 666.48 409.1 666.48Z" fill="#f8b67c" stroke="#4a4a4a" stroke-width="0.45"/>
<line x1="409.1" y1="666.48" x2="409.1" y2="660.96" stroke="#111" stroke-width="0.8"/>
<circle cx="409.1" cy="660.96" r="0.8" fill="#111"/>
<circle cx="409.1" cy="662.62" r="0.75" fill="#111"/>
<rect x="408.2" y="665.28" width="1.8" height="1.2" fill="#111"/>
<path d="M430.88 666.48 C432.4 666.48 439.74 666.55 440.38 666.48 C441.02 666.41 436.34 666.17 434.88 666.02 C433.42 665.87 431.92 665.63 431.28 665.56 C430.64 665.49 431.01 665.56 430.88 665.56 C430.75 665.56 431.12 665.49 430.48 665.56 C429.84 665.63 428.34 665.87 426.88 666.02 C425.42 666.17 420.74 666.41 421.38 666.48 C422.02 666.55 429.36 666.48 430.88 666.48Z" fill="#b88a7c" stroke="#4a4a4a" stroke-width="0.45"/>
<path d="M452.66 666.48 C454.18 666.48 461.52 666.55 462.16 666.48 C462.8 666.41 458.12 666.17 456.66 666.02 C455.2 665.87 453.7 665.63 453.06 665.56 C452.42 665.49 452.79 665.56 452.66 665.56 C452.53 665.56 452.9 665.49 452.26 665.56 C451.62 665.63 450.12 665.87 448.66 666.02 C447.2 666.17 442.52 666.41 443.16 666.48 C443.8 666.55 451.14 666.48 452.66 666.48Z" fill="#98d294" stroke="#4a4a4a" stroke-width="0.45"/>
<path d="M474.44 666.48 C476.04 666.48 483.48 666.63 484.44 666.48 C485.4 666.33 481.48 665.93 480.44 665.56 C479.4 665.19 478.42 664.7 477.94 664.18 C477.46 663.66 477.2 662.93 477.44 662.34 C477.68 661.75 478.48 661.02 479.44 660.5 C480.4 659.98 483.28 659.49 483.44 659.12 C483.6 658.75 481.83 658.42 480.44 658.2 C479.05 657.98 475.7 657.81 474.74 657.74 C473.78 657.67 474.54 657.74 474.44 657.74 C474.34 657.74 475.1 657.67 474.14 657.74 C473.18 657.81 469.83 657.98 468.44 658.2 C467.05 658.42 465.28 658.75 465.44 659.12 C465.6 659.49 468.48 659.98 469.44 660.5 C470.4 661.02 471.2 661.75 471.44 662.34 C471.68 662.93 471.42 663.66 470.94 664.18 C470.46 664.7 469.48 665.19 468.44 665.56 C467.4 665.93 463.48 666.33 464.44 666.48 C465.4 666.63 472.84 666.48 474.44 666.48Z" fill="#c4c4c4" stroke="#555555" stroke-width="0.38"/>
<line x1="474.44" y1="666.48" x2="474.44" y2="657.74" stroke="#111" stroke-width="0.5"/>
<rect x="473.14" y="659.12" width="2.6" height="5.52" fill="#c4c4c4" fill-opacity="0.85" stroke="#222" stroke-width="0.4"/>
<line x1="473.14" y1="661.88" x2="475.74" y2="661.88" stroke="#111" stroke-width="0.7"/>
<path d="M496.22 666.48 C497.66 666.48 504.26 666.63 505.22 666.48 C506.18 666.33 503.02 665.85 502.22 665.56 C501.42 665.27 500.7 665.01 500.22 664.64 C499.74 664.27 499.3 663.7 499.22 663.26 C499.14 662.82 499.56 662.32 499.72 661.88 C499.88 661.44 500.3 660.94 500.22 660.5 C500.14 660.06 499.81 659.41 499.22 659.12 C498.63 658.83 497 658.73 496.52 658.66 C496.04 658.59 496.32 658.66 496.22 658.66 C496.12 658.66 496.4 658.59 495.92 658.66 C495.44 658.73 493.81 658.83 493.22 659.12 C492.63 659.41 492.3 660.06 492.22 660.5 C492.14 660.94 492.56 661.44 492.72 661.88 C492.88 662.32 493.3 662.82 493.22 663.26 C493.14 663.7 492.7 664.27 492.22 664.64 C491.74 665.01 491.02 665.27 490.22 665.56 C489.42 665.85 486.26 666.33 487.22 666.48 C488.18 666.63 494.78 666.48 496.22 666.48Z" fill="#f4f29a" stroke="#8a8a3a" stroke-width="0.38"/>
<line x1="496.22" y1="666.48" x2="496.22" y2="658.66" stroke="#111" stroke-width="0.5"/>
<rect x="494.92" y="659.58" width="2.6" height="5.52" fill="#f4f29a" fill-opacity="0.85" stroke="#222" stroke-width="0.4"/>
<line x1="494.92" y1="662.34" x2="497.52" y2="662.34" stroke="#111" stroke-width="0.7"/>
<text x="508.9" y="658.18" font-size="8.8" font-style="italic" text-anchor="end" fill="#1a1a1a" textLength="25.1" lengthAdjust="spacingAndGlyphs">Pdgfra</text>
<line x1="263.2" y1="445" x2="263.2" y2="568" stroke="#231f20" stroke-width="0.7"/>
<text transform="translate(265.4 669.8) rotate(-90)" font-size="9.3" fill="#231f20" textLength="96.8" lengthAdjust="spacingAndGlyphs">Normalized expression</text>
<text transform="translate(301.5 677.1) rotate(-45)" font-size="9.6" fill="#231f20" text-anchor="end" textLength="44" lengthAdjust="spacingAndGlyphs">C1:ENDO-VE</text>
<text transform="translate(323.7 677.25) rotate(-45)" font-size="9.6" fill="#231f20" text-anchor="end" textLength="44.5" lengthAdjust="spacingAndGlyphs">C2:ENDO-UC</text>
<text transform="translate(345.9 677.4) rotate(-45)" font-size="9.6" fill="#231f20" text-anchor="end" textLength="45" lengthAdjust="spacingAndGlyphs">C3:ENDO-AE</text>
<text transform="translate(368.1 677.55) rotate(-45)" font-size="9.6" fill="#231f20" text-anchor="end" textLength="40" lengthAdjust="spacingAndGlyphs">C4:pre-HE<tspan font-size="5.4" baseline-shift="3.4">KO</tspan></text>
<text transform="translate(390.3 677.7) rotate(-45)" font-size="9.6" fill="#231f20" text-anchor="end" textLength="33.8" lengthAdjust="spacingAndGlyphs">C5:pre-HE</text>
<text transform="translate(412.5 677.85) rotate(-45)" font-size="9.6" fill="#231f20" text-anchor="end" textLength="18.6" lengthAdjust="spacingAndGlyphs">C6:HE</text>
<text transform="translate(434.7 678) rotate(-45)" font-size="9.6" fill="#231f20" text-anchor="end" textLength="23.4" lengthAdjust="spacingAndGlyphs">C7:EHT</text>
<text transform="translate(456.9 678.15) rotate(-45)" font-size="9.6" fill="#231f20" text-anchor="end" textLength="29" lengthAdjust="spacingAndGlyphs">C8:IAHC</text>
<text transform="translate(479.1 678.3) rotate(-45)" font-size="9.6" fill="#231f20" text-anchor="end" textLength="58.2" lengthAdjust="spacingAndGlyphs">C9:MES-PDGFRa</text>
<text transform="translate(501.3 678.45) rotate(-45)" font-size="9.6" fill="#231f20" text-anchor="end" textLength="50" lengthAdjust="spacingAndGlyphs">C10:MES-SMA</text>
<path d="M0.5 0.5 H519.1 V730.2 H0.5 Z" fill="none" stroke="#0c0a0b" stroke-width="1.1"/>
<rect x="518.6" y="0" width="1.4" height="731" fill="#0c0a0b"/>
<rect x="0" y="729.6" width="520" height="1.4" fill="#0c0a0b"/>
</svg>
</body></html>
